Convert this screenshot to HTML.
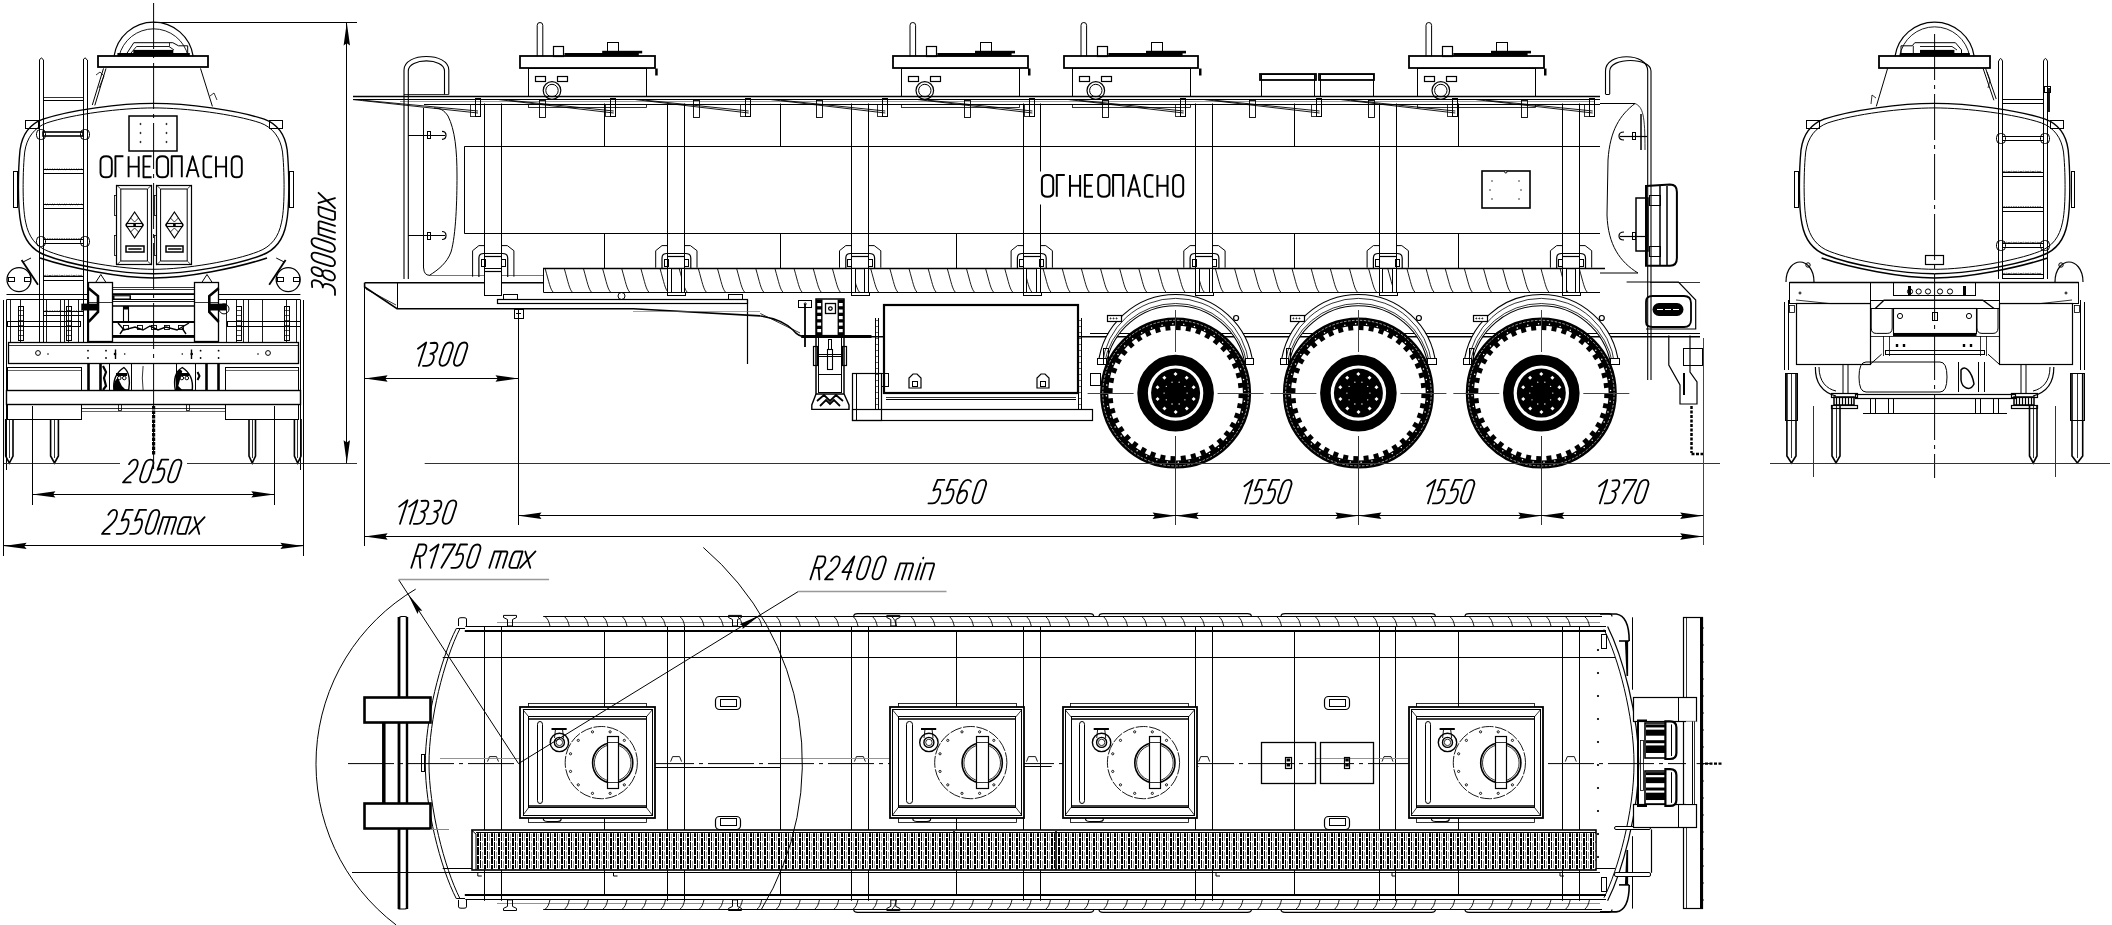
<!DOCTYPE html>
<html><head><meta charset="utf-8"><style>
html,body{margin:0;padding:0;background:#fff;width:2112px;height:925px;overflow:hidden;font-family:"Liberation Sans",sans-serif;}
svg{display:block}
</style></head><body>
<svg width="2112" height="925" viewBox="0 0 2112 925" shape-rendering="auto">
<rect width="2112" height="925" fill="#fff"/>
<line x1="153.6" y1="3" x2="153.6" y2="470" stroke="#000" stroke-width="1" stroke-dasharray="46,5,4,5"/>
<path d="M114,56.4 A40,40 0 0 1 193.2,56.4" fill="none" stroke="#000" stroke-width="1.2" />
<path d="M119,56.4 A35.5,35.5 0 0 1 188.2,56.4" fill="none" stroke="#000" stroke-width="0.9" />
<path d="M127.1,53 L133.8,42.7 L172.8,42.7 L178.5,45.8 L187.7,45.8 L187.7,53" fill="none" stroke="#000" stroke-width="1" />
<path d="M131,53 L136.5,46.5 L169,46.5 L174,50" fill="none" stroke="#000" stroke-width="0.9" />
<line x1="169.5" y1="42.7" x2="169.5" y2="46.5" stroke="#000" stroke-width="0.8"/>
<rect x="117.4" y="53" width="72.4" height="3.3" fill="#000"/>
<rect x="133.3" y="49.9" width="40" height="3.2" fill="#000"/>
<rect x="98" y="56" width="110" height="11" fill="none" stroke="#000" stroke-width="1.8"/>
<line x1="106" y1="68.4" x2="94.8" y2="105.4" stroke="#000" stroke-width="1"/>
<line x1="103.5" y1="68.4" x2="92.3" y2="105" stroke="#000" stroke-width="1"/>
<line x1="200.5" y1="68.4" x2="212.4" y2="106.4" stroke="#000" stroke-width="1"/>
<path d="M96,75 L100,72 L104,76 L99,88" fill="none" stroke="#000" stroke-width="0.8" />
<path d="M210,96 L214,93 L217,100" fill="none" stroke="#000" stroke-width="0.8" />
<path d="M 153.60 103.40 C 120.00 103.40 70.00 110.00 43.00 119.20 C 30.00 124.00 22.00 135.00 20.00 150.00 C 18.50 165.00 18.40 180.00 18.40 187.30 C 18.40 200.00 19.00 215.00 21.00 224.00 C 24.00 240.00 32.00 250.00 45.00 255.00 C 70.00 265.00 120.00 273.80 153.60 273.80" fill="none" stroke="#000" stroke-width="1.4" />
<path d="M 153.60 103.40 C 187.20 103.40 237.20 110.00 264.20 119.20 C 277.20 124.00 285.20 135.00 287.20 150.00 C 288.70 165.00 288.80 180.00 288.80 187.30 C 288.80 200.00 288.20 215.00 286.20 224.00 C 283.20 240.00 275.20 250.00 262.20 255.00 C 237.20 265.00 187.20 273.80 153.60 273.80" fill="none" stroke="#000" stroke-width="1.4" />
<g transform="translate(5.38,10.00) scale(0.965,0.947)"><path d="M 153.60 103.40 C 120.00 103.40 70.00 110.00 43.00 119.20 C 30.00 124.00 22.00 135.00 20.00 150.00 C 18.50 165.00 18.40 180.00 18.40 187.30 C 18.40 200.00 19.00 215.00 21.00 224.00 C 24.00 240.00 32.00 250.00 45.00 255.00 C 70.00 265.00 120.00 273.80 153.60 273.80" fill="none" stroke="#000" stroke-width="1" vector-effect="non-scaling-stroke"/><path d="M 153.60 103.40 C 187.20 103.40 237.20 110.00 264.20 119.20 C 277.20 124.00 285.20 135.00 287.20 150.00 C 288.70 165.00 288.80 180.00 288.80 187.30 C 288.80 200.00 288.20 215.00 286.20 224.00 C 283.20 240.00 275.20 250.00 262.20 255.00 C 237.20 265.00 187.20 273.80 153.60 273.80" fill="none" stroke="#000" stroke-width="1" vector-effect="non-scaling-stroke"/></g>
<path d="M40,258 C70,268 120,278 153.6,278 C187,278 237,268 267,258" fill="none" stroke="#000" stroke-width="1.6" />
<rect x="13.5" y="171.5" width="4" height="36" fill="none" stroke="#000" stroke-width="1"/>
<rect x="289.5" y="171.5" width="4" height="36" fill="none" stroke="#000" stroke-width="1"/>
<rect x="25.5" y="120.5" width="13" height="8" fill="none" stroke="#000" stroke-width="1"/>
<rect x="269.5" y="120.5" width="13" height="8" fill="none" stroke="#000" stroke-width="1"/>
<rect x="129" y="116" width="48" height="35" fill="none" stroke="#000" stroke-width="1.5"/>
<circle cx="140.5" cy="124" r="0.6" fill="none" stroke="#000" stroke-width="1"/>
<circle cx="166.5" cy="124" r="0.6" fill="none" stroke="#000" stroke-width="1"/>
<circle cx="140.5" cy="133" r="0.6" fill="none" stroke="#000" stroke-width="1"/>
<circle cx="166.5" cy="133" r="0.6" fill="none" stroke="#000" stroke-width="1"/>
<circle cx="140.5" cy="142" r="0.6" fill="none" stroke="#000" stroke-width="1"/>
<circle cx="166.5" cy="142" r="0.6" fill="none" stroke="#000" stroke-width="1"/>
<path d="M0,0.22 C0,0.08 0.2,0 0.5,0 C0.8,0 1,0.08 1,0.22 L1,0.78 C1,0.92 0.8,1 0.5,1 C0.2,1 0,0.92 0,0.78 Z" transform="matrix(11.3,0,0,21,100.50,156.3)" fill="none" stroke="#000" stroke-width="1.9" vector-effect="non-scaling-stroke" stroke-linecap="butt" stroke-linejoin="round"/>
<path d="M0,1 L0,0 L1,0" transform="matrix(8,0,0,21,115.40,156.3)" fill="none" stroke="#000" stroke-width="1.9" vector-effect="non-scaling-stroke" stroke-linecap="butt" stroke-linejoin="round"/>
<path d="M0,0 L0,1 M1,0 L1,1 M0,0.49 L1,0.49" transform="matrix(10.1,0,0,21,128.60,156.3)" fill="none" stroke="#000" stroke-width="1.9" vector-effect="non-scaling-stroke" stroke-linecap="butt" stroke-linejoin="round"/>
<path d="M1,0 L0,0 L0,1 L1,1 M0,0.49 L0.85,0.49" transform="matrix(8.1,0,0,21,143.50,156.3)" fill="none" stroke="#000" stroke-width="1.9" vector-effect="non-scaling-stroke" stroke-linecap="butt" stroke-linejoin="round"/>
<path d="M0,0.22 C0,0.08 0.2,0 0.5,0 C0.8,0 1,0.08 1,0.22 L1,0.78 C1,0.92 0.8,1 0.5,1 C0.2,1 0,0.92 0,0.78 Z" transform="matrix(11.3,0,0,21,156.80,156.3)" fill="none" stroke="#000" stroke-width="1.9" vector-effect="non-scaling-stroke" stroke-linecap="butt" stroke-linejoin="round"/>
<path d="M0,1 L0,0 L1,0 L1,1" transform="matrix(10.1,0,0,21,171.70,156.3)" fill="none" stroke="#000" stroke-width="1.9" vector-effect="non-scaling-stroke" stroke-linecap="butt" stroke-linejoin="round"/>
<path d="M0,1 L0.5,0 L1,1 M0.19,0.66 L0.81,0.66" transform="matrix(12.1,0,0,21,186.60,156.3)" fill="none" stroke="#000" stroke-width="1.9" vector-effect="non-scaling-stroke" stroke-linecap="butt" stroke-linejoin="round"/>
<path d="M1,0.02 C0.9,0 0.75,0 0.5,0 C0.2,0 0,0.08 0,0.22 L0,0.78 C0,0.92 0.2,1 0.5,1 C0.75,1 0.9,1 1,0.98" transform="matrix(8.6,0,0,21,203.50,156.3)" fill="none" stroke="#000" stroke-width="1.9" vector-effect="non-scaling-stroke" stroke-linecap="butt" stroke-linejoin="round"/>
<path d="M0,0 L0,1 M1,0 L1,1 M0,0.49 L1,0.49" transform="matrix(10.1,0,0,21,216.00,156.3)" fill="none" stroke="#000" stroke-width="1.9" vector-effect="non-scaling-stroke" stroke-linecap="butt" stroke-linejoin="round"/>
<path d="M0,0.22 C0,0.08 0.2,0 0.5,0 C0.8,0 1,0.08 1,0.22 L1,0.78 C1,0.92 0.8,1 0.5,1 C0.2,1 0,0.92 0,0.78 Z" transform="matrix(10.1,0,0,21,231.70,156.3)" fill="none" stroke="#000" stroke-width="1.9" vector-effect="non-scaling-stroke" stroke-linecap="butt" stroke-linejoin="round"/>
<rect x="116.5" y="185.5" width="35" height="79" fill="none" stroke="#000" stroke-width="1.2"/>
<path d="M120.8,189 L147.4,189 L147.4,261 L120.8,261 Z" fill="none" stroke="#000" stroke-width="1" />
<line x1="116.8" y1="185.3" x2="120.8" y2="189" stroke="#000" stroke-width="0.8"/>
<line x1="151.4" y1="185.3" x2="147.4" y2="189" stroke="#000" stroke-width="0.8"/>
<line x1="116.8" y1="264.8" x2="120.8" y2="261" stroke="#000" stroke-width="0.8"/>
<line x1="151.4" y1="264.8" x2="147.4" y2="261" stroke="#000" stroke-width="0.8"/>
<rect x="114.5" y="195.5" width="2" height="20" fill="none" stroke="#000" stroke-width="0.8"/>
<rect x="114.5" y="235.5" width="2" height="20" fill="none" stroke="#000" stroke-width="0.8"/>
<path d="M134.6,212 L143.3,225 L134.6,238 L125.9,225 Z" fill="none" stroke="#000" stroke-width="1.2" />
<rect x="126.5" y="223.5" width="16" height="3" fill="none" stroke="#000" stroke-width="1.2"/>
<rect x="133.3" y="223.4" width="2.6" height="3.2" fill="#000" stroke="#000" stroke-width="0"/>
<path d="M130.6,218 L134.6,222 L138.6,218 M130.6,232 L134.6,228 L138.6,232" fill="none" stroke="#000" stroke-width="0.8" />
<rect x="126" y="246" width="18" height="6" fill="none" stroke="#000" stroke-width="1.5"/>
<line x1="128.3" y1="249" x2="141.6" y2="249" stroke="#000" stroke-width="1.5"/>
<rect x="156.5" y="185.5" width="35" height="79" fill="none" stroke="#000" stroke-width="1.2"/>
<path d="M160.6,189 L187.2,189 L187.2,261 L160.6,261 Z" fill="none" stroke="#000" stroke-width="1" />
<line x1="156.6" y1="185.3" x2="160.6" y2="189" stroke="#000" stroke-width="0.8"/>
<line x1="191.2" y1="185.3" x2="187.2" y2="189" stroke="#000" stroke-width="0.8"/>
<line x1="156.6" y1="264.8" x2="160.6" y2="261" stroke="#000" stroke-width="0.8"/>
<line x1="191.2" y1="264.8" x2="187.2" y2="261" stroke="#000" stroke-width="0.8"/>
<rect x="154.5" y="195.5" width="2" height="20" fill="none" stroke="#000" stroke-width="0.8"/>
<rect x="154.5" y="235.5" width="2" height="20" fill="none" stroke="#000" stroke-width="0.8"/>
<path d="M174.4,212 L183.1,225 L174.4,238 L165.7,225 Z" fill="none" stroke="#000" stroke-width="1.2" />
<rect x="166.5" y="223.5" width="16" height="3" fill="none" stroke="#000" stroke-width="1.2"/>
<rect x="173.1" y="223.4" width="2.6" height="3.2" fill="#000" stroke="#000" stroke-width="0"/>
<path d="M170.4,218 L174.4,222 L178.4,218 M170.4,232 L174.4,228 L178.4,232" fill="none" stroke="#000" stroke-width="0.8" />
<rect x="166" y="246" width="17" height="6" fill="none" stroke="#000" stroke-width="1.5"/>
<line x1="168.1" y1="249" x2="181.4" y2="249" stroke="#000" stroke-width="1.5"/>
<line x1="39.5" y1="60" x2="39.5" y2="342" stroke="#000" stroke-width="1"/>
<line x1="43.5" y1="60" x2="43.5" y2="342" stroke="#000" stroke-width="1"/>
<line x1="83.5" y1="60" x2="83.5" y2="342" stroke="#000" stroke-width="1"/>
<line x1="87.5" y1="60" x2="87.5" y2="342" stroke="#000" stroke-width="1"/>
<path d="M39.5,60 Q41.4,56 43.3,60" fill="none" stroke="#000" stroke-width="1" />
<path d="M83.2,60 Q85.1,56 87,60" fill="none" stroke="#000" stroke-width="1" />
<rect x="43" y="132" width="40" height="4" fill="none" stroke="#000" stroke-width="1.6"/>
<rect x="43.5" y="169.5" width="40" height="4" fill="none" stroke="#000" stroke-width="1"/>
<path d="M44,169.7 q1.2,-1.5 2.4,0 q1.2,-1.5 2.4,0 q1.2,-1.5 2.4,0 q1.2,-1.5 2.4,0 q1.2,-1.5 2.4,0 q1.2,-1.5 2.4,0 q1.2,-1.5 2.4,0 q1.2,-1.5 2.4,0 q1.2,-1.5 2.4,0 q1.2,-1.5 2.4,0 q1.2,-1.5 2.4,0 q1.2,-1.5 2.4,0 q1.2,-1.5 2.4,0 q1.2,-1.5 2.4,0 q1.2,-1.5 2.4,0 q1.2,-1.5 2.4,0" fill="none" stroke="#000" stroke-width="0.7" />
<rect x="43.5" y="204.5" width="40" height="4" fill="none" stroke="#000" stroke-width="1"/>
<path d="M44,204.8 q1.2,-1.5 2.4,0 q1.2,-1.5 2.4,0 q1.2,-1.5 2.4,0 q1.2,-1.5 2.4,0 q1.2,-1.5 2.4,0 q1.2,-1.5 2.4,0 q1.2,-1.5 2.4,0 q1.2,-1.5 2.4,0 q1.2,-1.5 2.4,0 q1.2,-1.5 2.4,0 q1.2,-1.5 2.4,0 q1.2,-1.5 2.4,0 q1.2,-1.5 2.4,0 q1.2,-1.5 2.4,0 q1.2,-1.5 2.4,0 q1.2,-1.5 2.4,0" fill="none" stroke="#000" stroke-width="0.7" />
<rect x="43.5" y="239.5" width="40" height="4" fill="none" stroke="#000" stroke-width="1"/>
<path d="M44,239.4 q1.2,-1.5 2.4,0 q1.2,-1.5 2.4,0 q1.2,-1.5 2.4,0 q1.2,-1.5 2.4,0 q1.2,-1.5 2.4,0 q1.2,-1.5 2.4,0 q1.2,-1.5 2.4,0 q1.2,-1.5 2.4,0 q1.2,-1.5 2.4,0 q1.2,-1.5 2.4,0 q1.2,-1.5 2.4,0 q1.2,-1.5 2.4,0 q1.2,-1.5 2.4,0 q1.2,-1.5 2.4,0 q1.2,-1.5 2.4,0 q1.2,-1.5 2.4,0" fill="none" stroke="#000" stroke-width="0.7" />
<rect x="43.5" y="276.5" width="40" height="4" fill="none" stroke="#000" stroke-width="1"/>
<path d="M44,276 q1.2,-1.5 2.4,0 q1.2,-1.5 2.4,0 q1.2,-1.5 2.4,0 q1.2,-1.5 2.4,0 q1.2,-1.5 2.4,0 q1.2,-1.5 2.4,0 q1.2,-1.5 2.4,0 q1.2,-1.5 2.4,0 q1.2,-1.5 2.4,0 q1.2,-1.5 2.4,0 q1.2,-1.5 2.4,0 q1.2,-1.5 2.4,0 q1.2,-1.5 2.4,0 q1.2,-1.5 2.4,0 q1.2,-1.5 2.4,0 q1.2,-1.5 2.4,0" fill="none" stroke="#000" stroke-width="0.7" />
<rect x="43.5" y="311.5" width="40" height="4" fill="none" stroke="#000" stroke-width="1"/>
<path d="M44,311.6 q1.2,-1.5 2.4,0 q1.2,-1.5 2.4,0 q1.2,-1.5 2.4,0 q1.2,-1.5 2.4,0 q1.2,-1.5 2.4,0 q1.2,-1.5 2.4,0 q1.2,-1.5 2.4,0 q1.2,-1.5 2.4,0 q1.2,-1.5 2.4,0 q1.2,-1.5 2.4,0 q1.2,-1.5 2.4,0 q1.2,-1.5 2.4,0 q1.2,-1.5 2.4,0 q1.2,-1.5 2.4,0 q1.2,-1.5 2.4,0 q1.2,-1.5 2.4,0" fill="none" stroke="#000" stroke-width="0.7" />
<rect x="36.5" y="129.5" width="9" height="10" fill="none" stroke="#000" stroke-width="1" rx="4"/>
<rect x="80.5" y="129.5" width="9" height="10" fill="none" stroke="#000" stroke-width="1" rx="4"/>
<rect x="36.5" y="236.5" width="9" height="10" fill="none" stroke="#000" stroke-width="1" rx="4"/>
<rect x="80.5" y="236.5" width="9" height="10" fill="none" stroke="#000" stroke-width="1" rx="4"/>
<line x1="43.3" y1="100.5" x2="83.2" y2="100.5" stroke="#000" stroke-width="1"/>
<line x1="43.3" y1="97.5" x2="83.2" y2="97.5" stroke="#000" stroke-width="0.8"/>
<circle cx="19" cy="279.6" r="12" fill="none" stroke="#000" stroke-width="1.3"/>
<rect x="8.5" y="277.5" width="6" height="4" fill="none" stroke="#000" stroke-width="1"/>
<rect x="24.5" y="277.5" width="6" height="4" fill="none" stroke="#000" stroke-width="1"/>
<line x1="21.6" y1="260" x2="38" y2="284.8" stroke="#000" stroke-width="1.8"/>
<line x1="23" y1="262" x2="31" y2="258" stroke="#000" stroke-width="1"/>
<circle cx="288.2" cy="279.6" r="12" fill="none" stroke="#000" stroke-width="1.3"/>
<rect x="277.5" y="277.5" width="6" height="4" fill="none" stroke="#000" stroke-width="1"/>
<rect x="293.5" y="277.5" width="6" height="4" fill="none" stroke="#000" stroke-width="1"/>
<line x1="285.6" y1="260" x2="269.2" y2="284.8" stroke="#000" stroke-width="1.8"/>
<line x1="284.2" y1="262" x2="276.2" y2="258" stroke="#000" stroke-width="1"/>
<line x1="6.5" y1="294.5" x2="300.4" y2="294.5" stroke="#000" stroke-width="1.2"/>
<line x1="6.5" y1="299.5" x2="300.4" y2="299.5" stroke="#000" stroke-width="1"/>
<line x1="6.5" y1="299.7" x2="6.5" y2="470" stroke="#000" stroke-width="1"/>
<line x1="300.5" y1="299.7" x2="300.5" y2="470" stroke="#000" stroke-width="1"/>
<line x1="10.5" y1="300" x2="10.5" y2="342" stroke="#000" stroke-width="0.9"/>
<line x1="20.5" y1="300" x2="20.5" y2="342" stroke="#000" stroke-width="0.9"/>
<line x1="46.5" y1="300" x2="46.5" y2="342" stroke="#000" stroke-width="0.9"/>
<line x1="60.5" y1="300" x2="60.5" y2="342" stroke="#000" stroke-width="0.9"/>
<line x1="64.5" y1="300" x2="64.5" y2="342" stroke="#000" stroke-width="0.9"/>
<line x1="68.5" y1="300" x2="68.5" y2="342" stroke="#000" stroke-width="0.9"/>
<line x1="78.5" y1="300" x2="78.5" y2="342" stroke="#000" stroke-width="0.9"/>
<line x1="226.5" y1="300" x2="226.5" y2="342" stroke="#000" stroke-width="0.9"/>
<line x1="236.5" y1="300" x2="236.5" y2="342" stroke="#000" stroke-width="0.9"/>
<line x1="243.5" y1="300" x2="243.5" y2="342" stroke="#000" stroke-width="0.9"/>
<line x1="248.5" y1="300" x2="248.5" y2="342" stroke="#000" stroke-width="0.9"/>
<line x1="262.5" y1="300" x2="262.5" y2="342" stroke="#000" stroke-width="0.9"/>
<line x1="286.5" y1="300" x2="286.5" y2="342" stroke="#000" stroke-width="0.9"/>
<line x1="296.5" y1="300" x2="296.5" y2="342" stroke="#000" stroke-width="0.9"/>
<rect x="18.5" y="306.5" width="5" height="34" fill="none" stroke="#000" stroke-width="1"/>
<line x1="18" y1="310.5" x2="23" y2="310.5" stroke="#000" stroke-width="0.7"/>
<line x1="18" y1="315.5" x2="23" y2="315.5" stroke="#000" stroke-width="0.7"/>
<line x1="18" y1="320.5" x2="23" y2="320.5" stroke="#000" stroke-width="0.7"/>
<line x1="18" y1="325.5" x2="23" y2="325.5" stroke="#000" stroke-width="0.7"/>
<line x1="18" y1="330.5" x2="23" y2="330.5" stroke="#000" stroke-width="0.7"/>
<line x1="18" y1="335.5" x2="23" y2="335.5" stroke="#000" stroke-width="0.7"/>
<rect x="66.5" y="306.5" width="5" height="34" fill="none" stroke="#000" stroke-width="1"/>
<line x1="66" y1="310.5" x2="71" y2="310.5" stroke="#000" stroke-width="0.7"/>
<line x1="66" y1="315.5" x2="71" y2="315.5" stroke="#000" stroke-width="0.7"/>
<line x1="66" y1="320.5" x2="71" y2="320.5" stroke="#000" stroke-width="0.7"/>
<line x1="66" y1="325.5" x2="71" y2="325.5" stroke="#000" stroke-width="0.7"/>
<line x1="66" y1="330.5" x2="71" y2="330.5" stroke="#000" stroke-width="0.7"/>
<line x1="66" y1="335.5" x2="71" y2="335.5" stroke="#000" stroke-width="0.7"/>
<rect x="236.5" y="306.5" width="5" height="34" fill="none" stroke="#000" stroke-width="1"/>
<line x1="236" y1="310.5" x2="241" y2="310.5" stroke="#000" stroke-width="0.7"/>
<line x1="236" y1="315.5" x2="241" y2="315.5" stroke="#000" stroke-width="0.7"/>
<line x1="236" y1="320.5" x2="241" y2="320.5" stroke="#000" stroke-width="0.7"/>
<line x1="236" y1="325.5" x2="241" y2="325.5" stroke="#000" stroke-width="0.7"/>
<line x1="236" y1="330.5" x2="241" y2="330.5" stroke="#000" stroke-width="0.7"/>
<line x1="236" y1="335.5" x2="241" y2="335.5" stroke="#000" stroke-width="0.7"/>
<rect x="284.5" y="306.5" width="5" height="34" fill="none" stroke="#000" stroke-width="1"/>
<line x1="284" y1="310.5" x2="289" y2="310.5" stroke="#000" stroke-width="0.7"/>
<line x1="284" y1="315.5" x2="289" y2="315.5" stroke="#000" stroke-width="0.7"/>
<line x1="284" y1="320.5" x2="289" y2="320.5" stroke="#000" stroke-width="0.7"/>
<line x1="284" y1="325.5" x2="289" y2="325.5" stroke="#000" stroke-width="0.7"/>
<line x1="284" y1="330.5" x2="289" y2="330.5" stroke="#000" stroke-width="0.7"/>
<line x1="284" y1="335.5" x2="289" y2="335.5" stroke="#000" stroke-width="0.7"/>
<rect x="7.5" y="321.5" width="73" height="5" fill="none" stroke="#000" stroke-width="1"/>
<rect x="227.5" y="321.5" width="73" height="5" fill="none" stroke="#000" stroke-width="1"/>
<rect x="88.5" y="282.5" width="24" height="59" fill="#fff" stroke="#000" stroke-width="1.3"/>
<rect x="194.5" y="282.5" width="24" height="59" fill="#fff" stroke="#000" stroke-width="1.3"/>
<line x1="88.6" y1="302.5" x2="112.1" y2="302.5" stroke="#000" stroke-width="0.8"/>
<line x1="194.4" y1="302.5" x2="218.7" y2="302.5" stroke="#000" stroke-width="0.8"/>
<line x1="112.1" y1="287.5" x2="194.4" y2="287.5" stroke="#000" stroke-width="0.8"/>
<line x1="112.1" y1="289.5" x2="194.4" y2="289.5" stroke="#000" stroke-width="0.8"/>
<line x1="112.1" y1="293.5" x2="194.4" y2="293.5" stroke="#000" stroke-width="0.8"/>
<line x1="112.1" y1="301.5" x2="194.4" y2="301.5" stroke="#000" stroke-width="0.9"/>
<line x1="112.1" y1="306" x2="194.4" y2="306" stroke="#000" stroke-width="1.6"/>
<line x1="112.1" y1="322" x2="194.4" y2="322" stroke="#000" stroke-width="1.8"/>
<line x1="112.1" y1="336" x2="194.4" y2="336" stroke="#000" stroke-width="2.2"/>
<line x1="112.1" y1="337.5" x2="194.4" y2="337.5" stroke="#000" stroke-width="0.9"/>
<rect x="113" y="295.2" width="18" height="4.4" fill="#000"/><rect x="114.5" y="296.3" width="15" height="2.2" fill="#fff"/>
<rect x="123.5" y="306.5" width="5" height="15" fill="none" stroke="#000" stroke-width="1.1"/>
<rect x="123.5" y="306.5" width="4.8" height="3" fill="#000"/>
<path d="M118,323 L124,330 L135,327 L143,330 L150,326 L158,330 L166,327 L177,330 L189,323 M120,334 L124,328 M186,334 L182,328" fill="none" stroke="#000" stroke-width="1.4" />
<rect x="123.5" y="325.5" width="5" height="4" fill="none" stroke="#000" stroke-width="0.9"/>
<rect x="137.5" y="325.5" width="5" height="4" fill="none" stroke="#000" stroke-width="0.9"/>
<rect x="151.5" y="325.5" width="5" height="4" fill="none" stroke="#000" stroke-width="0.9"/>
<rect x="164.5" y="325.5" width="5" height="4" fill="none" stroke="#000" stroke-width="0.9"/>
<rect x="178.5" y="325.5" width="5" height="4" fill="none" stroke="#000" stroke-width="0.9"/>
<path d="M95.8,282.2 L100.8,274.5 L105.8,282.2" fill="none" stroke="#000" stroke-width="1" />
<path d="M202,282.2 L207,274.5 L212,282.2" fill="none" stroke="#000" stroke-width="1" />
<path d="M88.6,288.2 L98,296 L98,312 L88.6,321.9" fill="none" stroke="#000" stroke-width="2.6" />
<rect x="81.3" y="303.6" width="16.7" height="6.9" fill="#000"/>
<path d="M218.7,288.2 L209.3,296 L209.3,312 L218.7,321.9" fill="none" stroke="#000" stroke-width="2.6" />
<rect x="209.3" y="303.6" width="16.7" height="6.9" fill="#000"/>
<circle cx="224" cy="308.9" r="5" fill="none" stroke="#000" stroke-width="1"/>
<rect x="8.5" y="342.5" width="290" height="21" fill="none" stroke="#000" stroke-width="1.3"/>
<line x1="8.6" y1="345.5" x2="298.3" y2="345.5" stroke="#000" stroke-width="0.8"/>
<circle cx="88" cy="350.7" r="0.9" fill="#000" stroke="#000" stroke-width="0"/>
<circle cx="88" cy="358" r="0.9" fill="#000" stroke="#000" stroke-width="0"/>
<circle cx="106" cy="350.7" r="0.9" fill="#000" stroke="#000" stroke-width="0"/>
<circle cx="106" cy="358" r="0.9" fill="#000" stroke="#000" stroke-width="0"/>
<circle cx="200.6" cy="350.7" r="0.9" fill="#000" stroke="#000" stroke-width="0"/>
<circle cx="200.6" cy="358" r="0.9" fill="#000" stroke="#000" stroke-width="0"/>
<circle cx="218.6" cy="350.7" r="0.9" fill="#000" stroke="#000" stroke-width="0"/>
<circle cx="218.6" cy="358" r="0.9" fill="#000" stroke="#000" stroke-width="0"/>
<line x1="115.5" y1="349.5" x2="115.5" y2="359" stroke="#000" stroke-width="1.4"/>
<circle cx="115" cy="354" r="1.3" fill="#000" stroke="#000" stroke-width="0"/>
<line x1="191.5" y1="349.5" x2="191.5" y2="359" stroke="#000" stroke-width="1.4"/>
<circle cx="191.7" cy="354" r="1.3" fill="#000" stroke="#000" stroke-width="0"/>
<circle cx="124.7" cy="354" r="0.8" fill="#000" stroke="#000" stroke-width="0"/>
<circle cx="182.3" cy="354" r="0.8" fill="#000" stroke="#000" stroke-width="0"/>
<circle cx="48" cy="354" r="0.8" fill="#000" stroke="#000" stroke-width="0"/>
<circle cx="258" cy="354" r="0.8" fill="#000" stroke="#000" stroke-width="0"/>
<circle cx="38" cy="353" r="2.4" fill="none" stroke="#000" stroke-width="1"/>
<circle cx="268" cy="353" r="2.4" fill="none" stroke="#000" stroke-width="1"/>
<rect x="7.5" y="367.5" width="74" height="23" fill="none" stroke="#000" stroke-width="1"/>
<rect x="225.5" y="367.5" width="73" height="23" fill="none" stroke="#000" stroke-width="1"/>
<line x1="7.8" y1="370.5" x2="81.7" y2="370.5" stroke="#000" stroke-width="0.6"/>
<line x1="225.7" y1="370.5" x2="298.3" y2="370.5" stroke="#000" stroke-width="0.6"/>
<line x1="88.5" y1="364" x2="88.5" y2="390.5" stroke="#000" stroke-width="2.6"/>
<line x1="100.5" y1="364" x2="100.5" y2="390.5" stroke="#000" stroke-width="2.6"/>
<line x1="109.5" y1="364" x2="109.5" y2="390.5" stroke="#000" stroke-width="1"/>
<line x1="131.5" y1="364" x2="131.5" y2="390.5" stroke="#000" stroke-width="1"/>
<line x1="176.5" y1="364" x2="176.5" y2="390.5" stroke="#000" stroke-width="1"/>
<line x1="195.5" y1="364" x2="195.5" y2="390.5" stroke="#000" stroke-width="1"/>
<line x1="206.5" y1="364" x2="206.5" y2="390.5" stroke="#000" stroke-width="2.6"/>
<line x1="218.5" y1="364" x2="218.5" y2="390.5" stroke="#000" stroke-width="2.6"/>
<path d="M103,366 L106,372 L104,378 L106,386 L103,390" fill="none" stroke="#000" stroke-width="2.2" />
<path d="M197.5,372 L199.5,376 L197.5,380" fill="none" stroke="#000" stroke-width="2" />
<path d="M143.1,366 Q141.5,378 143.1,390" fill="none" stroke="#000" stroke-width="0.8" />
<path d="M113.9,390 C112.9,380 116.9,372 123.9,367.5 C129.7,372 130.2,382 128.7,390 Z" fill="none" stroke="#000" stroke-width="1.4" />
<path d="M113.9,390 C112.9,384 114.9,380 117.9,378 L121.9,386 L125.9,390 Z" fill="#000"/>
<circle cx="119.3" cy="378" r="1.8" fill="none" stroke="#000" stroke-width="1"/>
<circle cx="124.3" cy="378" r="1.8" fill="none" stroke="#000" stroke-width="1"/>
<rect x="116.5" y="373.5" width="10" height="2" fill="#000" stroke="#000" stroke-width="1"/>
<path d="M192.3,390 C193.3,380 189.3,372 182.3,367.5 C174.3,372 173.8,382 175.3,390 Z" fill="none" stroke="#000" stroke-width="1.4" />
<path d="M175.3,376 L179.3,369 L182.3,371 L178.3,386 L182.3,390 L176.3,390 Z" fill="#000"/>
<circle cx="181.8" cy="378" r="1.8" fill="none" stroke="#000" stroke-width="1"/>
<circle cx="186.8" cy="378" r="1.8" fill="none" stroke="#000" stroke-width="1"/>
<rect x="178.5" y="373.5" width="10" height="2" fill="#000" stroke="#000" stroke-width="1"/>
<rect x="6.5" y="390.5" width="294" height="14" fill="none" stroke="#000" stroke-width="1.4"/>
<rect x="7.5" y="404.5" width="74" height="15" fill="none" stroke="#000" stroke-width="1"/>
<rect x="225.5" y="404.5" width="73" height="15" fill="none" stroke="#000" stroke-width="1"/>
<rect x="118.5" y="404.5" width="3" height="6" fill="none" stroke="#000" stroke-width="0.8"/>
<rect x="186.5" y="404.5" width="3" height="6" fill="none" stroke="#000" stroke-width="0.8"/>
<line x1="81.7" y1="408.5" x2="225.7" y2="408.5" stroke="#000" stroke-width="0.8"/>
<line x1="81.7" y1="411.5" x2="225.7" y2="411.5" stroke="#000" stroke-width="0.6"/>
<path d="M5.7,419 L5.7,456 L9.35,463 L13,456 L13,419" fill="none" stroke="#000" stroke-width="1.6" />
<line x1="9.5" y1="419" x2="9.5" y2="458" stroke="#000" stroke-width="0.8"/>
<path d="M50.6,419 L50.6,456 L54.5,463 L58.4,456 L58.4,419" fill="none" stroke="#000" stroke-width="1.6" />
<line x1="54.5" y1="419" x2="54.5" y2="458" stroke="#000" stroke-width="0.8"/>
<path d="M249,419 L249,456 L252.25,463 L255.5,456 L255.5,419" fill="none" stroke="#000" stroke-width="1.6" />
<line x1="252.5" y1="419" x2="252.5" y2="458" stroke="#000" stroke-width="0.8"/>
<path d="M294.4,419 L294.4,456 L297.7,463 L301,456 L301,419" fill="none" stroke="#000" stroke-width="1.6" />
<line x1="297.5" y1="419" x2="297.5" y2="458" stroke="#000" stroke-width="0.8"/>
<line x1="153.6" y1="406" x2="153.6" y2="455" stroke="#000" stroke-width="3.2" stroke-dasharray="3.5,1"/>
<line x1="353" y1="96.5" x2="1600" y2="96.5" stroke="#000" stroke-width="1.3"/>
<line x1="353" y1="99.5" x2="1600" y2="99.5" stroke="#000" stroke-width="1.2"/>
<line x1="400" y1="101.5" x2="1595" y2="101.5" stroke="#888" stroke-width="0.8"/>
<path d="M353,99.6 L478,113 M363,100.2 L478,111" fill="none" stroke="#000" stroke-width="0.9" />
<path d="M498.8,99.6 L613.7,113 M508.8,100.2 L613.7,111" fill="none" stroke="#000" stroke-width="0.9" />
<path d="M635.5,99.6 L748.7,113 M645.5,100.2 L748.7,111" fill="none" stroke="#000" stroke-width="0.9" />
<path d="M771,99.6 L885.3,113 M781,100.2 L885.3,111" fill="none" stroke="#000" stroke-width="0.9" />
<path d="M918,99.6 L1032.4,113 M928,100.2 L1032.4,111" fill="none" stroke="#000" stroke-width="0.9" />
<path d="M1068.7,99.6 L1183.6,113 M1078.7,100.2 L1183.6,111" fill="none" stroke="#000" stroke-width="0.9" />
<path d="M1204.4,99.6 L1319.6,113 M1214.4,100.2 L1319.6,111" fill="none" stroke="#000" stroke-width="0.9" />
<path d="M1341,99.6 L1455.3,113 M1351,100.2 L1455.3,111" fill="none" stroke="#000" stroke-width="0.9" />
<path d="M1476,99.6 L1592.7,113 M1486,100.2 L1592.7,111" fill="none" stroke="#000" stroke-width="0.9" />
<rect x="475.5" y="98.5" width="5" height="18" fill="none" stroke="#000" stroke-width="1"/>
<rect x="470.5" y="104.5" width="5" height="12" fill="none" stroke="#000" stroke-width="0.8"/>
<rect x="610.5" y="98.5" width="5" height="18" fill="none" stroke="#000" stroke-width="1"/>
<rect x="605.5" y="104.5" width="5" height="12" fill="none" stroke="#000" stroke-width="0.8"/>
<rect x="745.5" y="98.5" width="5" height="18" fill="none" stroke="#000" stroke-width="1"/>
<rect x="740.5" y="104.5" width="5" height="12" fill="none" stroke="#000" stroke-width="0.8"/>
<rect x="882.5" y="98.5" width="5" height="18" fill="none" stroke="#000" stroke-width="1"/>
<rect x="877.5" y="104.5" width="5" height="12" fill="none" stroke="#000" stroke-width="0.8"/>
<rect x="1029.5" y="98.5" width="5" height="18" fill="none" stroke="#000" stroke-width="1"/>
<rect x="1024.5" y="104.5" width="5" height="12" fill="none" stroke="#000" stroke-width="0.8"/>
<rect x="1180.5" y="98.5" width="5" height="18" fill="none" stroke="#000" stroke-width="1"/>
<rect x="1175.5" y="104.5" width="5" height="12" fill="none" stroke="#000" stroke-width="0.8"/>
<rect x="1316.5" y="98.5" width="5" height="18" fill="none" stroke="#000" stroke-width="1"/>
<rect x="1311.5" y="104.5" width="5" height="12" fill="none" stroke="#000" stroke-width="0.8"/>
<rect x="1452.5" y="98.5" width="5" height="18" fill="none" stroke="#000" stroke-width="1"/>
<rect x="1447.5" y="104.5" width="5" height="12" fill="none" stroke="#000" stroke-width="0.8"/>
<rect x="1589.5" y="98.5" width="5" height="18" fill="none" stroke="#000" stroke-width="1"/>
<rect x="1584.5" y="104.5" width="5" height="12" fill="none" stroke="#000" stroke-width="0.8"/>
<rect x="539.5" y="100.5" width="6" height="17" fill="none" stroke="#000" stroke-width="0.9"/>
<rect x="693.5" y="100.5" width="6" height="17" fill="none" stroke="#000" stroke-width="0.9"/>
<rect x="816.5" y="100.5" width="6" height="17" fill="none" stroke="#000" stroke-width="0.9"/>
<rect x="964.5" y="100.5" width="6" height="17" fill="none" stroke="#000" stroke-width="0.9"/>
<rect x="1102.5" y="100.5" width="6" height="17" fill="none" stroke="#000" stroke-width="0.9"/>
<rect x="1249.5" y="100.5" width="6" height="17" fill="none" stroke="#000" stroke-width="0.9"/>
<rect x="1368.5" y="100.5" width="6" height="17" fill="none" stroke="#000" stroke-width="0.9"/>
<rect x="1521.5" y="100.5" width="6" height="17" fill="none" stroke="#000" stroke-width="0.9"/>
<rect x="520" y="56" width="135" height="12" fill="none" stroke="#000" stroke-width="1.8"/>
<rect x="528.5" y="68.5" width="118" height="28" fill="none" stroke="#000" stroke-width="1"/>
<path d="M537.2,56.4 L537.2,25.3 A2.8,2.8 0 0 1 542.8000000000001,25.3 L542.8000000000001,56.4" fill="none" stroke="#000" stroke-width="1" />
<rect x="553.5" y="46.5" width="10" height="10" fill="none" stroke="#000" stroke-width="1.2"/>
<rect x="564.5" y="53" width="74.3" height="3.4" fill="#000"/>
<rect x="602.2" y="50.8" width="40" height="2.6" fill="#000"/>
<rect x="607.5" y="42.5" width="11" height="11" fill="none" stroke="#000" stroke-width="1"/>
<rect x="535.5" y="76.5" width="10" height="5" fill="none" stroke="#000" stroke-width="1.2"/>
<rect x="557.5" y="76.5" width="10" height="5" fill="none" stroke="#000" stroke-width="1.2"/>
<circle cx="552" cy="90.5" r="8.8" fill="none" stroke="#000" stroke-width="1.2"/>
<circle cx="552" cy="90.5" r="6.2" fill="none" stroke="#000" stroke-width="1"/>
<rect x="528.5" y="104.5" width="118" height="3" fill="none" stroke="#000" stroke-width="0.8"/>
<rect x="655.2" y="68.5" width="2.5" height="7" fill="#000"/>
<rect x="893" y="56" width="135" height="12" fill="none" stroke="#000" stroke-width="1.8"/>
<rect x="901.5" y="68.5" width="118" height="28" fill="none" stroke="#000" stroke-width="1"/>
<path d="M910.0,56.4 L910.0,25.3 A2.8,2.8 0 0 1 915.6,25.3 L915.6,56.4" fill="none" stroke="#000" stroke-width="1" />
<rect x="926.5" y="46.5" width="10" height="10" fill="none" stroke="#000" stroke-width="1.2"/>
<rect x="937.3" y="53" width="74.3" height="3.4" fill="#000"/>
<rect x="975" y="50.8" width="40" height="2.6" fill="#000"/>
<rect x="980.5" y="42.5" width="11" height="11" fill="none" stroke="#000" stroke-width="1"/>
<rect x="908.5" y="76.5" width="10" height="5" fill="none" stroke="#000" stroke-width="1.2"/>
<rect x="930.5" y="76.5" width="10" height="5" fill="none" stroke="#000" stroke-width="1.2"/>
<circle cx="924.8" cy="90.5" r="8.8" fill="none" stroke="#000" stroke-width="1.2"/>
<circle cx="924.8" cy="90.5" r="6.2" fill="none" stroke="#000" stroke-width="1"/>
<rect x="901.5" y="104.5" width="118" height="3" fill="none" stroke="#000" stroke-width="0.8"/>
<rect x="1028" y="68.5" width="2.5" height="7" fill="#000"/>
<rect x="1064" y="56" width="134" height="12" fill="none" stroke="#000" stroke-width="1.8"/>
<rect x="1072.5" y="68.5" width="118" height="28" fill="none" stroke="#000" stroke-width="1"/>
<path d="M1081.0,56.4 L1081.0,25.3 A2.8,2.8 0 0 1 1086.6,25.3 L1086.6,56.4" fill="none" stroke="#000" stroke-width="1" />
<rect x="1097.5" y="46.5" width="10" height="10" fill="none" stroke="#000" stroke-width="1.2"/>
<rect x="1108.3" y="53" width="74.3" height="3.4" fill="#000"/>
<rect x="1146" y="50.8" width="40" height="2.6" fill="#000"/>
<rect x="1151.5" y="42.5" width="11" height="11" fill="none" stroke="#000" stroke-width="1"/>
<rect x="1079.5" y="76.5" width="10" height="5" fill="none" stroke="#000" stroke-width="1.2"/>
<rect x="1101.5" y="76.5" width="10" height="5" fill="none" stroke="#000" stroke-width="1.2"/>
<circle cx="1095.8" cy="90.5" r="8.8" fill="none" stroke="#000" stroke-width="1.2"/>
<circle cx="1095.8" cy="90.5" r="6.2" fill="none" stroke="#000" stroke-width="1"/>
<rect x="1072.5" y="104.5" width="118" height="3" fill="none" stroke="#000" stroke-width="0.8"/>
<rect x="1199" y="68.5" width="2.5" height="7" fill="#000"/>
<rect x="1409" y="56" width="135" height="12" fill="none" stroke="#000" stroke-width="1.8"/>
<rect x="1417.5" y="68.5" width="118" height="28" fill="none" stroke="#000" stroke-width="1"/>
<path d="M1426.0,56.4 L1426.0,25.3 A2.8,2.8 0 0 1 1431.6,25.3 L1431.6,56.4" fill="none" stroke="#000" stroke-width="1" />
<rect x="1442.5" y="46.5" width="10" height="10" fill="none" stroke="#000" stroke-width="1.2"/>
<rect x="1453.3" y="53" width="74.3" height="3.4" fill="#000"/>
<rect x="1491" y="50.8" width="40" height="2.6" fill="#000"/>
<rect x="1496.5" y="42.5" width="11" height="11" fill="none" stroke="#000" stroke-width="1"/>
<rect x="1424.5" y="76.5" width="10" height="5" fill="none" stroke="#000" stroke-width="1.2"/>
<rect x="1446.5" y="76.5" width="10" height="5" fill="none" stroke="#000" stroke-width="1.2"/>
<circle cx="1440.8" cy="90.5" r="8.8" fill="none" stroke="#000" stroke-width="1.2"/>
<circle cx="1440.8" cy="90.5" r="6.2" fill="none" stroke="#000" stroke-width="1"/>
<rect x="1417.5" y="104.5" width="118" height="3" fill="none" stroke="#000" stroke-width="0.8"/>
<rect x="1544" y="68.5" width="2.5" height="7" fill="#000"/>
<rect x="1261.5" y="74.5" width="53" height="22" fill="none" stroke="#000" stroke-width="1"/>
<rect x="1260" y="74" width="56" height="6" fill="none" stroke="#000" stroke-width="1.8"/>
<rect x="1320.5" y="74.5" width="53" height="22" fill="none" stroke="#000" stroke-width="1"/>
<rect x="1319" y="74" width="55" height="6" fill="none" stroke="#000" stroke-width="1.8"/>
<line x1="424" y1="104.5" x2="1600" y2="104.5" stroke="#000" stroke-width="1.1"/>
<line x1="464.5" y1="146.5" x2="1600" y2="146.5" stroke="#000" stroke-width="1"/>
<line x1="464.5" y1="233.5" x2="1600" y2="233.5" stroke="#000" stroke-width="1"/>
<line x1="464.5" y1="146.4" x2="464.5" y2="233.6" stroke="#000" stroke-width="1"/>
<line x1="543" y1="268.5" x2="1605" y2="268.5" stroke="#000" stroke-width="1.4"/>
<line x1="429" y1="275.5" x2="543" y2="275.5" stroke="#666" stroke-width="0.9"/>
<line x1="604.5" y1="103.5" x2="604.5" y2="146.4" stroke="#000" stroke-width="1"/>
<line x1="780.5" y1="103.5" x2="780.5" y2="146.4" stroke="#000" stroke-width="1"/>
<line x1="1294.5" y1="103.5" x2="1294.5" y2="146.4" stroke="#000" stroke-width="1"/>
<line x1="1458.5" y1="103.5" x2="1458.5" y2="146.4" stroke="#000" stroke-width="1"/>
<line x1="604.5" y1="233.6" x2="604.5" y2="268.3" stroke="#000" stroke-width="1"/>
<line x1="780.5" y1="233.6" x2="780.5" y2="268.3" stroke="#000" stroke-width="1"/>
<line x1="956.5" y1="233.6" x2="956.5" y2="268.3" stroke="#000" stroke-width="1"/>
<line x1="1294.5" y1="233.6" x2="1294.5" y2="268.3" stroke="#000" stroke-width="1"/>
<line x1="1458.5" y1="233.6" x2="1458.5" y2="268.3" stroke="#000" stroke-width="1"/>
<line x1="423.5" y1="108" x2="423.5" y2="268" stroke="#000" stroke-width="1"/>
<path d="M423.6,268 Q424,275.3 429.5,275.3 C438,270 447,263 451,252 C456,235 457,200 457,176 C457,150 455,130 448,116 C444,110 440,108 434,108" fill="none" stroke="#000" stroke-width="1" />
<path d="M404,279 L404,70 C404,52 448.8,52 448.8,70 L448.8,94.5" fill="none" stroke="#000" stroke-width="1.1" />
<path d="M408.3,279 L408.3,71 C408.3,57.5 444.5,57.5 444.5,71 L444.5,94.5" fill="none" stroke="#000" stroke-width="1.1" />
<line x1="404" y1="94.5" x2="448.8" y2="94.5" stroke="#000" stroke-width="0.8"/>
<line x1="408" y1="135.5" x2="445" y2="135.5" stroke="#000" stroke-width="1.2"/>
<rect x="427.5" y="131.5" width="3" height="7" fill="none" stroke="#000" stroke-width="1"/>
<path d="M442,131.3 Q446,131.3 446,135.3 Q446,139.3 442,139.3" fill="none" stroke="#000" stroke-width="1.2" />
<line x1="408" y1="235.5" x2="445" y2="235.5" stroke="#000" stroke-width="1.2"/>
<rect x="427.5" y="232.5" width="3" height="7" fill="none" stroke="#000" stroke-width="1"/>
<path d="M442,231.5 Q446,231.5 446,235.5 Q446,239.5 442,239.5" fill="none" stroke="#000" stroke-width="1.2" />
<line x1="543.4" y1="268.5" x2="1600" y2="268.5" stroke="#000" stroke-width="1"/>
<line x1="543.4" y1="292.5" x2="1600" y2="292.5" stroke="#000" stroke-width="1"/>
<line x1="543.5" y1="268.5" x2="543.5" y2="292.2" stroke="#000" stroke-width="1"/>
<path d="M545.2,268.8 C549.2,283 550.2,289 553.2,292.2" fill="none" stroke="#000" stroke-width="0.9" />
<path d="M564.35,268.8 C568.35,283 569.35,289 572.35,292.2" fill="none" stroke="#000" stroke-width="0.9" />
<path d="M583.5,268.8 C587.5,283 588.5,289 591.5,292.2" fill="none" stroke="#000" stroke-width="0.9" />
<path d="M602.65,268.8 C606.65,283 607.65,289 610.65,292.2" fill="none" stroke="#000" stroke-width="0.9" />
<path d="M621.8,268.8 C625.8,283 626.8,289 629.8,292.2" fill="none" stroke="#000" stroke-width="0.9" />
<path d="M640.95,268.8 C644.95,283 645.95,289 648.95,292.2" fill="none" stroke="#000" stroke-width="0.9" />
<path d="M660.1,268.8 C664.1,283 665.1,289 668.1,292.2" fill="none" stroke="#000" stroke-width="0.9" />
<path d="M679.25,268.8 C683.25,283 684.25,289 687.25,292.2" fill="none" stroke="#000" stroke-width="0.9" />
<path d="M698.4,268.8 C702.4,283 703.4,289 706.4,292.2" fill="none" stroke="#000" stroke-width="0.9" />
<path d="M717.55,268.8 C721.55,283 722.55,289 725.55,292.2" fill="none" stroke="#000" stroke-width="0.9" />
<path d="M736.7,268.8 C740.7,283 741.7,289 744.7,292.2" fill="none" stroke="#000" stroke-width="0.9" />
<path d="M755.85,268.8 C759.85,283 760.85,289 763.85,292.2" fill="none" stroke="#000" stroke-width="0.9" />
<path d="M775,268.8 C779,283 780,289 783,292.2" fill="none" stroke="#000" stroke-width="0.9" />
<path d="M794.15,268.8 C798.15,283 799.15,289 802.15,292.2" fill="none" stroke="#000" stroke-width="0.9" />
<path d="M813.3,268.8 C817.3,283 818.3,289 821.3,292.2" fill="none" stroke="#000" stroke-width="0.9" />
<path d="M832.45,268.8 C836.45,283 837.45,289 840.45,292.2" fill="none" stroke="#000" stroke-width="0.9" />
<path d="M851.6,268.8 C855.6,283 856.6,289 859.6,292.2" fill="none" stroke="#000" stroke-width="0.9" />
<path d="M870.75,268.8 C874.75,283 875.75,289 878.75,292.2" fill="none" stroke="#000" stroke-width="0.9" />
<path d="M889.9,268.8 C893.9,283 894.9,289 897.9,292.2" fill="none" stroke="#000" stroke-width="0.9" />
<path d="M909.05,268.8 C913.05,283 914.05,289 917.05,292.2" fill="none" stroke="#000" stroke-width="0.9" />
<path d="M928.2,268.8 C932.2,283 933.2,289 936.2,292.2" fill="none" stroke="#000" stroke-width="0.9" />
<path d="M947.35,268.8 C951.35,283 952.35,289 955.35,292.2" fill="none" stroke="#000" stroke-width="0.9" />
<path d="M966.5,268.8 C970.5,283 971.5,289 974.5,292.2" fill="none" stroke="#000" stroke-width="0.9" />
<path d="M985.65,268.8 C989.65,283 990.65,289 993.65,292.2" fill="none" stroke="#000" stroke-width="0.9" />
<path d="M1004.8,268.8 C1008.8,283 1009.8,289 1012.8,292.2" fill="none" stroke="#000" stroke-width="0.9" />
<path d="M1023.95,268.8 C1027.95,283 1028.95,289 1031.95,292.2" fill="none" stroke="#000" stroke-width="0.9" />
<path d="M1043.1,268.8 C1047.1,283 1048.1,289 1051.1,292.2" fill="none" stroke="#000" stroke-width="0.9" />
<path d="M1062.25,268.8 C1066.25,283 1067.25,289 1070.25,292.2" fill="none" stroke="#000" stroke-width="0.9" />
<path d="M1081.4,268.8 C1085.4,283 1086.4,289 1089.4,292.2" fill="none" stroke="#000" stroke-width="0.9" />
<path d="M1100.55,268.8 C1104.55,283 1105.55,289 1108.55,292.2" fill="none" stroke="#000" stroke-width="0.9" />
<path d="M1119.7,268.8 C1123.7,283 1124.7,289 1127.7,292.2" fill="none" stroke="#000" stroke-width="0.9" />
<path d="M1138.85,268.8 C1142.85,283 1143.85,289 1146.85,292.2" fill="none" stroke="#000" stroke-width="0.9" />
<path d="M1158,268.8 C1162,283 1163,289 1166,292.2" fill="none" stroke="#000" stroke-width="0.9" />
<path d="M1177.15,268.8 C1181.15,283 1182.15,289 1185.15,292.2" fill="none" stroke="#000" stroke-width="0.9" />
<path d="M1196.3,268.8 C1200.3,283 1201.3,289 1204.3,292.2" fill="none" stroke="#000" stroke-width="0.9" />
<path d="M1215.45,268.8 C1219.45,283 1220.45,289 1223.45,292.2" fill="none" stroke="#000" stroke-width="0.9" />
<path d="M1234.6,268.8 C1238.6,283 1239.6,289 1242.6,292.2" fill="none" stroke="#000" stroke-width="0.9" />
<path d="M1253.75,268.8 C1257.75,283 1258.75,289 1261.75,292.2" fill="none" stroke="#000" stroke-width="0.9" />
<path d="M1272.9,268.8 C1276.9,283 1277.9,289 1280.9,292.2" fill="none" stroke="#000" stroke-width="0.9" />
<path d="M1292.05,268.8 C1296.05,283 1297.05,289 1300.05,292.2" fill="none" stroke="#000" stroke-width="0.9" />
<path d="M1311.2,268.8 C1315.2,283 1316.2,289 1319.2,292.2" fill="none" stroke="#000" stroke-width="0.9" />
<path d="M1330.35,268.8 C1334.35,283 1335.35,289 1338.35,292.2" fill="none" stroke="#000" stroke-width="0.9" />
<path d="M1349.5,268.8 C1353.5,283 1354.5,289 1357.5,292.2" fill="none" stroke="#000" stroke-width="0.9" />
<path d="M1368.65,268.8 C1372.65,283 1373.65,289 1376.65,292.2" fill="none" stroke="#000" stroke-width="0.9" />
<path d="M1387.8,268.8 C1391.8,283 1392.8,289 1395.8,292.2" fill="none" stroke="#000" stroke-width="0.9" />
<path d="M1406.95,268.8 C1410.95,283 1411.95,289 1414.95,292.2" fill="none" stroke="#000" stroke-width="0.9" />
<path d="M1426.1,268.8 C1430.1,283 1431.1,289 1434.1,292.2" fill="none" stroke="#000" stroke-width="0.9" />
<path d="M1445.25,268.8 C1449.25,283 1450.25,289 1453.25,292.2" fill="none" stroke="#000" stroke-width="0.9" />
<path d="M1464.4,268.8 C1468.4,283 1469.4,289 1472.4,292.2" fill="none" stroke="#000" stroke-width="0.9" />
<path d="M1483.55,268.8 C1487.55,283 1488.55,289 1491.55,292.2" fill="none" stroke="#000" stroke-width="0.9" />
<path d="M1502.7,268.8 C1506.7,283 1507.7,289 1510.7,292.2" fill="none" stroke="#000" stroke-width="0.9" />
<path d="M1521.85,268.8 C1525.85,283 1526.85,289 1529.85,292.2" fill="none" stroke="#000" stroke-width="0.9" />
<path d="M1541,268.8 C1545,283 1546,289 1549,292.2" fill="none" stroke="#000" stroke-width="0.9" />
<path d="M1560.15,268.8 C1564.15,283 1565.15,289 1568.15,292.2" fill="none" stroke="#000" stroke-width="0.9" />
<path d="M1579.3,268.8 C1583.3,283 1584.3,289 1587.3,292.2" fill="none" stroke="#000" stroke-width="0.9" />
<line x1="484.5" y1="103.5" x2="484.5" y2="268.3" stroke="#000" stroke-width="1"/>
<line x1="501.5" y1="103.5" x2="501.5" y2="268.3" stroke="#000" stroke-width="1"/>
<path d="M472.6,276.7 L472.6,250.7 L478.9,245.6 L484.5,245.6" fill="none" stroke="#000" stroke-width="1" />
<path d="M501.7,245.6 L507.3,245.6 L513.9,250.7 L513.9,276.7" fill="none" stroke="#000" stroke-width="1" />
<path d="M478.9,277.0 L478.9,258 Q478.9,253.5 483.5,253.5 L502.7,253.5 Q507.7,253.5 507.7,258 L507.7,277.0" fill="none" stroke="#000" stroke-width="1.2" />
<line x1="484.5" y1="256.5" x2="501.7" y2="256.5" stroke="#000" stroke-width="1.2"/>
<rect x="481.5" y="259.5" width="4" height="7" fill="none" stroke="#000" stroke-width="1"/>
<rect x="501.5" y="259.5" width="4" height="7" fill="none" stroke="#000" stroke-width="1"/>
<rect x="484.5" y="268.5" width="17" height="27" fill="#fff" stroke="#000" stroke-width="1"/>
<line x1="484.5" y1="271.5" x2="501.7" y2="271.5" stroke="#000" stroke-width="1.2"/>
<line x1="667.5" y1="103.5" x2="667.5" y2="268.3" stroke="#000" stroke-width="1"/>
<line x1="684.5" y1="103.5" x2="684.5" y2="268.3" stroke="#000" stroke-width="1"/>
<path d="M655.7,267.7 L655.7,250.7 L662,245.6 L667.6,245.6" fill="none" stroke="#000" stroke-width="1" />
<path d="M684.8,245.6 L690.4,245.6 L697,250.7 L697,267.7" fill="none" stroke="#000" stroke-width="1" />
<path d="M662,268.0 L662,258 Q662,253.5 666.6,253.5 L685.8,253.5 Q690.8,253.5 690.8,258 L690.8,268.0" fill="none" stroke="#000" stroke-width="1.2" />
<line x1="667.6" y1="256.5" x2="684.8" y2="256.5" stroke="#000" stroke-width="1.2"/>
<rect x="664.5" y="259.5" width="4" height="7" fill="none" stroke="#000" stroke-width="1"/>
<rect x="684.5" y="259.5" width="4" height="7" fill="none" stroke="#000" stroke-width="1"/>
<rect x="667.5" y="268.5" width="4" height="24" fill="#fff" stroke="#000" stroke-width="1"/>
<rect x="681.5" y="268.5" width="3" height="24" fill="#fff" stroke="#000" stroke-width="1"/>
<rect x="667.5" y="292.5" width="18" height="3" fill="none" stroke="#000" stroke-width="1"/>
<line x1="851.5" y1="103.5" x2="851.5" y2="268.3" stroke="#000" stroke-width="1"/>
<line x1="868.5" y1="103.5" x2="868.5" y2="268.3" stroke="#000" stroke-width="1"/>
<path d="M839.5,267.7 L839.5,250.7 L845.8,245.6 L851.4,245.6" fill="none" stroke="#000" stroke-width="1" />
<path d="M868.6,245.6 L874.2,245.6 L880.8,250.7 L880.8,267.7" fill="none" stroke="#000" stroke-width="1" />
<path d="M845.8,268.0 L845.8,258 Q845.8,253.5 850.4,253.5 L869.6,253.5 Q874.6,253.5 874.6,258 L874.6,268.0" fill="none" stroke="#000" stroke-width="1.2" />
<line x1="851.4" y1="256.5" x2="868.6" y2="256.5" stroke="#000" stroke-width="1.2"/>
<rect x="847.5" y="259.5" width="4" height="7" fill="none" stroke="#000" stroke-width="1"/>
<rect x="868.5" y="259.5" width="4" height="7" fill="none" stroke="#000" stroke-width="1"/>
<rect x="851.5" y="268.5" width="4" height="24" fill="#fff" stroke="#000" stroke-width="1"/>
<rect x="864.5" y="268.5" width="4" height="24" fill="#fff" stroke="#000" stroke-width="1"/>
<rect x="851.5" y="292.5" width="18" height="3" fill="none" stroke="#000" stroke-width="1"/>
<line x1="1023.5" y1="103.5" x2="1023.5" y2="268.3" stroke="#000" stroke-width="1"/>
<line x1="1040.5" y1="103.5" x2="1040.5" y2="268.3" stroke="#000" stroke-width="1"/>
<path d="M1011.1,267.7 L1011.1,250.7 L1017.4,245.6 L1023,245.6" fill="none" stroke="#000" stroke-width="1" />
<path d="M1040.2,245.6 L1045.8,245.6 L1052.4,250.7 L1052.4,267.7" fill="none" stroke="#000" stroke-width="1" />
<path d="M1017.4,268.0 L1017.4,258 Q1017.4,253.5 1022,253.5 L1041.2,253.5 Q1046.2,253.5 1046.2,258 L1046.2,268.0" fill="none" stroke="#000" stroke-width="1.2" />
<line x1="1023" y1="256.5" x2="1040.2" y2="256.5" stroke="#000" stroke-width="1.2"/>
<rect x="1019.5" y="259.5" width="4" height="7" fill="none" stroke="#000" stroke-width="1"/>
<rect x="1039.5" y="259.5" width="4" height="7" fill="none" stroke="#000" stroke-width="1"/>
<rect x="1023.5" y="268.5" width="3" height="24" fill="#fff" stroke="#000" stroke-width="1"/>
<rect x="1036.5" y="268.5" width="4" height="24" fill="#fff" stroke="#000" stroke-width="1"/>
<rect x="1023.5" y="292.5" width="18" height="3" fill="none" stroke="#000" stroke-width="1"/>
<line x1="1195.5" y1="103.5" x2="1195.5" y2="268.3" stroke="#000" stroke-width="1"/>
<line x1="1212.5" y1="103.5" x2="1212.5" y2="268.3" stroke="#000" stroke-width="1"/>
<path d="M1183.8,267.7 L1183.8,250.7 L1190.1,245.6 L1195.7,245.6" fill="none" stroke="#000" stroke-width="1" />
<path d="M1212.9,245.6 L1218.5,245.6 L1225.1,250.7 L1225.1,267.7" fill="none" stroke="#000" stroke-width="1" />
<path d="M1190.1,268.0 L1190.1,258 Q1190.1,253.5 1194.7,253.5 L1213.9,253.5 Q1218.9,253.5 1218.9,258 L1218.9,268.0" fill="none" stroke="#000" stroke-width="1.2" />
<line x1="1195.7" y1="256.5" x2="1212.9" y2="256.5" stroke="#000" stroke-width="1.2"/>
<rect x="1192.5" y="259.5" width="4" height="7" fill="none" stroke="#000" stroke-width="1"/>
<rect x="1212.5" y="259.5" width="4" height="7" fill="none" stroke="#000" stroke-width="1"/>
<rect x="1195.5" y="268.5" width="4" height="24" fill="#fff" stroke="#000" stroke-width="1"/>
<rect x="1209.5" y="268.5" width="3" height="24" fill="#fff" stroke="#000" stroke-width="1"/>
<rect x="1195.5" y="292.5" width="18" height="3" fill="none" stroke="#000" stroke-width="1"/>
<line x1="1379.5" y1="103.5" x2="1379.5" y2="268.3" stroke="#000" stroke-width="1"/>
<line x1="1396.5" y1="103.5" x2="1396.5" y2="268.3" stroke="#000" stroke-width="1"/>
<path d="M1367.1,267.7 L1367.1,250.7 L1373.4,245.6 L1379,245.6" fill="none" stroke="#000" stroke-width="1" />
<path d="M1396.2,245.6 L1401.8,245.6 L1408.4,250.7 L1408.4,267.7" fill="none" stroke="#000" stroke-width="1" />
<path d="M1373.4,268.0 L1373.4,258 Q1373.4,253.5 1378,253.5 L1397.2,253.5 Q1402.2,253.5 1402.2,258 L1402.2,268.0" fill="none" stroke="#000" stroke-width="1.2" />
<line x1="1379" y1="256.5" x2="1396.2" y2="256.5" stroke="#000" stroke-width="1.2"/>
<rect x="1375.5" y="259.5" width="4" height="7" fill="none" stroke="#000" stroke-width="1"/>
<rect x="1395.5" y="259.5" width="4" height="7" fill="none" stroke="#000" stroke-width="1"/>
<rect x="1379.5" y="268.5" width="3" height="24" fill="#fff" stroke="#000" stroke-width="1"/>
<rect x="1392.5" y="268.5" width="4" height="24" fill="#fff" stroke="#000" stroke-width="1"/>
<rect x="1379.5" y="292.5" width="18" height="3" fill="none" stroke="#000" stroke-width="1"/>
<line x1="1562.5" y1="103.5" x2="1562.5" y2="268.3" stroke="#000" stroke-width="1"/>
<line x1="1579.5" y1="103.5" x2="1579.5" y2="268.3" stroke="#000" stroke-width="1"/>
<path d="M1550.4,267.7 L1550.4,250.7 L1556.7,245.6 L1562.3,245.6" fill="none" stroke="#000" stroke-width="1" />
<path d="M1579.5,245.6 L1585.1,245.6 L1591.7,250.7 L1591.7,267.7" fill="none" stroke="#000" stroke-width="1" />
<path d="M1556.7,268.0 L1556.7,258 Q1556.7,253.5 1561.3,253.5 L1580.5,253.5 Q1585.5,253.5 1585.5,258 L1585.5,268.0" fill="none" stroke="#000" stroke-width="1.2" />
<line x1="1562.3" y1="256.5" x2="1579.5" y2="256.5" stroke="#000" stroke-width="1.2"/>
<rect x="1558.5" y="259.5" width="4" height="7" fill="none" stroke="#000" stroke-width="1"/>
<rect x="1579.5" y="259.5" width="4" height="7" fill="none" stroke="#000" stroke-width="1"/>
<rect x="1562.5" y="268.5" width="4" height="24" fill="#fff" stroke="#000" stroke-width="1"/>
<rect x="1575.5" y="268.5" width="4" height="24" fill="#fff" stroke="#000" stroke-width="1"/>
<rect x="1562.5" y="292.5" width="18" height="3" fill="none" stroke="#000" stroke-width="1"/>
<rect x="1039" y="171.5" width="148" height="33" fill="#fff"/>
<path d="M0,0.22 C0,0.08 0.2,0 0.5,0 C0.8,0 1,0.08 1,0.22 L1,0.78 C1,0.92 0.8,1 0.5,1 C0.2,1 0,0.92 0,0.78 Z" transform="matrix(11.3,0,0,21.7,1041.90,175.1)" fill="none" stroke="#000" stroke-width="2" vector-effect="non-scaling-stroke" stroke-linecap="butt" stroke-linejoin="round"/>
<path d="M0,1 L0,0 L1,0" transform="matrix(8,0,0,21.7,1056.80,175.1)" fill="none" stroke="#000" stroke-width="2" vector-effect="non-scaling-stroke" stroke-linecap="butt" stroke-linejoin="round"/>
<path d="M0,0 L0,1 M1,0 L1,1 M0,0.49 L1,0.49" transform="matrix(10.1,0,0,21.7,1070.00,175.1)" fill="none" stroke="#000" stroke-width="2" vector-effect="non-scaling-stroke" stroke-linecap="butt" stroke-linejoin="round"/>
<path d="M1,0 L0,0 L0,1 L1,1 M0,0.49 L0.85,0.49" transform="matrix(8.1,0,0,21.7,1084.90,175.1)" fill="none" stroke="#000" stroke-width="2" vector-effect="non-scaling-stroke" stroke-linecap="butt" stroke-linejoin="round"/>
<path d="M0,0.22 C0,0.08 0.2,0 0.5,0 C0.8,0 1,0.08 1,0.22 L1,0.78 C1,0.92 0.8,1 0.5,1 C0.2,1 0,0.92 0,0.78 Z" transform="matrix(11.3,0,0,21.7,1098.20,175.1)" fill="none" stroke="#000" stroke-width="2" vector-effect="non-scaling-stroke" stroke-linecap="butt" stroke-linejoin="round"/>
<path d="M0,1 L0,0 L1,0 L1,1" transform="matrix(10.1,0,0,21.7,1113.10,175.1)" fill="none" stroke="#000" stroke-width="2" vector-effect="non-scaling-stroke" stroke-linecap="butt" stroke-linejoin="round"/>
<path d="M0,1 L0.5,0 L1,1 M0.19,0.66 L0.81,0.66" transform="matrix(12.1,0,0,21.7,1128.00,175.1)" fill="none" stroke="#000" stroke-width="2" vector-effect="non-scaling-stroke" stroke-linecap="butt" stroke-linejoin="round"/>
<path d="M1,0.02 C0.9,0 0.75,0 0.5,0 C0.2,0 0,0.08 0,0.22 L0,0.78 C0,0.92 0.2,1 0.5,1 C0.75,1 0.9,1 1,0.98" transform="matrix(8.6,0,0,21.7,1144.90,175.1)" fill="none" stroke="#000" stroke-width="2" vector-effect="non-scaling-stroke" stroke-linecap="butt" stroke-linejoin="round"/>
<path d="M0,0 L0,1 M1,0 L1,1 M0,0.49 L1,0.49" transform="matrix(10.1,0,0,21.7,1157.40,175.1)" fill="none" stroke="#000" stroke-width="2" vector-effect="non-scaling-stroke" stroke-linecap="butt" stroke-linejoin="round"/>
<path d="M0,0.22 C0,0.08 0.2,0 0.5,0 C0.8,0 1,0.08 1,0.22 L1,0.78 C1,0.92 0.8,1 0.5,1 C0.2,1 0,0.92 0,0.78 Z" transform="matrix(10.1,0,0,21.7,1173.10,175.1)" fill="none" stroke="#000" stroke-width="2" vector-effect="non-scaling-stroke" stroke-linecap="butt" stroke-linejoin="round"/>
<rect x="1482" y="171" width="48" height="37" fill="none" stroke="#000" stroke-width="1.6"/>
<circle cx="1492" cy="181" r="0.7" fill="#000" stroke="#000" stroke-width="0"/>
<circle cx="1519" cy="181" r="0.7" fill="#000" stroke="#000" stroke-width="0"/>
<circle cx="1490" cy="190" r="0.7" fill="#000" stroke="#000" stroke-width="0"/>
<circle cx="1521" cy="190" r="0.7" fill="#000" stroke="#000" stroke-width="0"/>
<circle cx="1492" cy="199" r="0.7" fill="#000" stroke="#000" stroke-width="0"/>
<circle cx="1519" cy="199" r="0.7" fill="#000" stroke="#000" stroke-width="0"/>
<circle cx="1505.8" cy="171.8" r="1.2" fill="#fff" stroke="#000" stroke-width="1"/>
<path d="M364.6,282.7 L484.5,282.7" fill="none" stroke="#000" stroke-width="1.6" />
<path d="M501.7,282.7 L543.4,282.7" fill="none" stroke="#000" stroke-width="1.6" />
<path d="M364.6,282.7 L364.6,287 L397,308.7 L633.4,308.7 L760.3,315.9" fill="none" stroke="#000" stroke-width="1.6" />
<path d="M760.3,315.9 C775,318 785,322 793,330 C797,335 800,336.7 805,336.7 L1700,336.7" fill="none" stroke="#000" stroke-width="1.5" />
<line x1="760.3" y1="313.5" x2="800" y2="333" stroke="#000" stroke-width="0.8"/>
<line x1="397.5" y1="282.7" x2="397.5" y2="308.7" stroke="#000" stroke-width="1"/>
<line x1="366" y1="289" x2="396" y2="305" stroke="#000" stroke-width="0.8"/>
<rect x="497.5" y="299.5" width="250" height="4" fill="none" stroke="#000" stroke-width="1.2"/>
<line x1="747.5" y1="299.8" x2="747.5" y2="364" stroke="#000" stroke-width="1.2"/>
<line x1="633" y1="311.5" x2="760" y2="311.5" stroke="#666" stroke-width="0.6"/>
<rect x="514.5" y="309.5" width="9" height="9" fill="none" stroke="#000" stroke-width="1"/>
<line x1="516" y1="313.5" x2="521" y2="313.5" stroke="#000" stroke-width="1"/>
<rect x="503.5" y="294.5" width="14" height="5" fill="none" stroke="#000" stroke-width="1"/>
<rect x="728.5" y="294.5" width="14" height="5" fill="none" stroke="#000" stroke-width="1"/>
<circle cx="621.5" cy="296" r="3.5" fill="none" stroke="#000" stroke-width="1"/>
<line x1="805" y1="304" x2="805" y2="347" stroke="#000" stroke-width="1.8"/>
<rect x="798.5" y="300.5" width="13" height="7" fill="none" stroke="#000" stroke-width="1"/>
<circle cx="805.2" cy="303.9" r="1" fill="none" stroke="#000" stroke-width="1"/>
<rect x="816" y="299" width="28" height="95" fill="none" stroke="#000" stroke-width="1.5"/>
<rect x="816" y="299.5" width="6.5" height="35.5" fill="#000"/>
<rect x="837.6" y="299.5" width="6.5" height="35.5" fill="#000"/>
<rect x="817.3" y="303" width="3.8" height="3.2" fill="#fff"/>
<rect x="838.9" y="303" width="3.8" height="3.2" fill="#fff"/>
<rect x="817.3" y="309.5" width="3.8" height="3.2" fill="#fff"/>
<rect x="838.9" y="309.5" width="3.8" height="3.2" fill="#fff"/>
<rect x="817.3" y="316" width="3.8" height="3.2" fill="#fff"/>
<rect x="838.9" y="316" width="3.8" height="3.2" fill="#fff"/>
<rect x="817.3" y="322.5" width="3.8" height="3.2" fill="#fff"/>
<rect x="838.9" y="322.5" width="3.8" height="3.2" fill="#fff"/>
<rect x="817.3" y="329" width="3.8" height="3.2" fill="#fff"/>
<rect x="838.9" y="329" width="3.8" height="3.2" fill="#fff"/>
<rect x="825.5" y="303.5" width="10" height="10" fill="none" stroke="#000" stroke-width="1.3"/>
<circle cx="830.4" cy="308.6" r="1.8" fill="none" stroke="#000" stroke-width="1.3"/>
<line x1="816" y1="335.5" x2="844.1" y2="335.5" stroke="#000" stroke-width="1.2"/>
<rect x="818.5" y="335.5" width="23" height="57" fill="none" stroke="#000" stroke-width="1"/>
<rect x="813.5" y="346.5" width="4" height="19" fill="none" stroke="#000" stroke-width="1.2"/>
<rect x="842.5" y="346.5" width="4" height="19" fill="none" stroke="#000" stroke-width="1.2"/>
<line x1="818.8" y1="354.5" x2="841.3" y2="354.5" stroke="#000" stroke-width="1"/>
<line x1="818.8" y1="356.5" x2="841.3" y2="356.5" stroke="#000" stroke-width="1"/>
<line x1="818.8" y1="374.5" x2="841.3" y2="374.5" stroke="#000" stroke-width="1"/>
<rect x="827.5" y="349.5" width="5" height="20" fill="none" stroke="#000" stroke-width="1.1"/>
<rect x="828.5" y="339.5" width="3" height="10" fill="none" stroke="#000" stroke-width="1"/>
<path d="M816,394 L811.8,405 L811.8,409.4 L849,409.4 L849,405 L844.1,394" fill="none" stroke="#000" stroke-width="1.4" />
<path d="M817,401 L824,395 L830,401 L836,395 L843,401 M820,406 L826,400 L830,404 L834,400 L840,406" fill="none" stroke="#000" stroke-width="1.8" />
<line x1="801.2" y1="335.5" x2="871.5" y2="335.5" stroke="#000" stroke-width="1"/>
<line x1="801.2" y1="337.5" x2="871.5" y2="337.5" stroke="#000" stroke-width="1"/>
<rect x="884" y="305" width="194" height="88" fill="#fff" stroke="#000" stroke-width="2.2"/>
<line x1="886" y1="399.5" x2="1076" y2="399.5" stroke="#000" stroke-width="1"/>
<line x1="886" y1="397.5" x2="1076" y2="397.5" stroke="#000" stroke-width="0.8"/>
<rect x="852.5" y="409.5" width="240" height="11" fill="none" stroke="#000" stroke-width="1.2"/>
<rect x="852.5" y="373.5" width="29" height="47" fill="none" stroke="#000" stroke-width="1.2"/>
<line x1="856.5" y1="373.6" x2="856.5" y2="420.6" stroke="#000" stroke-width="1"/>
<rect x="881.5" y="373.5" width="7" height="13" fill="none" stroke="#000" stroke-width="1"/>
<line x1="875.5" y1="318" x2="875.5" y2="409" stroke="#000" stroke-width="1"/>
<line x1="878.5" y1="318" x2="878.5" y2="409" stroke="#000" stroke-width="1"/>
<line x1="875" y1="320.5" x2="878" y2="320.5" stroke="#000" stroke-width="0.6"/>
<line x1="875" y1="326.5" x2="878" y2="326.5" stroke="#000" stroke-width="0.6"/>
<line x1="875" y1="332.5" x2="878" y2="332.5" stroke="#000" stroke-width="0.6"/>
<line x1="875" y1="338.5" x2="878" y2="338.5" stroke="#000" stroke-width="0.6"/>
<line x1="875" y1="344.5" x2="878" y2="344.5" stroke="#000" stroke-width="0.6"/>
<line x1="875" y1="350.5" x2="878" y2="350.5" stroke="#000" stroke-width="0.6"/>
<line x1="875" y1="356.5" x2="878" y2="356.5" stroke="#000" stroke-width="0.6"/>
<line x1="875" y1="362.5" x2="878" y2="362.5" stroke="#000" stroke-width="0.6"/>
<line x1="875" y1="368.5" x2="878" y2="368.5" stroke="#000" stroke-width="0.6"/>
<line x1="875" y1="374.5" x2="878" y2="374.5" stroke="#000" stroke-width="0.6"/>
<line x1="875" y1="380.5" x2="878" y2="380.5" stroke="#000" stroke-width="0.6"/>
<line x1="875" y1="386.5" x2="878" y2="386.5" stroke="#000" stroke-width="0.6"/>
<line x1="875" y1="392.5" x2="878" y2="392.5" stroke="#000" stroke-width="0.6"/>
<line x1="875" y1="398.5" x2="878" y2="398.5" stroke="#000" stroke-width="0.6"/>
<line x1="875" y1="404.5" x2="878" y2="404.5" stroke="#000" stroke-width="0.6"/>
<line x1="1078.5" y1="318" x2="1078.5" y2="409" stroke="#000" stroke-width="1"/>
<line x1="1081.5" y1="318" x2="1081.5" y2="409" stroke="#000" stroke-width="1"/>
<line x1="1078" y1="320.5" x2="1081" y2="320.5" stroke="#000" stroke-width="0.6"/>
<line x1="1078" y1="326.5" x2="1081" y2="326.5" stroke="#000" stroke-width="0.6"/>
<line x1="1078" y1="332.5" x2="1081" y2="332.5" stroke="#000" stroke-width="0.6"/>
<line x1="1078" y1="338.5" x2="1081" y2="338.5" stroke="#000" stroke-width="0.6"/>
<line x1="1078" y1="344.5" x2="1081" y2="344.5" stroke="#000" stroke-width="0.6"/>
<line x1="1078" y1="350.5" x2="1081" y2="350.5" stroke="#000" stroke-width="0.6"/>
<line x1="1078" y1="356.5" x2="1081" y2="356.5" stroke="#000" stroke-width="0.6"/>
<line x1="1078" y1="362.5" x2="1081" y2="362.5" stroke="#000" stroke-width="0.6"/>
<line x1="1078" y1="368.5" x2="1081" y2="368.5" stroke="#000" stroke-width="0.6"/>
<line x1="1078" y1="374.5" x2="1081" y2="374.5" stroke="#000" stroke-width="0.6"/>
<line x1="1078" y1="380.5" x2="1081" y2="380.5" stroke="#000" stroke-width="0.6"/>
<line x1="1078" y1="386.5" x2="1081" y2="386.5" stroke="#000" stroke-width="0.6"/>
<line x1="1078" y1="392.5" x2="1081" y2="392.5" stroke="#000" stroke-width="0.6"/>
<line x1="1078" y1="398.5" x2="1081" y2="398.5" stroke="#000" stroke-width="0.6"/>
<line x1="1078" y1="404.5" x2="1081" y2="404.5" stroke="#000" stroke-width="0.6"/>
<path d="M909,388 L909,378 L913,374 L917,374 L921,378 L921,388 Z" fill="none" stroke="#000" stroke-width="1.2" />
<rect x="912.5" y="381.5" width="5" height="5" fill="none" stroke="#000" stroke-width="1"/>
<path d="M1037,388 L1037,378 L1041,374 L1045,374 L1049,378 L1049,388 Z" fill="none" stroke="#000" stroke-width="1.2" />
<rect x="1040.5" y="381.5" width="5" height="5" fill="none" stroke="#000" stroke-width="1"/>
<rect x="1090.5" y="373.5" width="10" height="12" fill="none" stroke="#000" stroke-width="1"/>
<line x1="1090" y1="333.5" x2="1700" y2="333.5" stroke="#000" stroke-width="1"/>
<circle cx="1175.6" cy="393.1" r="75" fill="#fff" stroke="#000" stroke-width="0"/>
<circle cx="1175.6" cy="393.1" r="71.4" fill="none" stroke="#000" stroke-width="8.2"/>
<line x1="1238.55" y1="395.57" x2="1243.55" y2="395.77" stroke="#000" stroke-width="5"/>
<circle cx="1244.42" cy="401.25" r="0.75" fill="#fff" stroke="#000" stroke-width="0"/>
<line x1="1237.39" y1="405.39" x2="1242.29" y2="406.37" stroke="#000" stroke-width="5"/>
<circle cx="1242.3" cy="411.91" r="0.75" fill="#fff" stroke="#000" stroke-width="0"/>
<line x1="1234.71" y1="414.91" x2="1239.4" y2="416.64" stroke="#000" stroke-width="5"/>
<circle cx="1238.53" cy="422.11" r="0.75" fill="#fff" stroke="#000" stroke-width="0"/>
<line x1="1230.57" y1="423.88" x2="1234.93" y2="426.33" stroke="#000" stroke-width="5"/>
<circle cx="1233.22" cy="431.6" r="0.75" fill="#fff" stroke="#000" stroke-width="0"/>
<line x1="1225.07" y1="432.1" x2="1229" y2="435.2" stroke="#000" stroke-width="5"/>
<circle cx="1226.49" cy="440.14" r="0.75" fill="#fff" stroke="#000" stroke-width="0"/>
<line x1="1218.36" y1="439.36" x2="1221.76" y2="443.03" stroke="#000" stroke-width="5"/>
<circle cx="1218.5" cy="447.52" r="0.75" fill="#fff" stroke="#000" stroke-width="0"/>
<line x1="1210.6" y1="445.48" x2="1213.38" y2="449.64" stroke="#000" stroke-width="5"/>
<circle cx="1209.46" cy="453.56" r="0.75" fill="#fff" stroke="#000" stroke-width="0"/>
<line x1="1201.98" y1="450.31" x2="1204.07" y2="454.85" stroke="#000" stroke-width="5"/>
<circle cx="1199.59" cy="458.12" r="0.75" fill="#fff" stroke="#000" stroke-width="0"/>
<line x1="1192.7" y1="453.73" x2="1194.06" y2="458.55" stroke="#000" stroke-width="5"/>
<circle cx="1189.12" cy="461.07" r="0.75" fill="#fff" stroke="#000" stroke-width="0"/>
<line x1="1183" y1="455.66" x2="1183.59" y2="460.63" stroke="#000" stroke-width="5"/>
<circle cx="1178.32" cy="462.35" r="0.75" fill="#fff" stroke="#000" stroke-width="0"/>
<line x1="1173.13" y1="456.05" x2="1172.93" y2="461.05" stroke="#000" stroke-width="5"/>
<circle cx="1167.45" cy="461.92" r="0.75" fill="#fff" stroke="#000" stroke-width="0"/>
<line x1="1163.31" y1="454.89" x2="1162.33" y2="459.79" stroke="#000" stroke-width="5"/>
<circle cx="1156.79" cy="459.8" r="0.75" fill="#fff" stroke="#000" stroke-width="0"/>
<line x1="1153.79" y1="452.21" x2="1152.06" y2="456.9" stroke="#000" stroke-width="5"/>
<circle cx="1146.59" cy="456.03" r="0.75" fill="#fff" stroke="#000" stroke-width="0"/>
<line x1="1144.82" y1="448.07" x2="1142.37" y2="452.43" stroke="#000" stroke-width="5"/>
<circle cx="1137.1" cy="450.72" r="0.75" fill="#fff" stroke="#000" stroke-width="0"/>
<line x1="1136.6" y1="442.57" x2="1133.5" y2="446.5" stroke="#000" stroke-width="5"/>
<circle cx="1128.56" cy="443.99" r="0.75" fill="#fff" stroke="#000" stroke-width="0"/>
<line x1="1129.34" y1="435.86" x2="1125.67" y2="439.26" stroke="#000" stroke-width="5"/>
<circle cx="1121.18" cy="436" r="0.75" fill="#fff" stroke="#000" stroke-width="0"/>
<line x1="1123.22" y1="428.1" x2="1119.06" y2="430.88" stroke="#000" stroke-width="5"/>
<circle cx="1115.14" cy="426.96" r="0.75" fill="#fff" stroke="#000" stroke-width="0"/>
<line x1="1118.39" y1="419.48" x2="1113.85" y2="421.57" stroke="#000" stroke-width="5"/>
<circle cx="1110.58" cy="417.09" r="0.75" fill="#fff" stroke="#000" stroke-width="0"/>
<line x1="1114.97" y1="410.2" x2="1110.15" y2="411.56" stroke="#000" stroke-width="5"/>
<circle cx="1107.63" cy="406.62" r="0.75" fill="#fff" stroke="#000" stroke-width="0"/>
<line x1="1113.04" y1="400.5" x2="1108.07" y2="401.09" stroke="#000" stroke-width="5"/>
<circle cx="1106.35" cy="395.82" r="0.75" fill="#fff" stroke="#000" stroke-width="0"/>
<line x1="1112.65" y1="390.63" x2="1107.65" y2="390.43" stroke="#000" stroke-width="5"/>
<circle cx="1106.78" cy="384.95" r="0.75" fill="#fff" stroke="#000" stroke-width="0"/>
<line x1="1113.81" y1="380.81" x2="1108.91" y2="379.83" stroke="#000" stroke-width="5"/>
<circle cx="1108.9" cy="374.29" r="0.75" fill="#fff" stroke="#000" stroke-width="0"/>
<line x1="1116.49" y1="371.29" x2="1111.8" y2="369.56" stroke="#000" stroke-width="5"/>
<circle cx="1112.67" cy="364.09" r="0.75" fill="#fff" stroke="#000" stroke-width="0"/>
<line x1="1120.63" y1="362.32" x2="1116.27" y2="359.87" stroke="#000" stroke-width="5"/>
<circle cx="1117.98" cy="354.6" r="0.75" fill="#fff" stroke="#000" stroke-width="0"/>
<line x1="1126.13" y1="354.1" x2="1122.2" y2="351" stroke="#000" stroke-width="5"/>
<circle cx="1124.71" cy="346.06" r="0.75" fill="#fff" stroke="#000" stroke-width="0"/>
<line x1="1132.84" y1="346.84" x2="1129.44" y2="343.17" stroke="#000" stroke-width="5"/>
<circle cx="1132.7" cy="338.68" r="0.75" fill="#fff" stroke="#000" stroke-width="0"/>
<line x1="1140.6" y1="340.72" x2="1137.82" y2="336.56" stroke="#000" stroke-width="5"/>
<circle cx="1141.74" cy="332.64" r="0.75" fill="#fff" stroke="#000" stroke-width="0"/>
<line x1="1149.22" y1="335.89" x2="1147.13" y2="331.35" stroke="#000" stroke-width="5"/>
<circle cx="1151.61" cy="328.08" r="0.75" fill="#fff" stroke="#000" stroke-width="0"/>
<line x1="1158.5" y1="332.47" x2="1157.14" y2="327.65" stroke="#000" stroke-width="5"/>
<circle cx="1162.08" cy="325.13" r="0.75" fill="#fff" stroke="#000" stroke-width="0"/>
<line x1="1168.2" y1="330.54" x2="1167.61" y2="325.57" stroke="#000" stroke-width="5"/>
<circle cx="1172.88" cy="323.85" r="0.75" fill="#fff" stroke="#000" stroke-width="0"/>
<line x1="1178.07" y1="330.15" x2="1178.27" y2="325.15" stroke="#000" stroke-width="5"/>
<circle cx="1183.75" cy="324.28" r="0.75" fill="#fff" stroke="#000" stroke-width="0"/>
<line x1="1187.89" y1="331.31" x2="1188.87" y2="326.41" stroke="#000" stroke-width="5"/>
<circle cx="1194.41" cy="326.4" r="0.75" fill="#fff" stroke="#000" stroke-width="0"/>
<line x1="1197.41" y1="333.99" x2="1199.14" y2="329.3" stroke="#000" stroke-width="5"/>
<circle cx="1204.61" cy="330.17" r="0.75" fill="#fff" stroke="#000" stroke-width="0"/>
<line x1="1206.38" y1="338.13" x2="1208.83" y2="333.77" stroke="#000" stroke-width="5"/>
<circle cx="1214.1" cy="335.48" r="0.75" fill="#fff" stroke="#000" stroke-width="0"/>
<line x1="1214.6" y1="343.63" x2="1217.7" y2="339.7" stroke="#000" stroke-width="5"/>
<circle cx="1222.64" cy="342.21" r="0.75" fill="#fff" stroke="#000" stroke-width="0"/>
<line x1="1221.86" y1="350.34" x2="1225.53" y2="346.94" stroke="#000" stroke-width="5"/>
<circle cx="1230.02" cy="350.2" r="0.75" fill="#fff" stroke="#000" stroke-width="0"/>
<line x1="1227.98" y1="358.1" x2="1232.14" y2="355.32" stroke="#000" stroke-width="5"/>
<circle cx="1236.06" cy="359.24" r="0.75" fill="#fff" stroke="#000" stroke-width="0"/>
<line x1="1232.81" y1="366.72" x2="1237.35" y2="364.63" stroke="#000" stroke-width="5"/>
<circle cx="1240.62" cy="369.11" r="0.75" fill="#fff" stroke="#000" stroke-width="0"/>
<line x1="1236.23" y1="376" x2="1241.05" y2="374.64" stroke="#000" stroke-width="5"/>
<circle cx="1243.57" cy="379.58" r="0.75" fill="#fff" stroke="#000" stroke-width="0"/>
<line x1="1238.16" y1="385.7" x2="1243.13" y2="385.11" stroke="#000" stroke-width="5"/>
<circle cx="1244.85" cy="390.38" r="0.75" fill="#fff" stroke="#000" stroke-width="0"/>
<circle cx="1175.6" cy="393.1" r="72.8" fill="none" stroke="#fff" stroke-width="0.6" stroke-dasharray="2.5,1.5"/>
<circle cx="1175.6" cy="393.1" r="33" fill="none" stroke="#000" stroke-width="10.6"/>
<circle cx="1175.6" cy="393.1" r="24.5" fill="#000" stroke="#000" stroke-width="0"/>
<path d="M1191.69,398.9 L1193.69,396.9 L1195.69,398.9 L1193.69,400.9 Z" fill="#fff"/>
<path d="M1184.83,408.42 L1186.83,406.42 L1188.83,408.42 L1186.83,410.42 Z" fill="#fff"/>
<path d="M1173.68,412.1 L1175.68,410.1 L1177.68,412.1 L1175.68,414.1 Z" fill="#fff"/>
<path d="M1162.5,408.52 L1164.5,406.52 L1166.5,408.52 L1164.5,410.52 Z" fill="#fff"/>
<path d="M1155.55,399.05 L1157.55,397.05 L1159.55,399.05 L1157.55,401.05 Z" fill="#fff"/>
<path d="M1155.51,387.3 L1157.51,385.3 L1159.51,387.3 L1157.51,389.3 Z" fill="#fff"/>
<path d="M1162.37,377.78 L1164.37,375.78 L1166.37,377.78 L1164.37,379.78 Z" fill="#fff"/>
<path d="M1173.52,374.1 L1175.52,372.1 L1177.52,374.1 L1175.52,376.1 Z" fill="#fff"/>
<path d="M1184.7,377.68 L1186.7,375.68 L1188.7,377.68 L1186.7,379.68 Z" fill="#fff"/>
<path d="M1191.65,387.15 L1193.65,385.15 L1195.65,387.15 L1193.65,389.15 Z" fill="#fff"/>
<circle cx="1187.1" cy="393.1" r="0.7" fill="#fff" stroke="#000" stroke-width="0"/>
<circle cx="1184.9" cy="399.86" r="0.7" fill="#fff" stroke="#000" stroke-width="0"/>
<circle cx="1179.15" cy="404.04" r="0.7" fill="#fff" stroke="#000" stroke-width="0"/>
<circle cx="1172.05" cy="404.04" r="0.7" fill="#fff" stroke="#000" stroke-width="0"/>
<circle cx="1166.3" cy="399.86" r="0.7" fill="#fff" stroke="#000" stroke-width="0"/>
<circle cx="1164.1" cy="393.1" r="0.7" fill="#fff" stroke="#000" stroke-width="0"/>
<circle cx="1166.3" cy="386.34" r="0.7" fill="#fff" stroke="#000" stroke-width="0"/>
<circle cx="1172.05" cy="382.16" r="0.7" fill="#fff" stroke="#000" stroke-width="0"/>
<circle cx="1179.15" cy="382.16" r="0.7" fill="#fff" stroke="#000" stroke-width="0"/>
<circle cx="1184.9" cy="386.34" r="0.7" fill="#fff" stroke="#000" stroke-width="0"/>
<line x1="1175.5" y1="310" x2="1175.5" y2="352" stroke="#444" stroke-width="1"/>
<line x1="1087.6" y1="393.5" x2="1133.6" y2="393.5" stroke="#444" stroke-width="1"/>
<line x1="1217.6" y1="393.5" x2="1263.6" y2="393.5" stroke="#444" stroke-width="1"/>
<path d="M1098.2,364.4 A77.8,77.8 0 0 1 1253,364.4 L1245.1,364.4 A70.5,70.5 0 0 0 1106.1,364.4 Z" fill="#fff" stroke="#000" stroke-width="1.1" />
<path d="M1102.3,364.4 A73.7,73.7 0 0 1 1248.9,364.4" fill="none" stroke="#000" stroke-width="0.8" />
<path d="M1104.2,364.4 A72.3,72.3 0 0 1 1247,364.4" fill="none" stroke="#000" stroke-width="0.8" />
<rect x="1097.5" y="358.5" width="9" height="6" fill="#fff" stroke="#000" stroke-width="1"/>
<rect x="1245.5" y="358.5" width="8" height="6" fill="#fff" stroke="#000" stroke-width="1"/>
<rect x="1107.5" y="315.5" width="14" height="6" fill="#fff" stroke="#000" stroke-width="1.2"/>
<circle cx="1110.6" cy="318.4" r="0.5" fill="none" stroke="#000" stroke-width="1"/>
<circle cx="1113.6" cy="318.4" r="0.5" fill="none" stroke="#000" stroke-width="1"/>
<circle cx="1116.6" cy="318.4" r="0.5" fill="none" stroke="#000" stroke-width="1"/>
<circle cx="1236.1" cy="318" r="2.5" fill="#fff" stroke="#000" stroke-width="1.2"/>
<rect x="1103.5" y="348.5" width="5" height="16" fill="none" stroke="#000" stroke-width="1"/>
<circle cx="1358.4" cy="393.1" r="75" fill="#fff" stroke="#000" stroke-width="0"/>
<circle cx="1358.4" cy="393.1" r="71.4" fill="none" stroke="#000" stroke-width="8.2"/>
<line x1="1421.35" y1="395.57" x2="1426.35" y2="395.77" stroke="#000" stroke-width="5"/>
<circle cx="1427.22" cy="401.25" r="0.75" fill="#fff" stroke="#000" stroke-width="0"/>
<line x1="1420.19" y1="405.39" x2="1425.09" y2="406.37" stroke="#000" stroke-width="5"/>
<circle cx="1425.1" cy="411.91" r="0.75" fill="#fff" stroke="#000" stroke-width="0"/>
<line x1="1417.51" y1="414.91" x2="1422.2" y2="416.64" stroke="#000" stroke-width="5"/>
<circle cx="1421.33" cy="422.11" r="0.75" fill="#fff" stroke="#000" stroke-width="0"/>
<line x1="1413.37" y1="423.88" x2="1417.73" y2="426.33" stroke="#000" stroke-width="5"/>
<circle cx="1416.02" cy="431.6" r="0.75" fill="#fff" stroke="#000" stroke-width="0"/>
<line x1="1407.87" y1="432.1" x2="1411.8" y2="435.2" stroke="#000" stroke-width="5"/>
<circle cx="1409.29" cy="440.14" r="0.75" fill="#fff" stroke="#000" stroke-width="0"/>
<line x1="1401.16" y1="439.36" x2="1404.56" y2="443.03" stroke="#000" stroke-width="5"/>
<circle cx="1401.3" cy="447.52" r="0.75" fill="#fff" stroke="#000" stroke-width="0"/>
<line x1="1393.4" y1="445.48" x2="1396.18" y2="449.64" stroke="#000" stroke-width="5"/>
<circle cx="1392.26" cy="453.56" r="0.75" fill="#fff" stroke="#000" stroke-width="0"/>
<line x1="1384.78" y1="450.31" x2="1386.87" y2="454.85" stroke="#000" stroke-width="5"/>
<circle cx="1382.39" cy="458.12" r="0.75" fill="#fff" stroke="#000" stroke-width="0"/>
<line x1="1375.5" y1="453.73" x2="1376.86" y2="458.55" stroke="#000" stroke-width="5"/>
<circle cx="1371.92" cy="461.07" r="0.75" fill="#fff" stroke="#000" stroke-width="0"/>
<line x1="1365.8" y1="455.66" x2="1366.39" y2="460.63" stroke="#000" stroke-width="5"/>
<circle cx="1361.12" cy="462.35" r="0.75" fill="#fff" stroke="#000" stroke-width="0"/>
<line x1="1355.93" y1="456.05" x2="1355.73" y2="461.05" stroke="#000" stroke-width="5"/>
<circle cx="1350.25" cy="461.92" r="0.75" fill="#fff" stroke="#000" stroke-width="0"/>
<line x1="1346.11" y1="454.89" x2="1345.13" y2="459.79" stroke="#000" stroke-width="5"/>
<circle cx="1339.59" cy="459.8" r="0.75" fill="#fff" stroke="#000" stroke-width="0"/>
<line x1="1336.59" y1="452.21" x2="1334.86" y2="456.9" stroke="#000" stroke-width="5"/>
<circle cx="1329.39" cy="456.03" r="0.75" fill="#fff" stroke="#000" stroke-width="0"/>
<line x1="1327.62" y1="448.07" x2="1325.17" y2="452.43" stroke="#000" stroke-width="5"/>
<circle cx="1319.9" cy="450.72" r="0.75" fill="#fff" stroke="#000" stroke-width="0"/>
<line x1="1319.4" y1="442.57" x2="1316.3" y2="446.5" stroke="#000" stroke-width="5"/>
<circle cx="1311.36" cy="443.99" r="0.75" fill="#fff" stroke="#000" stroke-width="0"/>
<line x1="1312.14" y1="435.86" x2="1308.47" y2="439.26" stroke="#000" stroke-width="5"/>
<circle cx="1303.98" cy="436" r="0.75" fill="#fff" stroke="#000" stroke-width="0"/>
<line x1="1306.02" y1="428.1" x2="1301.86" y2="430.88" stroke="#000" stroke-width="5"/>
<circle cx="1297.94" cy="426.96" r="0.75" fill="#fff" stroke="#000" stroke-width="0"/>
<line x1="1301.19" y1="419.48" x2="1296.65" y2="421.57" stroke="#000" stroke-width="5"/>
<circle cx="1293.38" cy="417.09" r="0.75" fill="#fff" stroke="#000" stroke-width="0"/>
<line x1="1297.77" y1="410.2" x2="1292.95" y2="411.56" stroke="#000" stroke-width="5"/>
<circle cx="1290.43" cy="406.62" r="0.75" fill="#fff" stroke="#000" stroke-width="0"/>
<line x1="1295.84" y1="400.5" x2="1290.87" y2="401.09" stroke="#000" stroke-width="5"/>
<circle cx="1289.15" cy="395.82" r="0.75" fill="#fff" stroke="#000" stroke-width="0"/>
<line x1="1295.45" y1="390.63" x2="1290.45" y2="390.43" stroke="#000" stroke-width="5"/>
<circle cx="1289.58" cy="384.95" r="0.75" fill="#fff" stroke="#000" stroke-width="0"/>
<line x1="1296.61" y1="380.81" x2="1291.71" y2="379.83" stroke="#000" stroke-width="5"/>
<circle cx="1291.7" cy="374.29" r="0.75" fill="#fff" stroke="#000" stroke-width="0"/>
<line x1="1299.29" y1="371.29" x2="1294.6" y2="369.56" stroke="#000" stroke-width="5"/>
<circle cx="1295.47" cy="364.09" r="0.75" fill="#fff" stroke="#000" stroke-width="0"/>
<line x1="1303.43" y1="362.32" x2="1299.07" y2="359.87" stroke="#000" stroke-width="5"/>
<circle cx="1300.78" cy="354.6" r="0.75" fill="#fff" stroke="#000" stroke-width="0"/>
<line x1="1308.93" y1="354.1" x2="1305" y2="351" stroke="#000" stroke-width="5"/>
<circle cx="1307.51" cy="346.06" r="0.75" fill="#fff" stroke="#000" stroke-width="0"/>
<line x1="1315.64" y1="346.84" x2="1312.24" y2="343.17" stroke="#000" stroke-width="5"/>
<circle cx="1315.5" cy="338.68" r="0.75" fill="#fff" stroke="#000" stroke-width="0"/>
<line x1="1323.4" y1="340.72" x2="1320.62" y2="336.56" stroke="#000" stroke-width="5"/>
<circle cx="1324.54" cy="332.64" r="0.75" fill="#fff" stroke="#000" stroke-width="0"/>
<line x1="1332.02" y1="335.89" x2="1329.93" y2="331.35" stroke="#000" stroke-width="5"/>
<circle cx="1334.41" cy="328.08" r="0.75" fill="#fff" stroke="#000" stroke-width="0"/>
<line x1="1341.3" y1="332.47" x2="1339.94" y2="327.65" stroke="#000" stroke-width="5"/>
<circle cx="1344.88" cy="325.13" r="0.75" fill="#fff" stroke="#000" stroke-width="0"/>
<line x1="1351" y1="330.54" x2="1350.41" y2="325.57" stroke="#000" stroke-width="5"/>
<circle cx="1355.68" cy="323.85" r="0.75" fill="#fff" stroke="#000" stroke-width="0"/>
<line x1="1360.87" y1="330.15" x2="1361.07" y2="325.15" stroke="#000" stroke-width="5"/>
<circle cx="1366.55" cy="324.28" r="0.75" fill="#fff" stroke="#000" stroke-width="0"/>
<line x1="1370.69" y1="331.31" x2="1371.67" y2="326.41" stroke="#000" stroke-width="5"/>
<circle cx="1377.21" cy="326.4" r="0.75" fill="#fff" stroke="#000" stroke-width="0"/>
<line x1="1380.21" y1="333.99" x2="1381.94" y2="329.3" stroke="#000" stroke-width="5"/>
<circle cx="1387.41" cy="330.17" r="0.75" fill="#fff" stroke="#000" stroke-width="0"/>
<line x1="1389.18" y1="338.13" x2="1391.63" y2="333.77" stroke="#000" stroke-width="5"/>
<circle cx="1396.9" cy="335.48" r="0.75" fill="#fff" stroke="#000" stroke-width="0"/>
<line x1="1397.4" y1="343.63" x2="1400.5" y2="339.7" stroke="#000" stroke-width="5"/>
<circle cx="1405.44" cy="342.21" r="0.75" fill="#fff" stroke="#000" stroke-width="0"/>
<line x1="1404.66" y1="350.34" x2="1408.33" y2="346.94" stroke="#000" stroke-width="5"/>
<circle cx="1412.82" cy="350.2" r="0.75" fill="#fff" stroke="#000" stroke-width="0"/>
<line x1="1410.78" y1="358.1" x2="1414.94" y2="355.32" stroke="#000" stroke-width="5"/>
<circle cx="1418.86" cy="359.24" r="0.75" fill="#fff" stroke="#000" stroke-width="0"/>
<line x1="1415.61" y1="366.72" x2="1420.15" y2="364.63" stroke="#000" stroke-width="5"/>
<circle cx="1423.42" cy="369.11" r="0.75" fill="#fff" stroke="#000" stroke-width="0"/>
<line x1="1419.03" y1="376" x2="1423.85" y2="374.64" stroke="#000" stroke-width="5"/>
<circle cx="1426.37" cy="379.58" r="0.75" fill="#fff" stroke="#000" stroke-width="0"/>
<line x1="1420.96" y1="385.7" x2="1425.93" y2="385.11" stroke="#000" stroke-width="5"/>
<circle cx="1427.65" cy="390.38" r="0.75" fill="#fff" stroke="#000" stroke-width="0"/>
<circle cx="1358.4" cy="393.1" r="72.8" fill="none" stroke="#fff" stroke-width="0.6" stroke-dasharray="2.5,1.5"/>
<circle cx="1358.4" cy="393.1" r="33" fill="none" stroke="#000" stroke-width="10.6"/>
<circle cx="1358.4" cy="393.1" r="24.5" fill="#000" stroke="#000" stroke-width="0"/>
<path d="M1374.49,398.9 L1376.49,396.9 L1378.49,398.9 L1376.49,400.9 Z" fill="#fff"/>
<path d="M1367.63,408.42 L1369.63,406.42 L1371.63,408.42 L1369.63,410.42 Z" fill="#fff"/>
<path d="M1356.48,412.1 L1358.48,410.1 L1360.48,412.1 L1358.48,414.1 Z" fill="#fff"/>
<path d="M1345.3,408.52 L1347.3,406.52 L1349.3,408.52 L1347.3,410.52 Z" fill="#fff"/>
<path d="M1338.35,399.05 L1340.35,397.05 L1342.35,399.05 L1340.35,401.05 Z" fill="#fff"/>
<path d="M1338.31,387.3 L1340.31,385.3 L1342.31,387.3 L1340.31,389.3 Z" fill="#fff"/>
<path d="M1345.17,377.78 L1347.17,375.78 L1349.17,377.78 L1347.17,379.78 Z" fill="#fff"/>
<path d="M1356.32,374.1 L1358.32,372.1 L1360.32,374.1 L1358.32,376.1 Z" fill="#fff"/>
<path d="M1367.5,377.68 L1369.5,375.68 L1371.5,377.68 L1369.5,379.68 Z" fill="#fff"/>
<path d="M1374.45,387.15 L1376.45,385.15 L1378.45,387.15 L1376.45,389.15 Z" fill="#fff"/>
<circle cx="1369.9" cy="393.1" r="0.7" fill="#fff" stroke="#000" stroke-width="0"/>
<circle cx="1367.7" cy="399.86" r="0.7" fill="#fff" stroke="#000" stroke-width="0"/>
<circle cx="1361.95" cy="404.04" r="0.7" fill="#fff" stroke="#000" stroke-width="0"/>
<circle cx="1354.85" cy="404.04" r="0.7" fill="#fff" stroke="#000" stroke-width="0"/>
<circle cx="1349.1" cy="399.86" r="0.7" fill="#fff" stroke="#000" stroke-width="0"/>
<circle cx="1346.9" cy="393.1" r="0.7" fill="#fff" stroke="#000" stroke-width="0"/>
<circle cx="1349.1" cy="386.34" r="0.7" fill="#fff" stroke="#000" stroke-width="0"/>
<circle cx="1354.85" cy="382.16" r="0.7" fill="#fff" stroke="#000" stroke-width="0"/>
<circle cx="1361.95" cy="382.16" r="0.7" fill="#fff" stroke="#000" stroke-width="0"/>
<circle cx="1367.7" cy="386.34" r="0.7" fill="#fff" stroke="#000" stroke-width="0"/>
<line x1="1358.5" y1="310" x2="1358.5" y2="352" stroke="#444" stroke-width="1"/>
<line x1="1270.4" y1="393.5" x2="1316.4" y2="393.5" stroke="#444" stroke-width="1"/>
<line x1="1400.4" y1="393.5" x2="1446.4" y2="393.5" stroke="#444" stroke-width="1"/>
<path d="M1281,364.4 A77.8,77.8 0 0 1 1435.8,364.4 L1427.9,364.4 A70.5,70.5 0 0 0 1288.9,364.4 Z" fill="#fff" stroke="#000" stroke-width="1.1" />
<path d="M1285.1,364.4 A73.7,73.7 0 0 1 1431.7,364.4" fill="none" stroke="#000" stroke-width="0.8" />
<path d="M1287,364.4 A72.3,72.3 0 0 1 1429.8,364.4" fill="none" stroke="#000" stroke-width="0.8" />
<rect x="1280.5" y="358.5" width="8" height="6" fill="#fff" stroke="#000" stroke-width="1"/>
<rect x="1427.5" y="358.5" width="9" height="6" fill="#fff" stroke="#000" stroke-width="1"/>
<rect x="1290.5" y="315.5" width="14" height="6" fill="#fff" stroke="#000" stroke-width="1.2"/>
<circle cx="1293.4" cy="318.4" r="0.5" fill="none" stroke="#000" stroke-width="1"/>
<circle cx="1296.4" cy="318.4" r="0.5" fill="none" stroke="#000" stroke-width="1"/>
<circle cx="1299.4" cy="318.4" r="0.5" fill="none" stroke="#000" stroke-width="1"/>
<circle cx="1418.9" cy="318" r="2.5" fill="#fff" stroke="#000" stroke-width="1.2"/>
<rect x="1286.5" y="348.5" width="4" height="16" fill="none" stroke="#000" stroke-width="1"/>
<circle cx="1541.3" cy="393.1" r="75" fill="#fff" stroke="#000" stroke-width="0"/>
<circle cx="1541.3" cy="393.1" r="71.4" fill="none" stroke="#000" stroke-width="8.2"/>
<line x1="1604.25" y1="395.57" x2="1609.25" y2="395.77" stroke="#000" stroke-width="5"/>
<circle cx="1610.12" cy="401.25" r="0.75" fill="#fff" stroke="#000" stroke-width="0"/>
<line x1="1603.09" y1="405.39" x2="1607.99" y2="406.37" stroke="#000" stroke-width="5"/>
<circle cx="1608" cy="411.91" r="0.75" fill="#fff" stroke="#000" stroke-width="0"/>
<line x1="1600.41" y1="414.91" x2="1605.1" y2="416.64" stroke="#000" stroke-width="5"/>
<circle cx="1604.23" cy="422.11" r="0.75" fill="#fff" stroke="#000" stroke-width="0"/>
<line x1="1596.27" y1="423.88" x2="1600.63" y2="426.33" stroke="#000" stroke-width="5"/>
<circle cx="1598.92" cy="431.6" r="0.75" fill="#fff" stroke="#000" stroke-width="0"/>
<line x1="1590.77" y1="432.1" x2="1594.7" y2="435.2" stroke="#000" stroke-width="5"/>
<circle cx="1592.19" cy="440.14" r="0.75" fill="#fff" stroke="#000" stroke-width="0"/>
<line x1="1584.06" y1="439.36" x2="1587.46" y2="443.03" stroke="#000" stroke-width="5"/>
<circle cx="1584.2" cy="447.52" r="0.75" fill="#fff" stroke="#000" stroke-width="0"/>
<line x1="1576.3" y1="445.48" x2="1579.08" y2="449.64" stroke="#000" stroke-width="5"/>
<circle cx="1575.16" cy="453.56" r="0.75" fill="#fff" stroke="#000" stroke-width="0"/>
<line x1="1567.68" y1="450.31" x2="1569.77" y2="454.85" stroke="#000" stroke-width="5"/>
<circle cx="1565.29" cy="458.12" r="0.75" fill="#fff" stroke="#000" stroke-width="0"/>
<line x1="1558.4" y1="453.73" x2="1559.76" y2="458.55" stroke="#000" stroke-width="5"/>
<circle cx="1554.82" cy="461.07" r="0.75" fill="#fff" stroke="#000" stroke-width="0"/>
<line x1="1548.7" y1="455.66" x2="1549.29" y2="460.63" stroke="#000" stroke-width="5"/>
<circle cx="1544.02" cy="462.35" r="0.75" fill="#fff" stroke="#000" stroke-width="0"/>
<line x1="1538.83" y1="456.05" x2="1538.63" y2="461.05" stroke="#000" stroke-width="5"/>
<circle cx="1533.15" cy="461.92" r="0.75" fill="#fff" stroke="#000" stroke-width="0"/>
<line x1="1529.01" y1="454.89" x2="1528.03" y2="459.79" stroke="#000" stroke-width="5"/>
<circle cx="1522.49" cy="459.8" r="0.75" fill="#fff" stroke="#000" stroke-width="0"/>
<line x1="1519.49" y1="452.21" x2="1517.76" y2="456.9" stroke="#000" stroke-width="5"/>
<circle cx="1512.29" cy="456.03" r="0.75" fill="#fff" stroke="#000" stroke-width="0"/>
<line x1="1510.52" y1="448.07" x2="1508.07" y2="452.43" stroke="#000" stroke-width="5"/>
<circle cx="1502.8" cy="450.72" r="0.75" fill="#fff" stroke="#000" stroke-width="0"/>
<line x1="1502.3" y1="442.57" x2="1499.2" y2="446.5" stroke="#000" stroke-width="5"/>
<circle cx="1494.26" cy="443.99" r="0.75" fill="#fff" stroke="#000" stroke-width="0"/>
<line x1="1495.04" y1="435.86" x2="1491.37" y2="439.26" stroke="#000" stroke-width="5"/>
<circle cx="1486.88" cy="436" r="0.75" fill="#fff" stroke="#000" stroke-width="0"/>
<line x1="1488.92" y1="428.1" x2="1484.76" y2="430.88" stroke="#000" stroke-width="5"/>
<circle cx="1480.84" cy="426.96" r="0.75" fill="#fff" stroke="#000" stroke-width="0"/>
<line x1="1484.09" y1="419.48" x2="1479.55" y2="421.57" stroke="#000" stroke-width="5"/>
<circle cx="1476.28" cy="417.09" r="0.75" fill="#fff" stroke="#000" stroke-width="0"/>
<line x1="1480.67" y1="410.2" x2="1475.85" y2="411.56" stroke="#000" stroke-width="5"/>
<circle cx="1473.33" cy="406.62" r="0.75" fill="#fff" stroke="#000" stroke-width="0"/>
<line x1="1478.74" y1="400.5" x2="1473.77" y2="401.09" stroke="#000" stroke-width="5"/>
<circle cx="1472.05" cy="395.82" r="0.75" fill="#fff" stroke="#000" stroke-width="0"/>
<line x1="1478.35" y1="390.63" x2="1473.35" y2="390.43" stroke="#000" stroke-width="5"/>
<circle cx="1472.48" cy="384.95" r="0.75" fill="#fff" stroke="#000" stroke-width="0"/>
<line x1="1479.51" y1="380.81" x2="1474.61" y2="379.83" stroke="#000" stroke-width="5"/>
<circle cx="1474.6" cy="374.29" r="0.75" fill="#fff" stroke="#000" stroke-width="0"/>
<line x1="1482.19" y1="371.29" x2="1477.5" y2="369.56" stroke="#000" stroke-width="5"/>
<circle cx="1478.37" cy="364.09" r="0.75" fill="#fff" stroke="#000" stroke-width="0"/>
<line x1="1486.33" y1="362.32" x2="1481.97" y2="359.87" stroke="#000" stroke-width="5"/>
<circle cx="1483.68" cy="354.6" r="0.75" fill="#fff" stroke="#000" stroke-width="0"/>
<line x1="1491.83" y1="354.1" x2="1487.9" y2="351" stroke="#000" stroke-width="5"/>
<circle cx="1490.41" cy="346.06" r="0.75" fill="#fff" stroke="#000" stroke-width="0"/>
<line x1="1498.54" y1="346.84" x2="1495.14" y2="343.17" stroke="#000" stroke-width="5"/>
<circle cx="1498.4" cy="338.68" r="0.75" fill="#fff" stroke="#000" stroke-width="0"/>
<line x1="1506.3" y1="340.72" x2="1503.52" y2="336.56" stroke="#000" stroke-width="5"/>
<circle cx="1507.44" cy="332.64" r="0.75" fill="#fff" stroke="#000" stroke-width="0"/>
<line x1="1514.92" y1="335.89" x2="1512.83" y2="331.35" stroke="#000" stroke-width="5"/>
<circle cx="1517.31" cy="328.08" r="0.75" fill="#fff" stroke="#000" stroke-width="0"/>
<line x1="1524.2" y1="332.47" x2="1522.84" y2="327.65" stroke="#000" stroke-width="5"/>
<circle cx="1527.78" cy="325.13" r="0.75" fill="#fff" stroke="#000" stroke-width="0"/>
<line x1="1533.9" y1="330.54" x2="1533.31" y2="325.57" stroke="#000" stroke-width="5"/>
<circle cx="1538.58" cy="323.85" r="0.75" fill="#fff" stroke="#000" stroke-width="0"/>
<line x1="1543.77" y1="330.15" x2="1543.97" y2="325.15" stroke="#000" stroke-width="5"/>
<circle cx="1549.45" cy="324.28" r="0.75" fill="#fff" stroke="#000" stroke-width="0"/>
<line x1="1553.59" y1="331.31" x2="1554.57" y2="326.41" stroke="#000" stroke-width="5"/>
<circle cx="1560.11" cy="326.4" r="0.75" fill="#fff" stroke="#000" stroke-width="0"/>
<line x1="1563.11" y1="333.99" x2="1564.84" y2="329.3" stroke="#000" stroke-width="5"/>
<circle cx="1570.31" cy="330.17" r="0.75" fill="#fff" stroke="#000" stroke-width="0"/>
<line x1="1572.08" y1="338.13" x2="1574.53" y2="333.77" stroke="#000" stroke-width="5"/>
<circle cx="1579.8" cy="335.48" r="0.75" fill="#fff" stroke="#000" stroke-width="0"/>
<line x1="1580.3" y1="343.63" x2="1583.4" y2="339.7" stroke="#000" stroke-width="5"/>
<circle cx="1588.34" cy="342.21" r="0.75" fill="#fff" stroke="#000" stroke-width="0"/>
<line x1="1587.56" y1="350.34" x2="1591.23" y2="346.94" stroke="#000" stroke-width="5"/>
<circle cx="1595.72" cy="350.2" r="0.75" fill="#fff" stroke="#000" stroke-width="0"/>
<line x1="1593.68" y1="358.1" x2="1597.84" y2="355.32" stroke="#000" stroke-width="5"/>
<circle cx="1601.76" cy="359.24" r="0.75" fill="#fff" stroke="#000" stroke-width="0"/>
<line x1="1598.51" y1="366.72" x2="1603.05" y2="364.63" stroke="#000" stroke-width="5"/>
<circle cx="1606.32" cy="369.11" r="0.75" fill="#fff" stroke="#000" stroke-width="0"/>
<line x1="1601.93" y1="376" x2="1606.75" y2="374.64" stroke="#000" stroke-width="5"/>
<circle cx="1609.27" cy="379.58" r="0.75" fill="#fff" stroke="#000" stroke-width="0"/>
<line x1="1603.86" y1="385.7" x2="1608.83" y2="385.11" stroke="#000" stroke-width="5"/>
<circle cx="1610.55" cy="390.38" r="0.75" fill="#fff" stroke="#000" stroke-width="0"/>
<circle cx="1541.3" cy="393.1" r="72.8" fill="none" stroke="#fff" stroke-width="0.6" stroke-dasharray="2.5,1.5"/>
<circle cx="1541.3" cy="393.1" r="33" fill="none" stroke="#000" stroke-width="10.6"/>
<circle cx="1541.3" cy="393.1" r="24.5" fill="#000" stroke="#000" stroke-width="0"/>
<path d="M1557.39,398.9 L1559.39,396.9 L1561.39,398.9 L1559.39,400.9 Z" fill="#fff"/>
<path d="M1550.53,408.42 L1552.53,406.42 L1554.53,408.42 L1552.53,410.42 Z" fill="#fff"/>
<path d="M1539.38,412.1 L1541.38,410.1 L1543.38,412.1 L1541.38,414.1 Z" fill="#fff"/>
<path d="M1528.2,408.52 L1530.2,406.52 L1532.2,408.52 L1530.2,410.52 Z" fill="#fff"/>
<path d="M1521.25,399.05 L1523.25,397.05 L1525.25,399.05 L1523.25,401.05 Z" fill="#fff"/>
<path d="M1521.21,387.3 L1523.21,385.3 L1525.21,387.3 L1523.21,389.3 Z" fill="#fff"/>
<path d="M1528.07,377.78 L1530.07,375.78 L1532.07,377.78 L1530.07,379.78 Z" fill="#fff"/>
<path d="M1539.22,374.1 L1541.22,372.1 L1543.22,374.1 L1541.22,376.1 Z" fill="#fff"/>
<path d="M1550.4,377.68 L1552.4,375.68 L1554.4,377.68 L1552.4,379.68 Z" fill="#fff"/>
<path d="M1557.35,387.15 L1559.35,385.15 L1561.35,387.15 L1559.35,389.15 Z" fill="#fff"/>
<circle cx="1552.8" cy="393.1" r="0.7" fill="#fff" stroke="#000" stroke-width="0"/>
<circle cx="1550.6" cy="399.86" r="0.7" fill="#fff" stroke="#000" stroke-width="0"/>
<circle cx="1544.85" cy="404.04" r="0.7" fill="#fff" stroke="#000" stroke-width="0"/>
<circle cx="1537.75" cy="404.04" r="0.7" fill="#fff" stroke="#000" stroke-width="0"/>
<circle cx="1532" cy="399.86" r="0.7" fill="#fff" stroke="#000" stroke-width="0"/>
<circle cx="1529.8" cy="393.1" r="0.7" fill="#fff" stroke="#000" stroke-width="0"/>
<circle cx="1532" cy="386.34" r="0.7" fill="#fff" stroke="#000" stroke-width="0"/>
<circle cx="1537.75" cy="382.16" r="0.7" fill="#fff" stroke="#000" stroke-width="0"/>
<circle cx="1544.85" cy="382.16" r="0.7" fill="#fff" stroke="#000" stroke-width="0"/>
<circle cx="1550.6" cy="386.34" r="0.7" fill="#fff" stroke="#000" stroke-width="0"/>
<line x1="1541.5" y1="310" x2="1541.5" y2="352" stroke="#444" stroke-width="1"/>
<line x1="1453.3" y1="393.5" x2="1499.3" y2="393.5" stroke="#444" stroke-width="1"/>
<line x1="1583.3" y1="393.5" x2="1629.3" y2="393.5" stroke="#444" stroke-width="1"/>
<path d="M1463.9,364.4 A77.8,77.8 0 0 1 1618.7,364.4 L1610.8,364.4 A70.5,70.5 0 0 0 1471.8,364.4 Z" fill="#fff" stroke="#000" stroke-width="1.1" />
<path d="M1468,364.4 A73.7,73.7 0 0 1 1614.6,364.4" fill="none" stroke="#000" stroke-width="0.8" />
<path d="M1469.9,364.4 A72.3,72.3 0 0 1 1612.7,364.4" fill="none" stroke="#000" stroke-width="0.8" />
<rect x="1463.5" y="358.5" width="8" height="6" fill="#fff" stroke="#000" stroke-width="1"/>
<rect x="1610.5" y="358.5" width="9" height="6" fill="#fff" stroke="#000" stroke-width="1"/>
<rect x="1473.5" y="315.5" width="14" height="6" fill="#fff" stroke="#000" stroke-width="1.2"/>
<circle cx="1476.3" cy="318.4" r="0.5" fill="none" stroke="#000" stroke-width="1"/>
<circle cx="1479.3" cy="318.4" r="0.5" fill="none" stroke="#000" stroke-width="1"/>
<circle cx="1482.3" cy="318.4" r="0.5" fill="none" stroke="#000" stroke-width="1"/>
<circle cx="1601.8" cy="318" r="2.5" fill="#fff" stroke="#000" stroke-width="1.2"/>
<rect x="1469.5" y="348.5" width="4" height="16" fill="none" stroke="#000" stroke-width="1"/>
<path d="M1600,103.5 L1635,103.5 C1620,115 1610,130 1608,160 L1607,215 C1608,245 1620,262 1638,273 L1600,273" fill="none" stroke="#000" stroke-width="1" />
<path d="M1635,103.5 C1643,107 1645,115 1645,150" fill="none" stroke="#000" stroke-width="0.8" />
<path d="M1647.7,380 L1647.7,71 C1647.7,52 1605.5,52 1605.5,71 L1605.5,94" fill="none" stroke="#000" stroke-width="1.1" />
<path d="M1651,380 L1651,71 C1651,57 1609.7,57 1609.7,71 L1609.7,94" fill="none" stroke="#000" stroke-width="1.1" />
<line x1="1605.5" y1="94.5" x2="1609.7" y2="94.5" stroke="#000" stroke-width="1"/>
<line x1="1620" y1="136.5" x2="1647" y2="136.5" stroke="#000" stroke-width="1.2"/>
<path d="M1624,132 Q1619,132 1619,136 Q1619,140 1624,140" fill="none" stroke="#000" stroke-width="1.2" />
<rect x="1632.5" y="132.5" width="3" height="7" fill="none" stroke="#000" stroke-width="1"/>
<line x1="1620" y1="236.5" x2="1647" y2="236.5" stroke="#000" stroke-width="1.2"/>
<path d="M1624,232 Q1619,232 1619,236 Q1619,240 1624,240" fill="none" stroke="#000" stroke-width="1.2" />
<rect x="1632.5" y="232.5" width="3" height="7" fill="none" stroke="#000" stroke-width="1"/>
<line x1="1641" y1="114" x2="1641" y2="150" stroke="#000" stroke-width="1.5"/>
<path d="M1646,186 L1670,184.6 Q1676.9,184.6 1676.9,192 L1676.9,258 Q1676.9,265.8 1670,265.8 L1646,265.8 Z" fill="none" stroke="#000" stroke-width="2" />
<line x1="1660" y1="186" x2="1660" y2="265" stroke="#000" stroke-width="1.5"/>
<line x1="1667" y1="186" x2="1667" y2="265" stroke="#000" stroke-width="1.5"/>
<rect x="1636" y="198" width="12" height="53" fill="none" stroke="#000" stroke-width="1.5"/>
<rect x="1649.5" y="195.5" width="11" height="10" fill="none" stroke="#000" stroke-width="1"/>
<rect x="1649.5" y="246.5" width="11" height="10" fill="none" stroke="#000" stroke-width="1"/>
<path d="M1626.6,282 L1678.5,282 L1695.7,300 L1695.7,329 L1646,329" fill="none" stroke="#000" stroke-width="1.2" />
<path d="M1652.5,296 Q1646,296 1646,302 L1646,322 Q1646,327 1652.5,327 L1684,327 Q1691,327 1691,320 L1691,303 Q1691,296 1684,296 Z" fill="none" stroke="#000" stroke-width="1.8" />
<rect x="1652.5" y="303" width="31" height="13" rx="6.5" fill="#000"/>
<line x1="1657" y1="309.5" x2="1680" y2="309.5" stroke="#fff" stroke-width="1.2" stroke-dasharray="6,2"/>
<path d="M1668.8,335.6 L1668.8,365 L1680,385 L1680,404 L1697,404 L1697,382 L1690,372 L1690,335.6" fill="none" stroke="#000" stroke-width="1.2" />
<rect x="1683.5" y="348.5" width="19" height="17" fill="none" stroke="#000" stroke-width="1"/>
<line x1="1684" y1="373" x2="1684" y2="395" stroke="#000" stroke-width="2"/>
<line x1="1691.5" y1="406" x2="1691.5" y2="453" stroke="#000" stroke-width="2.5" stroke-dasharray="3,1.5"/>
<line x1="1691.5" y1="454" x2="1705" y2="454" stroke="#000" stroke-width="2.5" stroke-dasharray="3,1.5"/>
<line x1="1650" y1="282.5" x2="1700" y2="282.5" stroke="#000" stroke-width="0.8"/>
<line x1="1934.6" y1="34" x2="1934.6" y2="478" stroke="#000" stroke-width="1" stroke-dasharray="46,5,4,5"/>
<path d="M1895.0,56.4 A40,40 0 0 1 1974.1999999999998,56.4" fill="none" stroke="#000" stroke-width="1.2" />
<path d="M1899.6,56.4 A35.5,35.5 0 0 1 1969.6,56.4" fill="none" stroke="#000" stroke-width="0.9" />
<path d="M1901,53 L1901,45.8 L1912.2,45.8 L1914.8,42.7 L1955.4,42.7 L1961.5,49.9 L1961.5,53" fill="none" stroke="#000" stroke-width="1" />
<path d="M1913.3,53 L1913.3,45.8" fill="none" stroke="#000" stroke-width="0.9" />
<path d="M1920,46.5 L1952,46.5 L1957,50" fill="none" stroke="#000" stroke-width="0.9" />
<rect x="1899.9" y="53" width="69.9" height="3.3" fill="#000"/>
<rect x="1920" y="49.9" width="34.4" height="3.2" fill="#000"/>
<rect x="1879" y="56" width="111" height="12" fill="none" stroke="#000" stroke-width="1.8"/>
<line x1="1887.6" y1="68.4" x2="1876.3" y2="106.4" stroke="#000" stroke-width="1"/>
<line x1="1983.1" y1="68.4" x2="1993.9" y2="100.3" stroke="#000" stroke-width="1"/>
<line x1="1985.6" y1="68.4" x2="1996.2" y2="99" stroke="#000" stroke-width="1"/>
<path d="M1871,104 L1872,95 L1876,98" fill="none" stroke="#000" stroke-width="0.8" />
<path d="M1987,72 L1990,80 L1988,88" fill="none" stroke="#000" stroke-width="0.8" />
<path d="M 1934.60 103.40 C 1901.00 103.40 1851.00 110.00 1824.00 119.20 C 1811.00 124.00 1803.00 135.00 1801.00 150.00 C 1799.50 165.00 1799.40 180.00 1799.40 187.30 C 1799.40 200.00 1800.00 215.00 1802.00 224.00 C 1805.00 240.00 1813.00 250.00 1826.00 255.00 C 1851.00 265.00 1901.00 273.80 1934.60 273.80" fill="none" stroke="#000" stroke-width="1.4" />
<path d="M 1934.60 103.40 C 1968.20 103.40 2018.20 110.00 2045.20 119.20 C 2058.20 124.00 2066.20 135.00 2068.20 150.00 C 2069.70 165.00 2069.80 180.00 2069.80 187.30 C 2069.80 200.00 2069.20 215.00 2067.20 224.00 C 2064.20 240.00 2056.20 250.00 2043.20 255.00 C 2018.20 265.00 1968.20 273.80 1934.60 273.80" fill="none" stroke="#000" stroke-width="1.4" />
<g transform="translate(67.71,10.00) scale(0.965,0.947)"><path d="M 1934.60 103.40 C 1901.00 103.40 1851.00 110.00 1824.00 119.20 C 1811.00 124.00 1803.00 135.00 1801.00 150.00 C 1799.50 165.00 1799.40 180.00 1799.40 187.30 C 1799.40 200.00 1800.00 215.00 1802.00 224.00 C 1805.00 240.00 1813.00 250.00 1826.00 255.00 C 1851.00 265.00 1901.00 273.80 1934.60 273.80" fill="none" stroke="#000" stroke-width="1" vector-effect="non-scaling-stroke"/><path d="M 1934.60 103.40 C 1968.20 103.40 2018.20 110.00 2045.20 119.20 C 2058.20 124.00 2066.20 135.00 2068.20 150.00 C 2069.70 165.00 2069.80 180.00 2069.80 187.30 C 2069.80 200.00 2069.20 215.00 2067.20 224.00 C 2064.20 240.00 2056.20 250.00 2043.20 255.00 C 2018.20 265.00 1968.20 273.80 1934.60 273.80" fill="none" stroke="#000" stroke-width="1" vector-effect="non-scaling-stroke"/></g>
<path d="M1821.6,258 C1851.6,268 1901.6,278 1934.6,278 C1967.6,278 2017.6,268 2047.6,258" fill="none" stroke="#000" stroke-width="1.6" />
<rect x="1794.5" y="171.5" width="4" height="36" fill="none" stroke="#000" stroke-width="1"/>
<rect x="2071.5" y="171.5" width="3" height="36" fill="none" stroke="#000" stroke-width="1"/>
<rect x="1806.5" y="120.5" width="13" height="8" fill="none" stroke="#000" stroke-width="1"/>
<rect x="2050.5" y="120.5" width="13" height="8" fill="none" stroke="#000" stroke-width="1"/>
<rect x="1925.5" y="255.5" width="18" height="9" fill="none" stroke="#000" stroke-width="1.2"/>
<line x1="1998.5" y1="61" x2="1998.5" y2="279" stroke="#000" stroke-width="1"/>
<line x1="2002.5" y1="61" x2="2002.5" y2="279" stroke="#000" stroke-width="1"/>
<line x1="2043.5" y1="61" x2="2043.5" y2="279" stroke="#000" stroke-width="1"/>
<line x1="2047.5" y1="61" x2="2047.5" y2="279" stroke="#000" stroke-width="1"/>
<path d="M1998.8,61 Q2000.6,56 2002.5,61" fill="none" stroke="#000" stroke-width="1" />
<path d="M2043.5,61 Q2045.4,56 2047.4,61" fill="none" stroke="#000" stroke-width="1" />
<rect x="2002.5" y="99.5" width="41" height="4" fill="none" stroke="#000" stroke-width="1"/>
<rect x="2002.5" y="136.5" width="41" height="4" fill="none" stroke="#000" stroke-width="1"/>
<rect x="2002.5" y="172.5" width="41" height="4" fill="none" stroke="#000" stroke-width="1"/>
<path d="M2003,172 q1.2,-1.5 2.4,0 q1.2,-1.5 2.4,0 q1.2,-1.5 2.4,0 q1.2,-1.5 2.4,0 q1.2,-1.5 2.4,0 q1.2,-1.5 2.4,0 q1.2,-1.5 2.4,0 q1.2,-1.5 2.4,0 q1.2,-1.5 2.4,0 q1.2,-1.5 2.4,0 q1.2,-1.5 2.4,0 q1.2,-1.5 2.4,0 q1.2,-1.5 2.4,0 q1.2,-1.5 2.4,0 q1.2,-1.5 2.4,0 q1.2,-1.5 2.4,0" fill="none" stroke="#000" stroke-width="0.7" />
<rect x="2002.5" y="207.5" width="41" height="4" fill="none" stroke="#000" stroke-width="1"/>
<path d="M2003,207.4 q1.2,-1.5 2.4,0 q1.2,-1.5 2.4,0 q1.2,-1.5 2.4,0 q1.2,-1.5 2.4,0 q1.2,-1.5 2.4,0 q1.2,-1.5 2.4,0 q1.2,-1.5 2.4,0 q1.2,-1.5 2.4,0 q1.2,-1.5 2.4,0 q1.2,-1.5 2.4,0 q1.2,-1.5 2.4,0 q1.2,-1.5 2.4,0 q1.2,-1.5 2.4,0 q1.2,-1.5 2.4,0 q1.2,-1.5 2.4,0 q1.2,-1.5 2.4,0" fill="none" stroke="#000" stroke-width="0.7" />
<rect x="2002.5" y="243.5" width="41" height="4" fill="none" stroke="#000" stroke-width="1"/>
<path d="M2003,243 q1.2,-1.5 2.4,0 q1.2,-1.5 2.4,0 q1.2,-1.5 2.4,0 q1.2,-1.5 2.4,0 q1.2,-1.5 2.4,0 q1.2,-1.5 2.4,0 q1.2,-1.5 2.4,0 q1.2,-1.5 2.4,0 q1.2,-1.5 2.4,0 q1.2,-1.5 2.4,0 q1.2,-1.5 2.4,0 q1.2,-1.5 2.4,0 q1.2,-1.5 2.4,0 q1.2,-1.5 2.4,0 q1.2,-1.5 2.4,0 q1.2,-1.5 2.4,0" fill="none" stroke="#000" stroke-width="0.7" />
<rect x="2002.5" y="274.5" width="41" height="4" fill="none" stroke="#000" stroke-width="1"/>
<path d="M2003,274 q1.2,-1.5 2.4,0 q1.2,-1.5 2.4,0 q1.2,-1.5 2.4,0 q1.2,-1.5 2.4,0 q1.2,-1.5 2.4,0 q1.2,-1.5 2.4,0 q1.2,-1.5 2.4,0 q1.2,-1.5 2.4,0 q1.2,-1.5 2.4,0 q1.2,-1.5 2.4,0 q1.2,-1.5 2.4,0 q1.2,-1.5 2.4,0 q1.2,-1.5 2.4,0 q1.2,-1.5 2.4,0 q1.2,-1.5 2.4,0 q1.2,-1.5 2.4,0" fill="none" stroke="#000" stroke-width="0.7" />
<rect x="1996.5" y="133.5" width="9" height="10" fill="none" stroke="#000" stroke-width="1" rx="4"/>
<rect x="2040.5" y="133.5" width="9" height="10" fill="none" stroke="#000" stroke-width="1" rx="4"/>
<rect x="1996.5" y="240.5" width="9" height="10" fill="none" stroke="#000" stroke-width="1" rx="4"/>
<rect x="2040.5" y="240.5" width="9" height="10" fill="none" stroke="#000" stroke-width="1" rx="4"/>
<line x1="2049" y1="88" x2="2049" y2="112" stroke="#000" stroke-width="1.8"/>
<rect x="2044.5" y="86.5" width="6" height="6" fill="none" stroke="#000" stroke-width="1"/>
<path d="M1786,282 C1786,268 1794,262 1800,262 C1806,262 1814,268 1814,282" fill="none" stroke="#000" stroke-width="1.2" />
<circle cx="1808" cy="265" r="2.2" fill="none" stroke="#000" stroke-width="1"/>
<path d="M2055,282 C2055,268 2063,262 2069,262 C2075,262 2083,268 2083,282" fill="none" stroke="#000" stroke-width="1.2" />
<circle cx="2061" cy="265" r="2.2" fill="none" stroke="#000" stroke-width="1"/>
<line x1="1789.5" y1="282.5" x2="2078.8" y2="282.5" stroke="#000" stroke-width="1.4"/>
<rect x="1789.5" y="282.5" width="81" height="21" fill="none" stroke="#000" stroke-width="1"/>
<rect x="1999.5" y="282.5" width="79" height="21" fill="none" stroke="#000" stroke-width="1"/>
<path d="M1796,300 L1830,303.6 L1870,303.6" fill="none" stroke="#000" stroke-width="0.8" />
<path d="M2072,300 L2040,303.6 L1999.6,303.6" fill="none" stroke="#000" stroke-width="0.8" />
<rect x="1796.5" y="303.5" width="74" height="61" fill="none" stroke="#000" stroke-width="1.2"/>
<rect x="1999.5" y="303.5" width="73" height="61" fill="none" stroke="#000" stroke-width="1.2"/>
<circle cx="1800" cy="293" r="1" fill="none" stroke="#000" stroke-width="1"/>
<circle cx="2066" cy="293" r="1" fill="none" stroke="#000" stroke-width="1"/>
<line x1="1784.5" y1="302" x2="1784.5" y2="370" stroke="#000" stroke-width="1"/>
<line x1="1788.5" y1="300" x2="1788.5" y2="370" stroke="#000" stroke-width="1"/>
<line x1="2084.5" y1="302" x2="2084.5" y2="370" stroke="#000" stroke-width="1"/>
<line x1="2080.5" y1="300" x2="2080.5" y2="370" stroke="#000" stroke-width="1"/>
<rect x="1789.5" y="305.5" width="5" height="7" fill="none" stroke="#000" stroke-width="0.8"/>
<rect x="2074.5" y="305.5" width="5" height="7" fill="none" stroke="#000" stroke-width="0.8"/>
<rect x="1870.5" y="282.5" width="129" height="18" fill="none" stroke="#000" stroke-width="1"/>
<rect x="1893.5" y="282.5" width="82" height="13" fill="none" stroke="#000" stroke-width="1"/>
<circle cx="1910" cy="291.5" r="2.6" fill="none" stroke="#000" stroke-width="1"/>
<circle cx="1918.7" cy="291.5" r="2.6" fill="none" stroke="#000" stroke-width="1"/>
<circle cx="1928" cy="291.5" r="2.6" fill="none" stroke="#000" stroke-width="1"/>
<circle cx="1940" cy="291.5" r="2.6" fill="none" stroke="#000" stroke-width="1"/>
<circle cx="1950" cy="291.5" r="2.6" fill="none" stroke="#000" stroke-width="1"/>
<rect x="1908" y="286" width="3" height="10" fill="#000" stroke="#000" stroke-width="0"/>
<rect x="1963" y="286" width="3" height="10" fill="#000" stroke="#000" stroke-width="0"/>
<line x1="1884" y1="300.5" x2="1982.8" y2="300.5" stroke="#000" stroke-width="1"/>
<path d="M1875,308.8 L1884,300.2 L1982.8,300.2 L1994.4,308.8" fill="none" stroke="#000" stroke-width="1.2" />
<line x1="1870" y1="308.5" x2="1999.6" y2="308.5" stroke="#000" stroke-width="1"/>
<rect x="1893.5" y="308.5" width="83" height="25" fill="none" stroke="#000" stroke-width="1.1"/>
<rect x="1893" y="333" width="83.5" height="3" fill="#000"/>
<circle cx="1900" cy="316" r="2.6" fill="none" stroke="#000" stroke-width="1"/>
<circle cx="1969" cy="316" r="2.6" fill="none" stroke="#000" stroke-width="1"/>
<rect x="1932.5" y="312.5" width="5" height="8" fill="none" stroke="#000" stroke-width="1"/>
<path d="M1871.2,308.8 L1871.2,328 Q1871.2,333.4 1876.2,333.4 L1887.2,333.4 Q1892.2,333.4 1892.2,328 L1892.2,308.8" fill="none" stroke="#000" stroke-width="1" />
<path d="M1977,308.8 L1977,328 Q1977,333.4 1982,333.4 L1993,333.4 Q1998,333.4 1998,328 L1998,308.8" fill="none" stroke="#000" stroke-width="1" />
<line x1="1870" y1="336.5" x2="1999.6" y2="336.5" stroke="#000" stroke-width="0.8"/>
<line x1="1883.5" y1="336" x2="1883.5" y2="356" stroke="#000" stroke-width="0.8"/>
<line x1="1889.5" y1="336" x2="1889.5" y2="356" stroke="#000" stroke-width="0.8"/>
<line x1="1980.5" y1="336" x2="1980.5" y2="356" stroke="#000" stroke-width="0.8"/>
<line x1="1986.5" y1="336" x2="1986.5" y2="356" stroke="#000" stroke-width="0.8"/>
<rect x="1885.5" y="350.5" width="99" height="4" fill="none" stroke="#000" stroke-width="1"/>
<rect x="1895.8" y="344" width="2.4" height="3" fill="#000" stroke="#000" stroke-width="0"/>
<rect x="1902.8" y="344" width="2.4" height="3" fill="#000" stroke="#000" stroke-width="0"/>
<rect x="1962.8" y="344" width="2.4" height="3" fill="#000" stroke="#000" stroke-width="0"/>
<rect x="1969.8" y="344" width="2.4" height="3" fill="#000" stroke="#000" stroke-width="0"/>
<path d="M1870,364.5 L1881.6,354.2" fill="none" stroke="#000" stroke-width="1" />
<path d="M1999.6,364.5 L1988,354.2" fill="none" stroke="#000" stroke-width="1" />
<path d="M1866,362 L1940,362 Q1947,362 1947,377 Q1947,392 1940,392 L1866,392 Q1859,392 1859,377 Q1859,362 1866,362 Z" fill="none" stroke="#000" stroke-width="1" />
<line x1="1958.5" y1="362" x2="1958.5" y2="392" stroke="#000" stroke-width="1"/>
<line x1="1978.5" y1="362" x2="1978.5" y2="392" stroke="#000" stroke-width="1"/>
<line x1="1984.5" y1="362" x2="1984.5" y2="392" stroke="#000" stroke-width="1"/>
<path d="M1961,370 C1965,364 1972,372 1974,384 C1970,392 1962,388 1961,380 Z" fill="none" stroke="#000" stroke-width="1.5" />
<rect x="1855.5" y="394.5" width="160" height="4" fill="none" stroke="#000" stroke-width="1.2"/>
<rect x="1870.5" y="398.5" width="5" height="15" fill="none" stroke="#000" stroke-width="1"/>
<rect x="1888.5" y="398.5" width="5" height="15" fill="none" stroke="#000" stroke-width="1"/>
<rect x="1975.5" y="398.5" width="5" height="15" fill="none" stroke="#000" stroke-width="1"/>
<rect x="1993.5" y="398.5" width="5" height="15" fill="none" stroke="#000" stroke-width="1"/>
<line x1="1863" y1="413.5" x2="2007" y2="413.5" stroke="#000" stroke-width="1"/>
<rect x="1831.5" y="393.5" width="26" height="4" fill="none" stroke="#000" stroke-width="1.2"/>
<rect x="1834" y="397" width="20" height="8" fill="none" stroke="#000" stroke-width="1.5"/>
<line x1="1836.5" y1="397" x2="1836.5" y2="405" stroke="#000" stroke-width="1.2"/>
<line x1="1839.5" y1="397" x2="1839.5" y2="405" stroke="#000" stroke-width="1.2"/>
<line x1="1842.5" y1="397" x2="1842.5" y2="405" stroke="#000" stroke-width="1.2"/>
<line x1="1845.5" y1="397" x2="1845.5" y2="405" stroke="#000" stroke-width="1.2"/>
<line x1="1848.5" y1="397" x2="1848.5" y2="405" stroke="#000" stroke-width="1.2"/>
<line x1="1851.5" y1="397" x2="1851.5" y2="405" stroke="#000" stroke-width="1.2"/>
<rect x="1831.5" y="405.5" width="26" height="3" fill="none" stroke="#000" stroke-width="1.2"/>
<rect x="2011.5" y="393.5" width="26" height="4" fill="none" stroke="#000" stroke-width="1.2"/>
<rect x="2014" y="397" width="20" height="8" fill="none" stroke="#000" stroke-width="1.5"/>
<line x1="2016.5" y1="397" x2="2016.5" y2="405" stroke="#000" stroke-width="1.2"/>
<line x1="2019.5" y1="397" x2="2019.5" y2="405" stroke="#000" stroke-width="1.2"/>
<line x1="2022.5" y1="397" x2="2022.5" y2="405" stroke="#000" stroke-width="1.2"/>
<line x1="2025.5" y1="397" x2="2025.5" y2="405" stroke="#000" stroke-width="1.2"/>
<line x1="2028.5" y1="397" x2="2028.5" y2="405" stroke="#000" stroke-width="1.2"/>
<line x1="2031.5" y1="397" x2="2031.5" y2="405" stroke="#000" stroke-width="1.2"/>
<rect x="2011.5" y="405.5" width="26" height="3" fill="none" stroke="#000" stroke-width="1.2"/>
<path d="M1815.4,367 C1815,385 1825,393 1836,396" fill="none" stroke="#000" stroke-width="1.2" />
<path d="M1819,367 C1819,382 1827,389 1836,391" fill="none" stroke="#000" stroke-width="1" />
<path d="M2053.8,367 C2054,385 2044,393 2033,396" fill="none" stroke="#000" stroke-width="1.2" />
<path d="M2050,367 C2050,382 2042,389 2033,391" fill="none" stroke="#000" stroke-width="1" />
<path d="M1843,364.5 L1843,393 M1848,364.5 L1848,393" fill="none" stroke="#000" stroke-width="1" />
<path d="M2021,364.5 L2021,393 M2026,364.5 L2026,393" fill="none" stroke="#000" stroke-width="1" />
<path d="M1786.9,373.6 L1786.9,456 L1791.45,463 L1796,456 L1796,373.6" fill="none" stroke="#000" stroke-width="1.6" />
<line x1="1791.5" y1="373.6" x2="1791.5" y2="458" stroke="#000" stroke-width="0.8"/>
<path d="M1832,406 L1832,456 L1836,463 L1840,456 L1840,406" fill="none" stroke="#000" stroke-width="1.6" />
<line x1="1836.5" y1="406" x2="1836.5" y2="458" stroke="#000" stroke-width="0.8"/>
<path d="M2029.5,406 L2029.5,456 L2033.25,463 L2037,456 L2037,406" fill="none" stroke="#000" stroke-width="1.6" />
<line x1="2033.5" y1="406" x2="2033.5" y2="458" stroke="#000" stroke-width="0.8"/>
<path d="M2072,373.6 L2072,456 L2077.35,463 L2082.7,456 L2082.7,373.6" fill="none" stroke="#000" stroke-width="1.6" />
<line x1="2077.5" y1="373.6" x2="2077.5" y2="458" stroke="#000" stroke-width="0.8"/>
<rect x="1785.5" y="373.5" width="12" height="47" fill="none" stroke="#000" stroke-width="1"/>
<rect x="2070.5" y="373.5" width="14" height="47" fill="none" stroke="#000" stroke-width="1"/>
<line x1="1770" y1="463.5" x2="2110" y2="463.5" stroke="#333" stroke-width="1"/>
<line x1="1813.5" y1="406" x2="1813.5" y2="477" stroke="#333" stroke-width="1"/>
<line x1="2055.5" y1="406" x2="2055.5" y2="477" stroke="#333" stroke-width="1"/>
<line x1="348" y1="763.6" x2="1712" y2="763.6" stroke="#000" stroke-width="1" stroke-dasharray="46,5,4,5"/>
<line x1="464.8" y1="631" x2="1606" y2="631" stroke="#000" stroke-width="1.8"/>
<line x1="465.4" y1="626.5" x2="1606" y2="626.5" stroke="#000" stroke-width="1"/>
<line x1="497" y1="622.5" x2="1600" y2="622.5" stroke="#777" stroke-width="0.8"/>
<line x1="543.2" y1="616.5" x2="1602" y2="616.5" stroke="#000" stroke-width="1"/>
<line x1="442.7" y1="657.5" x2="1615" y2="657.5" stroke="#000" stroke-width="1"/>
<path d="M545,616.6 C548,618.5 549,622 550,626.2" fill="none" stroke="#000" stroke-width="0.9" />
<path d="M564.25,616.6 C567.25,618.5 568.25,622 569.25,626.2" fill="none" stroke="#000" stroke-width="0.9" />
<path d="M583.5,616.6 C586.5,618.5 587.5,622 588.5,626.2" fill="none" stroke="#000" stroke-width="0.9" />
<path d="M602.75,616.6 C605.75,618.5 606.75,622 607.75,626.2" fill="none" stroke="#000" stroke-width="0.9" />
<path d="M622,616.6 C625,618.5 626,622 627,626.2" fill="none" stroke="#000" stroke-width="0.9" />
<path d="M641.25,616.6 C644.25,618.5 645.25,622 646.25,626.2" fill="none" stroke="#000" stroke-width="0.9" />
<path d="M660.5,616.6 C663.5,618.5 664.5,622 665.5,626.2" fill="none" stroke="#000" stroke-width="0.9" />
<path d="M679.75,616.6 C682.75,618.5 683.75,622 684.75,626.2" fill="none" stroke="#000" stroke-width="0.9" />
<path d="M699,616.6 C702,618.5 703,622 704,626.2" fill="none" stroke="#000" stroke-width="0.9" />
<path d="M718.25,616.6 C721.25,618.5 722.25,622 723.25,626.2" fill="none" stroke="#000" stroke-width="0.9" />
<path d="M737.5,616.6 C740.5,618.5 741.5,622 742.5,626.2" fill="none" stroke="#000" stroke-width="0.9" />
<path d="M756.75,616.6 C759.75,618.5 760.75,622 761.75,626.2" fill="none" stroke="#000" stroke-width="0.9" />
<path d="M776,616.6 C779,618.5 780,622 781,626.2" fill="none" stroke="#000" stroke-width="0.9" />
<path d="M795.25,616.6 C798.25,618.5 799.25,622 800.25,626.2" fill="none" stroke="#000" stroke-width="0.9" />
<path d="M814.5,616.6 C817.5,618.5 818.5,622 819.5,626.2" fill="none" stroke="#000" stroke-width="0.9" />
<path d="M833.75,616.6 C836.75,618.5 837.75,622 838.75,626.2" fill="none" stroke="#000" stroke-width="0.9" />
<path d="M853,616.6 C856,618.5 857,622 858,626.2" fill="none" stroke="#000" stroke-width="0.9" />
<path d="M872.25,616.6 C875.25,618.5 876.25,622 877.25,626.2" fill="none" stroke="#000" stroke-width="0.9" />
<path d="M891.5,616.6 C894.5,618.5 895.5,622 896.5,626.2" fill="none" stroke="#000" stroke-width="0.9" />
<path d="M910.75,616.6 C913.75,618.5 914.75,622 915.75,626.2" fill="none" stroke="#000" stroke-width="0.9" />
<path d="M930,616.6 C933,618.5 934,622 935,626.2" fill="none" stroke="#000" stroke-width="0.9" />
<path d="M949.25,616.6 C952.25,618.5 953.25,622 954.25,626.2" fill="none" stroke="#000" stroke-width="0.9" />
<path d="M968.5,616.6 C971.5,618.5 972.5,622 973.5,626.2" fill="none" stroke="#000" stroke-width="0.9" />
<path d="M987.75,616.6 C990.75,618.5 991.75,622 992.75,626.2" fill="none" stroke="#000" stroke-width="0.9" />
<path d="M1007,616.6 C1010,618.5 1011,622 1012,626.2" fill="none" stroke="#000" stroke-width="0.9" />
<path d="M1026.25,616.6 C1029.25,618.5 1030.25,622 1031.25,626.2" fill="none" stroke="#000" stroke-width="0.9" />
<path d="M1045.5,616.6 C1048.5,618.5 1049.5,622 1050.5,626.2" fill="none" stroke="#000" stroke-width="0.9" />
<path d="M1064.75,616.6 C1067.75,618.5 1068.75,622 1069.75,626.2" fill="none" stroke="#000" stroke-width="0.9" />
<path d="M1084,616.6 C1087,618.5 1088,622 1089,626.2" fill="none" stroke="#000" stroke-width="0.9" />
<path d="M1103.25,616.6 C1106.25,618.5 1107.25,622 1108.25,626.2" fill="none" stroke="#000" stroke-width="0.9" />
<path d="M1122.5,616.6 C1125.5,618.5 1126.5,622 1127.5,626.2" fill="none" stroke="#000" stroke-width="0.9" />
<path d="M1141.75,616.6 C1144.75,618.5 1145.75,622 1146.75,626.2" fill="none" stroke="#000" stroke-width="0.9" />
<path d="M1161,616.6 C1164,618.5 1165,622 1166,626.2" fill="none" stroke="#000" stroke-width="0.9" />
<path d="M1180.25,616.6 C1183.25,618.5 1184.25,622 1185.25,626.2" fill="none" stroke="#000" stroke-width="0.9" />
<path d="M1199.5,616.6 C1202.5,618.5 1203.5,622 1204.5,626.2" fill="none" stroke="#000" stroke-width="0.9" />
<path d="M1218.75,616.6 C1221.75,618.5 1222.75,622 1223.75,626.2" fill="none" stroke="#000" stroke-width="0.9" />
<path d="M1238,616.6 C1241,618.5 1242,622 1243,626.2" fill="none" stroke="#000" stroke-width="0.9" />
<path d="M1257.25,616.6 C1260.25,618.5 1261.25,622 1262.25,626.2" fill="none" stroke="#000" stroke-width="0.9" />
<path d="M1276.5,616.6 C1279.5,618.5 1280.5,622 1281.5,626.2" fill="none" stroke="#000" stroke-width="0.9" />
<path d="M1295.75,616.6 C1298.75,618.5 1299.75,622 1300.75,626.2" fill="none" stroke="#000" stroke-width="0.9" />
<path d="M1315,616.6 C1318,618.5 1319,622 1320,626.2" fill="none" stroke="#000" stroke-width="0.9" />
<path d="M1334.25,616.6 C1337.25,618.5 1338.25,622 1339.25,626.2" fill="none" stroke="#000" stroke-width="0.9" />
<path d="M1353.5,616.6 C1356.5,618.5 1357.5,622 1358.5,626.2" fill="none" stroke="#000" stroke-width="0.9" />
<path d="M1372.75,616.6 C1375.75,618.5 1376.75,622 1377.75,626.2" fill="none" stroke="#000" stroke-width="0.9" />
<path d="M1392,616.6 C1395,618.5 1396,622 1397,626.2" fill="none" stroke="#000" stroke-width="0.9" />
<path d="M1411.25,616.6 C1414.25,618.5 1415.25,622 1416.25,626.2" fill="none" stroke="#000" stroke-width="0.9" />
<path d="M1430.5,616.6 C1433.5,618.5 1434.5,622 1435.5,626.2" fill="none" stroke="#000" stroke-width="0.9" />
<path d="M1449.75,616.6 C1452.75,618.5 1453.75,622 1454.75,626.2" fill="none" stroke="#000" stroke-width="0.9" />
<path d="M1469,616.6 C1472,618.5 1473,622 1474,626.2" fill="none" stroke="#000" stroke-width="0.9" />
<path d="M1488.25,616.6 C1491.25,618.5 1492.25,622 1493.25,626.2" fill="none" stroke="#000" stroke-width="0.9" />
<path d="M1507.5,616.6 C1510.5,618.5 1511.5,622 1512.5,626.2" fill="none" stroke="#000" stroke-width="0.9" />
<path d="M1526.75,616.6 C1529.75,618.5 1530.75,622 1531.75,626.2" fill="none" stroke="#000" stroke-width="0.9" />
<path d="M1546,616.6 C1549,618.5 1550,622 1551,626.2" fill="none" stroke="#000" stroke-width="0.9" />
<path d="M1565.25,616.6 C1568.25,618.5 1569.25,622 1570.25,626.2" fill="none" stroke="#000" stroke-width="0.9" />
<path d="M1584.5,616.6 C1587.5,618.5 1588.5,622 1589.5,626.2" fill="none" stroke="#000" stroke-width="0.9" />
<path d="M853.7,616.4 Q853.7,613.6 857.7,613.6 L1089.7,613.6 Q1093.7,613.6 1093.7,616.4" fill="none" stroke="#000" stroke-width="1.2" />
<path d="M1099,616.4 Q1099,613.6 1103,613.6 L1247.4,613.6 Q1251.4,613.6 1251.4,616.4" fill="none" stroke="#000" stroke-width="1.2" />
<path d="M1281,616.4 Q1281,613.6 1285,613.6 L1431.4,613.6 Q1435.4,613.6 1435.4,616.4" fill="none" stroke="#000" stroke-width="1.2" />
<path d="M1465,616.4 Q1465,613.6 1469,613.6 L1608,613.6 Q1612,613.6 1612,616.4" fill="none" stroke="#000" stroke-width="1.2" />
<path d="M503.5,615.4 L516.5,615.4 L516.5,617.5 L512.5,619.5 L512.5,626 L507.5,626 L507.5,619.5 L503.5,617.5 Z" fill="none" stroke="#000" stroke-width="1" />
<path d="M728.5,615.4 L741.5,615.4 L741.5,617.5 L737.5,619.5 L737.5,626 L732.5,626 L732.5,619.5 L728.5,617.5 Z" fill="none" stroke="#000" stroke-width="1" />
<path d="M886.8,615.4 L899.8,615.4 L899.8,617.5 L895.8,619.5 L895.8,626 L890.8,626 L890.8,619.5 L886.8,617.5 Z" fill="none" stroke="#000" stroke-width="1" />
<path d="M458.5,626 L458.5,619 Q458.5,617.7 461,617.7 L464,617.7 Q466.5,617.7 466.5,619 L466.5,626" fill="none" stroke="#000" stroke-width="1" />
<line x1="464.8" y1="895" x2="1606" y2="895" stroke="#000" stroke-width="1.8"/>
<line x1="465.4" y1="899.5" x2="1606" y2="899.5" stroke="#000" stroke-width="1"/>
<line x1="497" y1="903.5" x2="1600" y2="903.5" stroke="#777" stroke-width="0.8"/>
<line x1="543.2" y1="909.5" x2="1602" y2="909.5" stroke="#000" stroke-width="1"/>
<line x1="442.7" y1="868.5" x2="1615" y2="868.5" stroke="#000" stroke-width="1"/>
<path d="M545,909.3 C548,907.4 549,903.9 550,899.7" fill="none" stroke="#000" stroke-width="0.9" />
<path d="M564.25,909.3 C567.25,907.4 568.25,903.9 569.25,899.7" fill="none" stroke="#000" stroke-width="0.9" />
<path d="M583.5,909.3 C586.5,907.4 587.5,903.9 588.5,899.7" fill="none" stroke="#000" stroke-width="0.9" />
<path d="M602.75,909.3 C605.75,907.4 606.75,903.9 607.75,899.7" fill="none" stroke="#000" stroke-width="0.9" />
<path d="M622,909.3 C625,907.4 626,903.9 627,899.7" fill="none" stroke="#000" stroke-width="0.9" />
<path d="M641.25,909.3 C644.25,907.4 645.25,903.9 646.25,899.7" fill="none" stroke="#000" stroke-width="0.9" />
<path d="M660.5,909.3 C663.5,907.4 664.5,903.9 665.5,899.7" fill="none" stroke="#000" stroke-width="0.9" />
<path d="M679.75,909.3 C682.75,907.4 683.75,903.9 684.75,899.7" fill="none" stroke="#000" stroke-width="0.9" />
<path d="M699,909.3 C702,907.4 703,903.9 704,899.7" fill="none" stroke="#000" stroke-width="0.9" />
<path d="M718.25,909.3 C721.25,907.4 722.25,903.9 723.25,899.7" fill="none" stroke="#000" stroke-width="0.9" />
<path d="M737.5,909.3 C740.5,907.4 741.5,903.9 742.5,899.7" fill="none" stroke="#000" stroke-width="0.9" />
<path d="M756.75,909.3 C759.75,907.4 760.75,903.9 761.75,899.7" fill="none" stroke="#000" stroke-width="0.9" />
<path d="M776,909.3 C779,907.4 780,903.9 781,899.7" fill="none" stroke="#000" stroke-width="0.9" />
<path d="M795.25,909.3 C798.25,907.4 799.25,903.9 800.25,899.7" fill="none" stroke="#000" stroke-width="0.9" />
<path d="M814.5,909.3 C817.5,907.4 818.5,903.9 819.5,899.7" fill="none" stroke="#000" stroke-width="0.9" />
<path d="M833.75,909.3 C836.75,907.4 837.75,903.9 838.75,899.7" fill="none" stroke="#000" stroke-width="0.9" />
<path d="M853,909.3 C856,907.4 857,903.9 858,899.7" fill="none" stroke="#000" stroke-width="0.9" />
<path d="M872.25,909.3 C875.25,907.4 876.25,903.9 877.25,899.7" fill="none" stroke="#000" stroke-width="0.9" />
<path d="M891.5,909.3 C894.5,907.4 895.5,903.9 896.5,899.7" fill="none" stroke="#000" stroke-width="0.9" />
<path d="M910.75,909.3 C913.75,907.4 914.75,903.9 915.75,899.7" fill="none" stroke="#000" stroke-width="0.9" />
<path d="M930,909.3 C933,907.4 934,903.9 935,899.7" fill="none" stroke="#000" stroke-width="0.9" />
<path d="M949.25,909.3 C952.25,907.4 953.25,903.9 954.25,899.7" fill="none" stroke="#000" stroke-width="0.9" />
<path d="M968.5,909.3 C971.5,907.4 972.5,903.9 973.5,899.7" fill="none" stroke="#000" stroke-width="0.9" />
<path d="M987.75,909.3 C990.75,907.4 991.75,903.9 992.75,899.7" fill="none" stroke="#000" stroke-width="0.9" />
<path d="M1007,909.3 C1010,907.4 1011,903.9 1012,899.7" fill="none" stroke="#000" stroke-width="0.9" />
<path d="M1026.25,909.3 C1029.25,907.4 1030.25,903.9 1031.25,899.7" fill="none" stroke="#000" stroke-width="0.9" />
<path d="M1045.5,909.3 C1048.5,907.4 1049.5,903.9 1050.5,899.7" fill="none" stroke="#000" stroke-width="0.9" />
<path d="M1064.75,909.3 C1067.75,907.4 1068.75,903.9 1069.75,899.7" fill="none" stroke="#000" stroke-width="0.9" />
<path d="M1084,909.3 C1087,907.4 1088,903.9 1089,899.7" fill="none" stroke="#000" stroke-width="0.9" />
<path d="M1103.25,909.3 C1106.25,907.4 1107.25,903.9 1108.25,899.7" fill="none" stroke="#000" stroke-width="0.9" />
<path d="M1122.5,909.3 C1125.5,907.4 1126.5,903.9 1127.5,899.7" fill="none" stroke="#000" stroke-width="0.9" />
<path d="M1141.75,909.3 C1144.75,907.4 1145.75,903.9 1146.75,899.7" fill="none" stroke="#000" stroke-width="0.9" />
<path d="M1161,909.3 C1164,907.4 1165,903.9 1166,899.7" fill="none" stroke="#000" stroke-width="0.9" />
<path d="M1180.25,909.3 C1183.25,907.4 1184.25,903.9 1185.25,899.7" fill="none" stroke="#000" stroke-width="0.9" />
<path d="M1199.5,909.3 C1202.5,907.4 1203.5,903.9 1204.5,899.7" fill="none" stroke="#000" stroke-width="0.9" />
<path d="M1218.75,909.3 C1221.75,907.4 1222.75,903.9 1223.75,899.7" fill="none" stroke="#000" stroke-width="0.9" />
<path d="M1238,909.3 C1241,907.4 1242,903.9 1243,899.7" fill="none" stroke="#000" stroke-width="0.9" />
<path d="M1257.25,909.3 C1260.25,907.4 1261.25,903.9 1262.25,899.7" fill="none" stroke="#000" stroke-width="0.9" />
<path d="M1276.5,909.3 C1279.5,907.4 1280.5,903.9 1281.5,899.7" fill="none" stroke="#000" stroke-width="0.9" />
<path d="M1295.75,909.3 C1298.75,907.4 1299.75,903.9 1300.75,899.7" fill="none" stroke="#000" stroke-width="0.9" />
<path d="M1315,909.3 C1318,907.4 1319,903.9 1320,899.7" fill="none" stroke="#000" stroke-width="0.9" />
<path d="M1334.25,909.3 C1337.25,907.4 1338.25,903.9 1339.25,899.7" fill="none" stroke="#000" stroke-width="0.9" />
<path d="M1353.5,909.3 C1356.5,907.4 1357.5,903.9 1358.5,899.7" fill="none" stroke="#000" stroke-width="0.9" />
<path d="M1372.75,909.3 C1375.75,907.4 1376.75,903.9 1377.75,899.7" fill="none" stroke="#000" stroke-width="0.9" />
<path d="M1392,909.3 C1395,907.4 1396,903.9 1397,899.7" fill="none" stroke="#000" stroke-width="0.9" />
<path d="M1411.25,909.3 C1414.25,907.4 1415.25,903.9 1416.25,899.7" fill="none" stroke="#000" stroke-width="0.9" />
<path d="M1430.5,909.3 C1433.5,907.4 1434.5,903.9 1435.5,899.7" fill="none" stroke="#000" stroke-width="0.9" />
<path d="M1449.75,909.3 C1452.75,907.4 1453.75,903.9 1454.75,899.7" fill="none" stroke="#000" stroke-width="0.9" />
<path d="M1469,909.3 C1472,907.4 1473,903.9 1474,899.7" fill="none" stroke="#000" stroke-width="0.9" />
<path d="M1488.25,909.3 C1491.25,907.4 1492.25,903.9 1493.25,899.7" fill="none" stroke="#000" stroke-width="0.9" />
<path d="M1507.5,909.3 C1510.5,907.4 1511.5,903.9 1512.5,899.7" fill="none" stroke="#000" stroke-width="0.9" />
<path d="M1526.75,909.3 C1529.75,907.4 1530.75,903.9 1531.75,899.7" fill="none" stroke="#000" stroke-width="0.9" />
<path d="M1546,909.3 C1549,907.4 1550,903.9 1551,899.7" fill="none" stroke="#000" stroke-width="0.9" />
<path d="M1565.25,909.3 C1568.25,907.4 1569.25,903.9 1570.25,899.7" fill="none" stroke="#000" stroke-width="0.9" />
<path d="M1584.5,909.3 C1587.5,907.4 1588.5,903.9 1589.5,899.7" fill="none" stroke="#000" stroke-width="0.9" />
<path d="M853.7,909.5 Q853.7,912.3 857.7,912.3 L1089.7,912.3 Q1093.7,912.3 1093.7,909.5" fill="none" stroke="#000" stroke-width="1.2" />
<path d="M1099,909.5 Q1099,912.3 1103,912.3 L1247.4,912.3 Q1251.4,912.3 1251.4,909.5" fill="none" stroke="#000" stroke-width="1.2" />
<path d="M1281,909.5 Q1281,912.3 1285,912.3 L1431.4,912.3 Q1435.4,912.3 1435.4,909.5" fill="none" stroke="#000" stroke-width="1.2" />
<path d="M1465,909.5 Q1465,912.3 1469,912.3 L1608,912.3 Q1612,912.3 1612,909.5" fill="none" stroke="#000" stroke-width="1.2" />
<path d="M503.5,910.5 L516.5,910.5 L516.5,908.4 L512.5,906.4 L512.5,899.9 L507.5,899.9 L507.5,906.4 L503.5,908.4 Z" fill="none" stroke="#000" stroke-width="1" />
<path d="M728.5,910.5 L741.5,910.5 L741.5,908.4 L737.5,906.4 L737.5,899.9 L732.5,899.9 L732.5,906.4 L728.5,908.4 Z" fill="none" stroke="#000" stroke-width="1" />
<path d="M886.8,910.5 L899.8,910.5 L899.8,908.4 L895.8,906.4 L895.8,899.9 L890.8,899.9 L890.8,906.4 L886.8,908.4 Z" fill="none" stroke="#000" stroke-width="1" />
<path d="M458.5,899.9 L458.5,906.9 Q458.5,908.2 461,908.2 L464,908.2 Q466.5,908.2 466.5,906.9 L466.5,899.9" fill="none" stroke="#000" stroke-width="1" />
<path d="M456.3,628.5 C440,660 425.3,720 425.3,763.6 C425.3,807 440,867 456.3,898.7" fill="none" stroke="#000" stroke-width="1" />
<path d="M460,628.5 C444,660 429,720 429,763.6 C429,807 444,867 460,898.7" fill="none" stroke="#000" stroke-width="1" />
<line x1="456.3" y1="628.5" x2="465" y2="628.5" stroke="#000" stroke-width="1"/>
<line x1="456.3" y1="898.5" x2="465" y2="898.5" stroke="#000" stroke-width="1"/>
<path d="M1607.6,626.5 C1622,655 1638.7,715 1638.7,763.6 C1638.7,812 1622,872 1607.6,900.7" fill="none" stroke="#000" stroke-width="1.2" />
<path d="M1604,629.5 C1618,657 1634,715 1634,763.6 C1634,812 1618,870 1604,897.7" fill="none" stroke="#000" stroke-width="1" />
<path d="M1600,614 L1616.2,614 Q1629.2,616 1629.2,641" fill="none" stroke="#000" stroke-width="1.6" />
<path d="M1619,641 L1629.2,641" fill="none" stroke="#000" stroke-width="1.6" />
<line x1="1632.5" y1="617.3" x2="1632.5" y2="689.7" stroke="#000" stroke-width="1"/>
<path d="M1624.9,641 L1628.1,641 L1628.1,676 L1626.5,676 Z" fill="#000"/>
<rect x="1601.5" y="634.5" width="5" height="14" fill="none" stroke="#000" stroke-width="1"/>
<path d="M1600,911.9 L1616.2,911.9 Q1629.2,909.9 1629.2,884.9" fill="none" stroke="#000" stroke-width="1.6" />
<path d="M1619,884.9 L1629.2,884.9" fill="none" stroke="#000" stroke-width="1.6" />
<line x1="1632.5" y1="908.6" x2="1632.5" y2="836.2" stroke="#000" stroke-width="1"/>
<path d="M1624.9,884.9 L1628.1,884.9 L1628.1,849.9 L1626.5,849.9 Z" fill="#000"/>
<rect x="1601.5" y="877.5" width="5" height="14" fill="none" stroke="#000" stroke-width="1"/>
<circle cx="1598" cy="650" r="0.7" fill="#000" stroke="#000" stroke-width="1"/>
<circle cx="1598" cy="673" r="0.7" fill="#000" stroke="#000" stroke-width="1"/>
<circle cx="1598" cy="696" r="0.7" fill="#000" stroke="#000" stroke-width="1"/>
<circle cx="1598" cy="719" r="0.7" fill="#000" stroke="#000" stroke-width="1"/>
<circle cx="1598" cy="742" r="0.7" fill="#000" stroke="#000" stroke-width="1"/>
<circle cx="1598" cy="765" r="0.7" fill="#000" stroke="#000" stroke-width="1"/>
<circle cx="1598" cy="788" r="0.7" fill="#000" stroke="#000" stroke-width="1"/>
<circle cx="1598" cy="811" r="0.7" fill="#000" stroke="#000" stroke-width="1"/>
<circle cx="1598" cy="834" r="0.7" fill="#000" stroke="#000" stroke-width="1"/>
<circle cx="1598" cy="857" r="0.7" fill="#000" stroke="#000" stroke-width="1"/>
<line x1="484.5" y1="626.4" x2="484.5" y2="900.8" stroke="#000" stroke-width="1"/>
<line x1="501.5" y1="626.4" x2="501.5" y2="900.8" stroke="#000" stroke-width="1"/>
<path d="M487.5,761.6 L489.5,756.6 L496.5,756.6 L498.5,761.6" fill="none" stroke="#000" stroke-width="0.9" />
<line x1="667.5" y1="626.4" x2="667.5" y2="900.8" stroke="#000" stroke-width="1"/>
<line x1="684.5" y1="626.4" x2="684.5" y2="900.8" stroke="#000" stroke-width="1"/>
<path d="M670.6,761.6 L672.6,756.6 L679.6,756.6 L681.6,761.6" fill="none" stroke="#000" stroke-width="0.9" />
<line x1="851.5" y1="626.4" x2="851.5" y2="900.8" stroke="#000" stroke-width="1"/>
<line x1="868.5" y1="626.4" x2="868.5" y2="900.8" stroke="#000" stroke-width="1"/>
<path d="M854.4,761.6 L856.4,756.6 L863.4,756.6 L865.4,761.6" fill="none" stroke="#000" stroke-width="0.9" />
<line x1="1023.5" y1="626.4" x2="1023.5" y2="900.8" stroke="#000" stroke-width="1"/>
<line x1="1040.5" y1="626.4" x2="1040.5" y2="900.8" stroke="#000" stroke-width="1"/>
<path d="M1026.5,761.6 L1028.5,756.6 L1035.5,756.6 L1037.5,761.6" fill="none" stroke="#000" stroke-width="0.9" />
<line x1="1195.5" y1="626.4" x2="1195.5" y2="900.8" stroke="#000" stroke-width="1"/>
<line x1="1212.5" y1="626.4" x2="1212.5" y2="900.8" stroke="#000" stroke-width="1"/>
<path d="M1198.7,761.6 L1200.7,756.6 L1207.7,756.6 L1209.7,761.6" fill="none" stroke="#000" stroke-width="0.9" />
<line x1="1379.5" y1="626.4" x2="1379.5" y2="900.8" stroke="#000" stroke-width="1"/>
<line x1="1395.5" y1="626.4" x2="1395.5" y2="900.8" stroke="#000" stroke-width="1"/>
<path d="M1382,761.6 L1384,756.6 L1391,756.6 L1393,761.6" fill="none" stroke="#000" stroke-width="0.9" />
<line x1="1562.5" y1="626.4" x2="1562.5" y2="900.8" stroke="#000" stroke-width="1"/>
<line x1="1579.5" y1="626.4" x2="1579.5" y2="900.8" stroke="#000" stroke-width="1"/>
<path d="M1565.3,761.6 L1567.3,756.6 L1574.3,756.6 L1576.3,761.6" fill="none" stroke="#000" stroke-width="0.9" />
<line x1="604.5" y1="631.2" x2="604.5" y2="896" stroke="#000" stroke-width="1"/>
<line x1="780.5" y1="631.2" x2="780.5" y2="896" stroke="#000" stroke-width="1"/>
<line x1="956.5" y1="631.2" x2="956.5" y2="896" stroke="#000" stroke-width="1"/>
<line x1="1294.5" y1="631.2" x2="1294.5" y2="896" stroke="#000" stroke-width="1"/>
<line x1="1458.5" y1="631.2" x2="1458.5" y2="896" stroke="#000" stroke-width="1"/>
<line x1="440" y1="758.5" x2="519.6" y2="758.5" stroke="#888" stroke-width="0.9"/>
<line x1="780.8" y1="758.5" x2="890.8" y2="758.5" stroke="#888" stroke-width="0.9"/>
<line x1="654.8" y1="767.5" x2="780.8" y2="767.5" stroke="#000" stroke-width="1"/>
<line x1="1000" y1="766.5" x2="1051.7" y2="766.5" stroke="#000" stroke-width="1"/>
<line x1="1127" y1="766.5" x2="1199" y2="766.5" stroke="#888" stroke-width="0.9"/>
<line x1="1315.6" y1="758.5" x2="1408.4" y2="758.5" stroke="#888" stroke-width="0.9"/>
<path d="M399,909 L399,619 Q399,616.5 401.5,616.5 L405,616.5 Q407.4,616.5 407.4,619 L407.4,906 Q407.4,909 405,909 Z" fill="none" stroke="#000" stroke-width="1.2" />
<line x1="399" y1="617" x2="399" y2="909" stroke="#000" stroke-width="2.8"/>
<line x1="407" y1="617" x2="407" y2="909" stroke="#000" stroke-width="2.4"/>
<line x1="383.8" y1="722" x2="383.8" y2="804.5" stroke="#000" stroke-width="3.5"/>
<rect x="364.5" y="697.5" width="66" height="25" fill="#fff" stroke="#000" stroke-width="2.6"/>
<rect x="364.5" y="803.5" width="66" height="25" fill="#fff" stroke="#000" stroke-width="2.6"/>
<line x1="430" y1="829.5" x2="449" y2="829.5" stroke="#888" stroke-width="1"/>
<rect x="421.5" y="754.5" width="3" height="17" fill="none" stroke="#000" stroke-width="1"/>
<rect x="528.5" y="703.5" width="118" height="119" fill="none" stroke="#000" stroke-width="0.8"/>
<rect x="520" y="707" width="135" height="111" fill="#fff" stroke="#000" stroke-width="1.8"/>
<rect x="523.5" y="709.5" width="129" height="106" fill="none" stroke="#000" stroke-width="1"/>
<rect x="528.5" y="716.5" width="118" height="91" fill="none" stroke="#000" stroke-width="1"/>
<line x1="528.8" y1="719" x2="646.3" y2="719" stroke="#000" stroke-width="1.5"/>
<line x1="528.8" y1="806" x2="646.3" y2="806" stroke="#000" stroke-width="1.5"/>
<line x1="523" y1="709.8" x2="528.8" y2="716.9" stroke="#000" stroke-width="0.8"/>
<line x1="652.3" y1="709.8" x2="646.3" y2="716.9" stroke="#000" stroke-width="0.8"/>
<line x1="523" y1="815.2" x2="528.8" y2="807.4" stroke="#000" stroke-width="0.8"/>
<line x1="652.3" y1="815.2" x2="646.3" y2="807.4" stroke="#000" stroke-width="0.8"/>
<rect x="537.5" y="721.5" width="5" height="82" fill="none" stroke="#000" stroke-width="1" rx="2.8"/>
<circle cx="601.3" cy="762.6" r="36.1" fill="none" stroke="#000" stroke-width="0.9" stroke-dasharray="12,1.5"/>
<circle cx="592.48" cy="731.84" r="1.1" fill="none" stroke="#000" stroke-width="0.9"/>
<circle cx="610.12" cy="731.84" r="1.1" fill="none" stroke="#000" stroke-width="0.9"/>
<circle cx="578.28" cy="740.37" r="1.1" fill="none" stroke="#000" stroke-width="0.9"/>
<circle cx="624.32" cy="740.37" r="1.1" fill="none" stroke="#000" stroke-width="0.9"/>
<circle cx="570.54" cy="753.78" r="1.1" fill="none" stroke="#000" stroke-width="0.9"/>
<circle cx="570.54" cy="771.42" r="1.1" fill="none" stroke="#000" stroke-width="0.9"/>
<circle cx="578.28" cy="784.83" r="1.1" fill="none" stroke="#000" stroke-width="0.9"/>
<circle cx="624.32" cy="784.83" r="1.1" fill="none" stroke="#000" stroke-width="0.9"/>
<circle cx="592.48" cy="793.36" r="1.1" fill="none" stroke="#000" stroke-width="0.9"/>
<circle cx="610.12" cy="793.36" r="1.1" fill="none" stroke="#000" stroke-width="0.9"/>
<circle cx="612.7" cy="762.9" r="20.1" fill="none" stroke="#000" stroke-width="1.6"/>
<circle cx="612.7" cy="762.9" r="18.3" fill="none" stroke="#000" stroke-width="0.8"/>
<rect x="607.5" y="736.5" width="11" height="52" fill="#fff" stroke="#000" stroke-width="1.2"/>
<line x1="607.2" y1="742.5" x2="618.6" y2="742.5" stroke="#000" stroke-width="0.8"/>
<line x1="607.2" y1="782.5" x2="618.6" y2="782.5" stroke="#000" stroke-width="0.8"/>
<circle cx="559.4" cy="742.4" r="9.2" fill="none" stroke="#000" stroke-width="1.4"/>
<circle cx="559.4" cy="742.4" r="5" fill="none" stroke="#000" stroke-width="1.4"/>
<circle cx="559.4" cy="742.4" r="3.2" fill="none" stroke="#000" stroke-width="0.8"/>
<line x1="551.5" y1="729" x2="566.7" y2="729" stroke="#000" stroke-width="2"/>
<path d="M555.5,729 L554.5,738 M562.5,729 L563.5,738" fill="none" stroke="#000" stroke-width="0.9" />
<path d="M543.5,818 L543.5,820 Q544.5,821.5 547.5,821.5 L557.5,821.5 Q560.5,821.5 561,820 L561,818" fill="none" stroke="#000" stroke-width="1.2" />
<rect x="898.5" y="703.5" width="118" height="119" fill="none" stroke="#000" stroke-width="0.8"/>
<rect x="890" y="707" width="134" height="111" fill="#fff" stroke="#000" stroke-width="1.8"/>
<rect x="892.5" y="709.5" width="129" height="106" fill="none" stroke="#000" stroke-width="1"/>
<rect x="898.5" y="716.5" width="117" height="91" fill="none" stroke="#000" stroke-width="1"/>
<line x1="898.3" y1="719" x2="1015.8" y2="719" stroke="#000" stroke-width="1.5"/>
<line x1="898.3" y1="806" x2="1015.8" y2="806" stroke="#000" stroke-width="1.5"/>
<line x1="892.5" y1="709.8" x2="898.3" y2="716.9" stroke="#000" stroke-width="0.8"/>
<line x1="1021.8" y1="709.8" x2="1015.8" y2="716.9" stroke="#000" stroke-width="0.8"/>
<line x1="892.5" y1="815.2" x2="898.3" y2="807.4" stroke="#000" stroke-width="0.8"/>
<line x1="1021.8" y1="815.2" x2="1015.8" y2="807.4" stroke="#000" stroke-width="0.8"/>
<rect x="906.5" y="721.5" width="6" height="82" fill="none" stroke="#000" stroke-width="1" rx="2.8"/>
<circle cx="970.8" cy="762.6" r="36.1" fill="none" stroke="#000" stroke-width="0.9" stroke-dasharray="12,1.5"/>
<circle cx="961.98" cy="731.84" r="1.1" fill="none" stroke="#000" stroke-width="0.9"/>
<circle cx="979.62" cy="731.84" r="1.1" fill="none" stroke="#000" stroke-width="0.9"/>
<circle cx="947.78" cy="740.37" r="1.1" fill="none" stroke="#000" stroke-width="0.9"/>
<circle cx="993.82" cy="740.37" r="1.1" fill="none" stroke="#000" stroke-width="0.9"/>
<circle cx="940.04" cy="753.78" r="1.1" fill="none" stroke="#000" stroke-width="0.9"/>
<circle cx="940.04" cy="771.42" r="1.1" fill="none" stroke="#000" stroke-width="0.9"/>
<circle cx="947.78" cy="784.83" r="1.1" fill="none" stroke="#000" stroke-width="0.9"/>
<circle cx="993.82" cy="784.83" r="1.1" fill="none" stroke="#000" stroke-width="0.9"/>
<circle cx="961.98" cy="793.36" r="1.1" fill="none" stroke="#000" stroke-width="0.9"/>
<circle cx="979.62" cy="793.36" r="1.1" fill="none" stroke="#000" stroke-width="0.9"/>
<circle cx="982.2" cy="762.9" r="20.1" fill="none" stroke="#000" stroke-width="1.6"/>
<circle cx="982.2" cy="762.9" r="18.3" fill="none" stroke="#000" stroke-width="0.8"/>
<rect x="976.5" y="736.5" width="12" height="52" fill="#fff" stroke="#000" stroke-width="1.2"/>
<line x1="976.7" y1="742.5" x2="988.1" y2="742.5" stroke="#000" stroke-width="0.8"/>
<line x1="976.7" y1="782.5" x2="988.1" y2="782.5" stroke="#000" stroke-width="0.8"/>
<circle cx="928.9" cy="742.4" r="9.2" fill="none" stroke="#000" stroke-width="1.4"/>
<circle cx="928.9" cy="742.4" r="5" fill="none" stroke="#000" stroke-width="1.4"/>
<circle cx="928.9" cy="742.4" r="3.2" fill="none" stroke="#000" stroke-width="0.8"/>
<line x1="921" y1="729" x2="936.2" y2="729" stroke="#000" stroke-width="2"/>
<path d="M925,729 L924,738 M932,729 L933,738" fill="none" stroke="#000" stroke-width="0.9" />
<path d="M913,818 L913,820 Q914,821.5 917,821.5 L927,821.5 Q930,821.5 930.5,820 L930.5,818" fill="none" stroke="#000" stroke-width="1.2" />
<rect x="1070.5" y="703.5" width="118" height="119" fill="none" stroke="#000" stroke-width="0.8"/>
<rect x="1063" y="707" width="134" height="111" fill="#fff" stroke="#000" stroke-width="1.8"/>
<rect x="1065.5" y="709.5" width="129" height="106" fill="none" stroke="#000" stroke-width="1"/>
<rect x="1071.5" y="716.5" width="117" height="91" fill="none" stroke="#000" stroke-width="1"/>
<line x1="1071" y1="719" x2="1188.5" y2="719" stroke="#000" stroke-width="1.5"/>
<line x1="1071" y1="806" x2="1188.5" y2="806" stroke="#000" stroke-width="1.5"/>
<line x1="1065.2" y1="709.8" x2="1071" y2="716.9" stroke="#000" stroke-width="0.8"/>
<line x1="1194.5" y1="709.8" x2="1188.5" y2="716.9" stroke="#000" stroke-width="0.8"/>
<line x1="1065.2" y1="815.2" x2="1071" y2="807.4" stroke="#000" stroke-width="0.8"/>
<line x1="1194.5" y1="815.2" x2="1188.5" y2="807.4" stroke="#000" stroke-width="0.8"/>
<rect x="1079.5" y="721.5" width="5" height="82" fill="none" stroke="#000" stroke-width="1" rx="2.8"/>
<circle cx="1143.5" cy="762.6" r="36.1" fill="none" stroke="#000" stroke-width="0.9" stroke-dasharray="12,1.5"/>
<circle cx="1134.68" cy="731.84" r="1.1" fill="none" stroke="#000" stroke-width="0.9"/>
<circle cx="1152.32" cy="731.84" r="1.1" fill="none" stroke="#000" stroke-width="0.9"/>
<circle cx="1120.48" cy="740.37" r="1.1" fill="none" stroke="#000" stroke-width="0.9"/>
<circle cx="1166.52" cy="740.37" r="1.1" fill="none" stroke="#000" stroke-width="0.9"/>
<circle cx="1112.74" cy="753.78" r="1.1" fill="none" stroke="#000" stroke-width="0.9"/>
<circle cx="1112.74" cy="771.42" r="1.1" fill="none" stroke="#000" stroke-width="0.9"/>
<circle cx="1120.48" cy="784.83" r="1.1" fill="none" stroke="#000" stroke-width="0.9"/>
<circle cx="1166.52" cy="784.83" r="1.1" fill="none" stroke="#000" stroke-width="0.9"/>
<circle cx="1134.68" cy="793.36" r="1.1" fill="none" stroke="#000" stroke-width="0.9"/>
<circle cx="1152.32" cy="793.36" r="1.1" fill="none" stroke="#000" stroke-width="0.9"/>
<circle cx="1154.9" cy="762.9" r="20.1" fill="none" stroke="#000" stroke-width="1.6"/>
<circle cx="1154.9" cy="762.9" r="18.3" fill="none" stroke="#000" stroke-width="0.8"/>
<rect x="1149.5" y="736.5" width="11" height="52" fill="#fff" stroke="#000" stroke-width="1.2"/>
<line x1="1149.4" y1="742.5" x2="1160.8" y2="742.5" stroke="#000" stroke-width="0.8"/>
<line x1="1149.4" y1="782.5" x2="1160.8" y2="782.5" stroke="#000" stroke-width="0.8"/>
<circle cx="1101.6" cy="742.4" r="9.2" fill="none" stroke="#000" stroke-width="1.4"/>
<circle cx="1101.6" cy="742.4" r="5" fill="none" stroke="#000" stroke-width="1.4"/>
<circle cx="1101.6" cy="742.4" r="3.2" fill="none" stroke="#000" stroke-width="0.8"/>
<line x1="1093.7" y1="729" x2="1108.9" y2="729" stroke="#000" stroke-width="2"/>
<path d="M1097.7,729 L1096.7,738 M1104.7,729 L1105.7,738" fill="none" stroke="#000" stroke-width="0.9" />
<path d="M1085.7,818 L1085.7,820 Q1086.7,821.5 1089.7,821.5 L1099.7,821.5 Q1102.7,821.5 1103.2,820 L1103.2,818" fill="none" stroke="#000" stroke-width="1.2" />
<rect x="1416.5" y="703.5" width="118" height="119" fill="none" stroke="#000" stroke-width="0.8"/>
<rect x="1409" y="707" width="134" height="111" fill="#fff" stroke="#000" stroke-width="1.8"/>
<rect x="1411.5" y="709.5" width="129" height="106" fill="none" stroke="#000" stroke-width="1"/>
<rect x="1416.5" y="716.5" width="118" height="91" fill="none" stroke="#000" stroke-width="1"/>
<line x1="1416.9" y1="719" x2="1534.4" y2="719" stroke="#000" stroke-width="1.5"/>
<line x1="1416.9" y1="806" x2="1534.4" y2="806" stroke="#000" stroke-width="1.5"/>
<line x1="1411.1" y1="709.8" x2="1416.9" y2="716.9" stroke="#000" stroke-width="0.8"/>
<line x1="1540.4" y1="709.8" x2="1534.4" y2="716.9" stroke="#000" stroke-width="0.8"/>
<line x1="1411.1" y1="815.2" x2="1416.9" y2="807.4" stroke="#000" stroke-width="0.8"/>
<line x1="1540.4" y1="815.2" x2="1534.4" y2="807.4" stroke="#000" stroke-width="0.8"/>
<rect x="1425.5" y="721.5" width="5" height="82" fill="none" stroke="#000" stroke-width="1" rx="2.8"/>
<circle cx="1489.4" cy="762.6" r="36.1" fill="none" stroke="#000" stroke-width="0.9" stroke-dasharray="12,1.5"/>
<circle cx="1480.58" cy="731.84" r="1.1" fill="none" stroke="#000" stroke-width="0.9"/>
<circle cx="1498.22" cy="731.84" r="1.1" fill="none" stroke="#000" stroke-width="0.9"/>
<circle cx="1466.38" cy="740.37" r="1.1" fill="none" stroke="#000" stroke-width="0.9"/>
<circle cx="1512.42" cy="740.37" r="1.1" fill="none" stroke="#000" stroke-width="0.9"/>
<circle cx="1458.64" cy="753.78" r="1.1" fill="none" stroke="#000" stroke-width="0.9"/>
<circle cx="1458.64" cy="771.42" r="1.1" fill="none" stroke="#000" stroke-width="0.9"/>
<circle cx="1466.38" cy="784.83" r="1.1" fill="none" stroke="#000" stroke-width="0.9"/>
<circle cx="1512.42" cy="784.83" r="1.1" fill="none" stroke="#000" stroke-width="0.9"/>
<circle cx="1480.58" cy="793.36" r="1.1" fill="none" stroke="#000" stroke-width="0.9"/>
<circle cx="1498.22" cy="793.36" r="1.1" fill="none" stroke="#000" stroke-width="0.9"/>
<circle cx="1500.8" cy="762.9" r="20.1" fill="none" stroke="#000" stroke-width="1.6"/>
<circle cx="1500.8" cy="762.9" r="18.3" fill="none" stroke="#000" stroke-width="0.8"/>
<rect x="1495.5" y="736.5" width="11" height="52" fill="#fff" stroke="#000" stroke-width="1.2"/>
<line x1="1495.3" y1="742.5" x2="1506.7" y2="742.5" stroke="#000" stroke-width="0.8"/>
<line x1="1495.3" y1="782.5" x2="1506.7" y2="782.5" stroke="#000" stroke-width="0.8"/>
<circle cx="1447.5" cy="742.4" r="9.2" fill="none" stroke="#000" stroke-width="1.4"/>
<circle cx="1447.5" cy="742.4" r="5" fill="none" stroke="#000" stroke-width="1.4"/>
<circle cx="1447.5" cy="742.4" r="3.2" fill="none" stroke="#000" stroke-width="0.8"/>
<line x1="1439.6" y1="729" x2="1454.8" y2="729" stroke="#000" stroke-width="2"/>
<path d="M1443.6,729 L1442.6,738 M1450.6,729 L1451.6,738" fill="none" stroke="#000" stroke-width="0.9" />
<path d="M1431.6,818 L1431.6,820 Q1432.6,821.5 1435.6,821.5 L1445.6,821.5 Q1448.6,821.5 1449.1,820 L1449.1,818" fill="none" stroke="#000" stroke-width="1.2" />
<rect x="1261.5" y="742.5" width="54" height="41" fill="none" stroke="#000" stroke-width="1.3"/>
<rect x="1285.5" y="757.5" width="6" height="11" fill="none" stroke="#000" stroke-width="1.2"/>
<rect x="1286.6" y="758.5" width="3.5" height="3" fill="#000"/>
<rect x="1286.6" y="763.5" width="3.5" height="3" fill="#000"/>
<rect x="1320.5" y="742.5" width="53" height="41" fill="none" stroke="#000" stroke-width="1.3"/>
<rect x="1344.5" y="757.5" width="5" height="11" fill="none" stroke="#000" stroke-width="1.2"/>
<rect x="1345.3" y="758.5" width="3.5" height="3" fill="#000"/>
<rect x="1345.3" y="763.5" width="3.5" height="3" fill="#000"/>
<rect x="715.5" y="696.5" width="25" height="13" fill="none" stroke="#000" stroke-width="1.2" rx="4"/>
<rect x="720.5" y="699.5" width="16" height="7" fill="none" stroke="#000" stroke-width="1"/>
<rect x="1324.5" y="696.5" width="25" height="13" fill="none" stroke="#000" stroke-width="1.2" rx="4"/>
<rect x="1329.5" y="699.5" width="16" height="7" fill="none" stroke="#000" stroke-width="1"/>
<rect x="715.5" y="816.5" width="25" height="13" fill="none" stroke="#000" stroke-width="1.2" rx="4"/>
<rect x="720.5" y="818.5" width="16" height="7" fill="none" stroke="#000" stroke-width="1"/>
<rect x="1324.5" y="816.5" width="25" height="13" fill="none" stroke="#000" stroke-width="1.2" rx="4"/>
<rect x="1329.5" y="818.5" width="16" height="7" fill="none" stroke="#000" stroke-width="1"/>
<rect x="472" y="830" width="1124" height="40" fill="#fff" stroke="#000" stroke-width="1.6"/>
<line x1="476" y1="832.5" x2="1596" y2="832.5" stroke="#000" stroke-width="1.2"/>
<path d="M471.7,830.3 L476,834 L476,870" fill="none" stroke="#000" stroke-width="1" />
<defs><pattern id="grt" x="477" y="833" width="7" height="9" patternUnits="userSpaceOnUse"><rect x="0" y="0" width="2" height="9" fill="#000"/><rect x="0" y="4" width="2" height="1" fill="#fff"/><rect x="3" y="0" width="1" height="9" fill="#000"/><rect x="3" y="8" width="1" height="1" fill="#fff"/><rect x="5" y="1" width="1" height="7" fill="#999"/></pattern></defs>
<rect x="477" y="833.2" width="1118.5" height="36.2" fill="url(#grt)"/>
<line x1="954" y1="831" x2="954" y2="870" stroke="#000" stroke-width="1.6"/>
<line x1="1056" y1="831" x2="1056" y2="870" stroke="#000" stroke-width="1.6"/>
<path d="M477.8,872 L477.8,876 L481.8,876" fill="none" stroke="#000" stroke-width="1" />
<path d="M613.5,872 L613.5,876 L617.5,876" fill="none" stroke="#000" stroke-width="1" />
<path d="M1216,872 L1216,876 L1220,876" fill="none" stroke="#000" stroke-width="1" />
<path d="M1392,872 L1392,876 L1396,876" fill="none" stroke="#000" stroke-width="1" />
<path d="M1560,872 L1560,876 L1564,876" fill="none" stroke="#000" stroke-width="1" />
<line x1="352" y1="872.5" x2="1600" y2="872.5" stroke="#000" stroke-width="1"/>
<rect x="1614.5" y="826.5" width="36" height="3" fill="#fff" stroke="#000" stroke-width="1" rx="1.5"/>
<rect x="1614.5" y="872.5" width="36" height="4" fill="#fff" stroke="#000" stroke-width="1" rx="1.5"/>
<line x1="1651.5" y1="829.4" x2="1651.5" y2="872.8" stroke="#000" stroke-width="1.2"/>
<rect x="1683.5" y="617.5" width="19" height="291" fill="none" stroke="#000" stroke-width="1.2"/>
<line x1="1686.5" y1="617.1" x2="1686.5" y2="908.4" stroke="#000" stroke-width="0.8"/>
<line x1="1701" y1="617.1" x2="1701" y2="908.4" stroke="#000" stroke-width="2"/>
<circle cx="1703" cy="628" r="0.8" fill="#000" stroke="#000" stroke-width="0"/>
<circle cx="1703" cy="645" r="0.8" fill="#000" stroke="#000" stroke-width="0"/>
<circle cx="1703" cy="662" r="0.8" fill="#000" stroke="#000" stroke-width="0"/>
<circle cx="1703" cy="679" r="0.8" fill="#000" stroke="#000" stroke-width="0"/>
<circle cx="1703" cy="696" r="0.8" fill="#000" stroke="#000" stroke-width="0"/>
<circle cx="1703" cy="713" r="0.8" fill="#000" stroke="#000" stroke-width="0"/>
<circle cx="1703" cy="730" r="0.8" fill="#000" stroke="#000" stroke-width="0"/>
<circle cx="1703" cy="747" r="0.8" fill="#000" stroke="#000" stroke-width="0"/>
<circle cx="1703" cy="764" r="0.8" fill="#000" stroke="#000" stroke-width="0"/>
<circle cx="1703" cy="781" r="0.8" fill="#000" stroke="#000" stroke-width="0"/>
<circle cx="1703" cy="798" r="0.8" fill="#000" stroke="#000" stroke-width="0"/>
<circle cx="1703" cy="815" r="0.8" fill="#000" stroke="#000" stroke-width="0"/>
<circle cx="1703" cy="832" r="0.8" fill="#000" stroke="#000" stroke-width="0"/>
<circle cx="1703" cy="849" r="0.8" fill="#000" stroke="#000" stroke-width="0"/>
<circle cx="1703" cy="866" r="0.8" fill="#000" stroke="#000" stroke-width="0"/>
<circle cx="1703" cy="883" r="0.8" fill="#000" stroke="#000" stroke-width="0"/>
<circle cx="1703" cy="900" r="0.8" fill="#000" stroke="#000" stroke-width="0"/>
<rect x="1633.5" y="697.5" width="63" height="24" fill="#fff" stroke="#000" stroke-width="1.2"/>
<rect x="1633.5" y="804.5" width="63" height="23" fill="#fff" stroke="#000" stroke-width="1.2"/>
<line x1="1678.5" y1="697" x2="1678.5" y2="721.4" stroke="#000" stroke-width="1"/>
<line x1="1678.5" y1="804" x2="1678.5" y2="827" stroke="#000" stroke-width="1"/>
<rect x="1686" y="721.4" width="10.6" height="82.6" fill="#fff" stroke="#fff" stroke-width="0"/>
<rect x="1645" y="723" width="21" height="35" fill="#fff" stroke="#000" stroke-width="1.6"/>
<rect x="1646" y="724.41" width="19" height="3.01" fill="#000"/>
<rect x="1646" y="729.67" width="19" height="6.02" fill="#000"/>
<rect x="1646" y="740.2" width="19" height="3.01" fill="#000"/>
<rect x="1646" y="745.46" width="19" height="7.52" fill="#000"/>
<path d="M1665.4,721.4 L1670,721.4 Q1676.4,721.4 1676.4,727.4 L1676.4,753 Q1676.4,759 1670,759 L1665.4,759 Z" fill="#fff" stroke="#000" stroke-width="2.2" />
<line x1="1671.5" y1="724.4" x2="1671.5" y2="756" stroke="#000" stroke-width="1"/>
<rect x="1645" y="771" width="21" height="33" fill="#fff" stroke="#000" stroke-width="1.6"/>
<rect x="1646" y="772.14" width="19" height="2.94" fill="#000"/>
<rect x="1646" y="777.27" width="19" height="5.87" fill="#000"/>
<rect x="1646" y="787.55" width="19" height="2.94" fill="#000"/>
<rect x="1646" y="792.69" width="19" height="7.34" fill="#000"/>
<path d="M1665.4,769.2 L1670,769.2 Q1676.4,769.2 1676.4,775.2 L1676.4,799.9 Q1676.4,805.9 1670,805.9 L1665.4,805.9 Z" fill="#fff" stroke="#000" stroke-width="2.2" />
<line x1="1671.5" y1="772.2" x2="1671.5" y2="802.9" stroke="#000" stroke-width="1"/>
<path d="M1647,720.4 L1638,720.4 L1638,806 L1647,806" fill="none" stroke="#000" stroke-width="2" />
<rect x="1640.5" y="740.5" width="3" height="50" fill="none" stroke="#000" stroke-width="0.8"/>
<line x1="1692.5" y1="721.4" x2="1692.5" y2="804" stroke="#000" stroke-width="1"/>
<line x1="1694.5" y1="721.4" x2="1694.5" y2="804" stroke="#000" stroke-width="0.8"/>
<line x1="1705" y1="763.6" x2="1722" y2="763.6" stroke="#000" stroke-width="2.4" stroke-dasharray="3,1.5"/>
<path d="M415.7,589.13 A202.5,202.5 0 0 0 396.2,925" fill="none" stroke="#000" stroke-width="1" />
<line x1="518.5" y1="763.6" x2="398.7" y2="579.8" stroke="#000" stroke-width="1"/>
<path d="M407.93,593.95 L422.28,610.86 L418.74,610.54 L417.59,613.91 Z" fill="#000" stroke="none"/>
<line x1="398.7" y1="579.5" x2="549.1" y2="579.5" stroke="#999" stroke-width="1.3"/>
<path d="M0,1 L0,0 L0.6,0 C0.88,0 1,0.12 1,0.26 C1,0.4 0.88,0.5 0.6,0.5 L0,0.5 M0.5,0.5 L1,1" transform="matrix(9.000,0,-7.456,23.300,418.756,544.500)" fill="none" stroke="#000" stroke-width="1.8" vector-effect="non-scaling-stroke" stroke-linecap="round" stroke-linejoin="round"/>
<path d="M0.1,0.27 L0.8,0 L0.8,1" transform="matrix(9.000,0,-7.456,23.300,431.456,544.500)" fill="none" stroke="#000" stroke-width="1.8" vector-effect="non-scaling-stroke" stroke-linecap="round" stroke-linejoin="round"/>
<path d="M-0.25,0.13 L-0.25,0 L1,0 L0.3,1" transform="matrix(9.000,0,-7.456,23.300,446.156,544.500)" fill="none" stroke="#000" stroke-width="1.8" vector-effect="non-scaling-stroke" stroke-linecap="round" stroke-linejoin="round"/>
<path d="M0.95,0 L0.2,0 L0.1,0.45 C0.3,0.4 0.45,0.39 0.6,0.39 C0.9,0.39 1,0.55 1,0.7 C1,0.9 0.8,1 0.5,1 L0.02,1" transform="matrix(9.000,0,-7.456,23.300,458.556,544.500)" fill="none" stroke="#000" stroke-width="1.8" vector-effect="non-scaling-stroke" stroke-linecap="round" stroke-linejoin="round"/>
<path d="M0,0.26 C0,0.1 0.2,0 0.5,0 C0.8,0 1,0.1 1,0.26 L1,0.74 C1,0.9 0.8,1 0.5,1 C0.2,1 0,0.9 0,0.74 Z" transform="matrix(9.000,0,-7.456,23.300,472.956,544.500)" fill="none" stroke="#000" stroke-width="1.8" vector-effect="non-scaling-stroke" stroke-linecap="round" stroke-linejoin="round"/>
<path d="M0,1 L0,0.3 L1.3,0.3 Q1.5,0.3 1.5,0.42 L1.5,1 M0.75,0.3 L0.75,1" transform="matrix(9.000,0,-7.456,23.300,496.756,544.500)" fill="none" stroke="#000" stroke-width="1.8" vector-effect="non-scaling-stroke" stroke-linecap="round" stroke-linejoin="round"/>
<path d="M1,0.3 L1,1 M1,1 L0.3,1 Q0,1 0,0.8 L0,0.52 Q0,0.3 0.3,0.3 L1,0.3" transform="matrix(9.000,0,-7.456,23.300,515.856,544.500)" fill="none" stroke="#000" stroke-width="1.8" vector-effect="non-scaling-stroke" stroke-linecap="round" stroke-linejoin="round"/>
<path d="M0,0.3 L1.13,1 M1.13,0.3 L0,1" transform="matrix(9.000,0,-7.456,23.300,527.556,544.500)" fill="none" stroke="#000" stroke-width="1.8" vector-effect="non-scaling-stroke" stroke-linecap="round" stroke-linejoin="round"/>
<path d="M703.32,547.51 A283.3,283.3 0 0 1 761.04,910" fill="none" stroke="#000" stroke-width="1" />
<line x1="518.5" y1="763.6" x2="798" y2="591.7" stroke="#000" stroke-width="1"/>
<path d="M759.81,615.19 L742.54,629.1 L742.95,625.56 L739.61,624.33 Z" fill="#000" stroke="none"/>
<line x1="798" y1="591.5" x2="946.5" y2="591.5" stroke="#999" stroke-width="1.3"/>
<path d="M0,1 L0,0 L0.6,0 C0.88,0 1,0.12 1,0.26 C1,0.4 0.88,0.5 0.6,0.5 L0,0.5 M0.5,0.5 L1,1" transform="matrix(9.000,0,-7.360,23.000,817.760,556.400)" fill="none" stroke="#000" stroke-width="1.8" vector-effect="non-scaling-stroke" stroke-linecap="round" stroke-linejoin="round"/>
<path d="M0.02,0.2 C0.12,0.07 0.3,0 0.52,0 C0.82,0 1,0.12 1,0.3 C1,0.48 0.8,0.58 0.55,0.68 C0.3,0.78 0.08,0.9 0,1 L0.85,1" transform="matrix(9.000,0,-7.360,23.000,832.360,556.400)" fill="none" stroke="#000" stroke-width="1.8" vector-effect="non-scaling-stroke" stroke-linecap="round" stroke-linejoin="round"/>
<path d="M0.78,1 L0.78,0 L0,0.68 L1,0.68" transform="matrix(9.000,0,-7.360,23.000,847.360,556.400)" fill="none" stroke="#000" stroke-width="1.8" vector-effect="non-scaling-stroke" stroke-linecap="round" stroke-linejoin="round"/>
<path d="M0,0.26 C0,0.1 0.2,0 0.5,0 C0.8,0 1,0.1 1,0.26 L1,0.74 C1,0.9 0.8,1 0.5,1 C0.2,1 0,0.9 0,0.74 Z" transform="matrix(9.000,0,-7.360,23.000,862.860,556.400)" fill="none" stroke="#000" stroke-width="1.8" vector-effect="non-scaling-stroke" stroke-linecap="round" stroke-linejoin="round"/>
<path d="M0,0.26 C0,0.1 0.2,0 0.5,0 C0.8,0 1,0.1 1,0.26 L1,0.74 C1,0.9 0.8,1 0.5,1 C0.2,1 0,0.9 0,0.74 Z" transform="matrix(9.000,0,-7.360,23.000,878.360,556.400)" fill="none" stroke="#000" stroke-width="1.8" vector-effect="non-scaling-stroke" stroke-linecap="round" stroke-linejoin="round"/>
<path d="M0,1 L0,0.3 L1.3,0.3 Q1.5,0.3 1.5,0.42 L1.5,1 M0.75,0.3 L0.75,1" transform="matrix(9.000,0,-7.360,23.000,902.460,556.400)" fill="none" stroke="#000" stroke-width="1.8" vector-effect="non-scaling-stroke" stroke-linecap="round" stroke-linejoin="round"/>
<path d="M0,0.3 L0,1 M0.1,0.05 L0.1,0.09" transform="matrix(9.000,0,-7.360,23.000,922.860,556.400)" fill="none" stroke="#000" stroke-width="1.8" vector-effect="non-scaling-stroke" stroke-linecap="round" stroke-linejoin="round"/>
<path d="M0,1 L0,0.3 L0.85,0.3 Q1,0.3 1,0.42 L1,1" transform="matrix(9.000,0,-7.360,23.000,927.860,556.400)" fill="none" stroke="#000" stroke-width="1.8" vector-effect="non-scaling-stroke" stroke-linecap="round" stroke-linejoin="round"/>
<line x1="424.7" y1="463.5" x2="1720" y2="463.5" stroke="#333" stroke-width="1"/>
<line x1="364.5" y1="283" x2="364.5" y2="546" stroke="#000" stroke-width="1"/>
<line x1="518.5" y1="309" x2="518.5" y2="525" stroke="#000" stroke-width="1"/>
<line x1="1175.5" y1="436" x2="1175.5" y2="525" stroke="#333" stroke-width="1"/>
<line x1="1358.5" y1="436" x2="1358.5" y2="525" stroke="#333" stroke-width="1"/>
<line x1="1541.5" y1="436" x2="1541.5" y2="525" stroke="#333" stroke-width="1"/>
<line x1="1703.5" y1="338" x2="1703.5" y2="545" stroke="#444" stroke-width="1"/>
<line x1="364.6" y1="378.5" x2="518.5" y2="378.5" stroke="#000" stroke-width="1"/>
<path d="M364.6,378.5 L387.6,375.3 L385.3,378.5 L387.6,381.7 Z" fill="#000" stroke="none"/>
<path d="M518.5,378.5 L495.5,381.7 L497.8,378.5 L495.5,375.3 Z" fill="#000" stroke="none"/>
<path d="M0.1,0.27 L0.8,0 L0.8,1" transform="matrix(9.000,0,-7.456,23.300,419.056,342.500)" fill="none" stroke="#000" stroke-width="1.8" vector-effect="non-scaling-stroke" stroke-linecap="round" stroke-linejoin="round"/>
<path d="M0.1,0.03 L0.55,0.01 C0.85,0.01 1,0.12 1,0.26 C1,0.4 0.85,0.47 0.45,0.48 C0.85,0.48 1,0.6 1,0.74 C1,0.9 0.8,1 0.45,1 L0.05,1" transform="matrix(9.000,0,-7.456,23.300,429.956,342.500)" fill="none" stroke="#000" stroke-width="1.8" vector-effect="non-scaling-stroke" stroke-linecap="round" stroke-linejoin="round"/>
<path d="M0,0.26 C0,0.1 0.2,0 0.5,0 C0.8,0 1,0.1 1,0.26 L1,0.74 C1,0.9 0.8,1 0.5,1 C0.2,1 0,0.9 0,0.74 Z" transform="matrix(9.000,0,-7.456,23.300,445.456,342.500)" fill="none" stroke="#000" stroke-width="1.8" vector-effect="non-scaling-stroke" stroke-linecap="round" stroke-linejoin="round"/>
<path d="M0,0.26 C0,0.1 0.2,0 0.5,0 C0.8,0 1,0.1 1,0.26 L1,0.74 C1,0.9 0.8,1 0.5,1 C0.2,1 0,0.9 0,0.74 Z" transform="matrix(9.000,0,-7.456,23.300,459.856,342.500)" fill="none" stroke="#000" stroke-width="1.8" vector-effect="non-scaling-stroke" stroke-linecap="round" stroke-linejoin="round"/>
<line x1="518.5" y1="515.5" x2="1703.2" y2="515.5" stroke="#000" stroke-width="1"/>
<path d="M518.5,515.8 L541.5,512.6 L539.2,515.8 L541.5,519 Z" fill="#000" stroke="none"/>
<path d="M1175.6,515.8 L1152.6,519 L1154.9,515.8 L1152.6,512.6 Z" fill="#000" stroke="none"/>
<path d="M1175.6,515.8 L1198.6,512.6 L1196.3,515.8 L1198.6,519 Z" fill="#000" stroke="none"/>
<path d="M1358.4,515.8 L1335.4,519 L1337.7,515.8 L1335.4,512.6 Z" fill="#000" stroke="none"/>
<path d="M1358.4,515.8 L1381.4,512.6 L1379.1,515.8 L1381.4,519 Z" fill="#000" stroke="none"/>
<path d="M1541.3,515.8 L1518.3,519 L1520.6,515.8 L1518.3,512.6 Z" fill="#000" stroke="none"/>
<path d="M1541.3,515.8 L1564.3,512.6 L1562,515.8 L1564.3,519 Z" fill="#000" stroke="none"/>
<path d="M1703.2,515.8 L1680.2,519 L1682.5,515.8 L1680.2,512.6 Z" fill="#000" stroke="none"/>
<path d="M0.95,0 L0.2,0 L0.1,0.45 C0.3,0.4 0.45,0.39 0.6,0.39 C0.9,0.39 1,0.55 1,0.7 C1,0.9 0.8,1 0.5,1 L0.02,1" transform="matrix(9.000,0,-7.520,23.500,935.820,479.900)" fill="none" stroke="#000" stroke-width="1.8" vector-effect="non-scaling-stroke" stroke-linecap="round" stroke-linejoin="round"/>
<path d="M0.95,0 L0.2,0 L0.1,0.45 C0.3,0.4 0.45,0.39 0.6,0.39 C0.9,0.39 1,0.55 1,0.7 C1,0.9 0.8,1 0.5,1 L0.02,1" transform="matrix(9.000,0,-7.520,23.500,949.020,479.900)" fill="none" stroke="#000" stroke-width="1.8" vector-effect="non-scaling-stroke" stroke-linecap="round" stroke-linejoin="round"/>
<path d="M0.95,0.08 C0.85,0.02 0.7,0 0.52,0 C0.2,0 0,0.15 0,0.4 L0,0.74 C0,0.9 0.2,1 0.5,1 C0.8,1 1,0.9 1,0.72 C1,0.55 0.8,0.45 0.5,0.45 C0.25,0.45 0.05,0.52 0,0.62" transform="matrix(9.000,0,-7.520,23.500,963.020,479.900)" fill="none" stroke="#000" stroke-width="1.8" vector-effect="non-scaling-stroke" stroke-linecap="round" stroke-linejoin="round"/>
<path d="M0,0.26 C0,0.1 0.2,0 0.5,0 C0.8,0 1,0.1 1,0.26 L1,0.74 C1,0.9 0.8,1 0.5,1 C0.2,1 0,0.9 0,0.74 Z" transform="matrix(9.000,0,-7.520,23.500,978.620,479.900)" fill="none" stroke="#000" stroke-width="1.8" vector-effect="non-scaling-stroke" stroke-linecap="round" stroke-linejoin="round"/>
<path d="M0.1,0.27 L0.8,0 L0.8,1" transform="matrix(9.000,0,-7.520,23.500,1245.520,479.900)" fill="none" stroke="#000" stroke-width="1.8" vector-effect="non-scaling-stroke" stroke-linecap="round" stroke-linejoin="round"/>
<path d="M0.95,0 L0.2,0 L0.1,0.45 C0.3,0.4 0.45,0.39 0.6,0.39 C0.9,0.39 1,0.55 1,0.7 C1,0.9 0.8,1 0.5,1 L0.02,1" transform="matrix(9.000,0,-7.520,23.500,1257.420,479.900)" fill="none" stroke="#000" stroke-width="1.8" vector-effect="non-scaling-stroke" stroke-linecap="round" stroke-linejoin="round"/>
<path d="M0.95,0 L0.2,0 L0.1,0.45 C0.3,0.4 0.45,0.39 0.6,0.39 C0.9,0.39 1,0.55 1,0.7 C1,0.9 0.8,1 0.5,1 L0.02,1" transform="matrix(9.000,0,-7.520,23.500,1270.620,479.900)" fill="none" stroke="#000" stroke-width="1.8" vector-effect="non-scaling-stroke" stroke-linecap="round" stroke-linejoin="round"/>
<path d="M0,0.26 C0,0.1 0.2,0 0.5,0 C0.8,0 1,0.1 1,0.26 L1,0.74 C1,0.9 0.8,1 0.5,1 C0.2,1 0,0.9 0,0.74 Z" transform="matrix(9.000,0,-7.520,23.500,1284.020,479.900)" fill="none" stroke="#000" stroke-width="1.8" vector-effect="non-scaling-stroke" stroke-linecap="round" stroke-linejoin="round"/>
<path d="M0.1,0.27 L0.8,0 L0.8,1" transform="matrix(9.000,0,-7.520,23.500,1428.320,479.900)" fill="none" stroke="#000" stroke-width="1.8" vector-effect="non-scaling-stroke" stroke-linecap="round" stroke-linejoin="round"/>
<path d="M0.95,0 L0.2,0 L0.1,0.45 C0.3,0.4 0.45,0.39 0.6,0.39 C0.9,0.39 1,0.55 1,0.7 C1,0.9 0.8,1 0.5,1 L0.02,1" transform="matrix(9.000,0,-7.520,23.500,1440.220,479.900)" fill="none" stroke="#000" stroke-width="1.8" vector-effect="non-scaling-stroke" stroke-linecap="round" stroke-linejoin="round"/>
<path d="M0.95,0 L0.2,0 L0.1,0.45 C0.3,0.4 0.45,0.39 0.6,0.39 C0.9,0.39 1,0.55 1,0.7 C1,0.9 0.8,1 0.5,1 L0.02,1" transform="matrix(9.000,0,-7.520,23.500,1453.420,479.900)" fill="none" stroke="#000" stroke-width="1.8" vector-effect="non-scaling-stroke" stroke-linecap="round" stroke-linejoin="round"/>
<path d="M0,0.26 C0,0.1 0.2,0 0.5,0 C0.8,0 1,0.1 1,0.26 L1,0.74 C1,0.9 0.8,1 0.5,1 C0.2,1 0,0.9 0,0.74 Z" transform="matrix(9.000,0,-7.520,23.500,1466.820,479.900)" fill="none" stroke="#000" stroke-width="1.8" vector-effect="non-scaling-stroke" stroke-linecap="round" stroke-linejoin="round"/>
<path d="M0.1,0.27 L0.8,0 L0.8,1" transform="matrix(9.000,0,-7.520,23.500,1600.120,479.900)" fill="none" stroke="#000" stroke-width="1.8" vector-effect="non-scaling-stroke" stroke-linecap="round" stroke-linejoin="round"/>
<path d="M0.1,0.03 L0.55,0.01 C0.85,0.01 1,0.12 1,0.26 C1,0.4 0.85,0.47 0.45,0.48 C0.85,0.48 1,0.6 1,0.74 C1,0.9 0.8,1 0.45,1 L0.05,1" transform="matrix(9.000,0,-7.520,23.500,1611.820,479.900)" fill="none" stroke="#000" stroke-width="1.8" vector-effect="non-scaling-stroke" stroke-linecap="round" stroke-linejoin="round"/>
<path d="M-0.25,0.13 L-0.25,0 L1,0 L0.3,1" transform="matrix(9.000,0,-7.520,23.500,1627.320,479.900)" fill="none" stroke="#000" stroke-width="1.8" vector-effect="non-scaling-stroke" stroke-linecap="round" stroke-linejoin="round"/>
<path d="M0,0.26 C0,0.1 0.2,0 0.5,0 C0.8,0 1,0.1 1,0.26 L1,0.74 C1,0.9 0.8,1 0.5,1 C0.2,1 0,0.9 0,0.74 Z" transform="matrix(9.000,0,-7.520,23.500,1640.920,479.900)" fill="none" stroke="#000" stroke-width="1.8" vector-effect="non-scaling-stroke" stroke-linecap="round" stroke-linejoin="round"/>
<line x1="364.6" y1="536.5" x2="1703.2" y2="536.5" stroke="#000" stroke-width="1"/>
<path d="M364.6,536.5 L387.6,533.3 L385.3,536.5 L387.6,539.7 Z" fill="#000" stroke="none"/>
<path d="M1703.2,536.5 L1680.2,539.7 L1682.5,536.5 L1680.2,533.3 Z" fill="#000" stroke="none"/>
<path d="M0.1,0.27 L0.8,0 L0.8,1" transform="matrix(9.000,0,-7.520,23.500,400.320,500.300)" fill="none" stroke="#000" stroke-width="1.8" vector-effect="non-scaling-stroke" stroke-linecap="round" stroke-linejoin="round"/>
<path d="M0.1,0.27 L0.8,0 L0.8,1" transform="matrix(9.000,0,-7.520,23.500,410.320,500.300)" fill="none" stroke="#000" stroke-width="1.8" vector-effect="non-scaling-stroke" stroke-linecap="round" stroke-linejoin="round"/>
<path d="M0.1,0.03 L0.55,0.01 C0.85,0.01 1,0.12 1,0.26 C1,0.4 0.85,0.47 0.45,0.48 C0.85,0.48 1,0.6 1,0.74 C1,0.9 0.8,1 0.45,1 L0.05,1" transform="matrix(9.000,0,-7.520,23.500,420.820,500.300)" fill="none" stroke="#000" stroke-width="1.8" vector-effect="non-scaling-stroke" stroke-linecap="round" stroke-linejoin="round"/>
<path d="M0.1,0.03 L0.55,0.01 C0.85,0.01 1,0.12 1,0.26 C1,0.4 0.85,0.47 0.45,0.48 C0.85,0.48 1,0.6 1,0.74 C1,0.9 0.8,1 0.45,1 L0.05,1" transform="matrix(9.000,0,-7.520,23.500,433.820,500.300)" fill="none" stroke="#000" stroke-width="1.8" vector-effect="non-scaling-stroke" stroke-linecap="round" stroke-linejoin="round"/>
<path d="M0,0.26 C0,0.1 0.2,0 0.5,0 C0.8,0 1,0.1 1,0.26 L1,0.74 C1,0.9 0.8,1 0.5,1 C0.2,1 0,0.9 0,0.74 Z" transform="matrix(9.000,0,-7.520,23.500,448.720,500.300)" fill="none" stroke="#000" stroke-width="1.8" vector-effect="non-scaling-stroke" stroke-linecap="round" stroke-linejoin="round"/>
<line x1="3.4" y1="463.5" x2="120" y2="463.5" stroke="#333" stroke-width="1"/>
<line x1="187" y1="463.5" x2="357" y2="463.5" stroke="#333" stroke-width="1"/>
<line x1="32.5" y1="406" x2="32.5" y2="505" stroke="#000" stroke-width="1"/>
<line x1="274.5" y1="406" x2="274.5" y2="505" stroke="#000" stroke-width="1"/>
<line x1="32.4" y1="494.5" x2="274.3" y2="494.5" stroke="#000" stroke-width="1"/>
<path d="M32.4,494.4 L55.4,491.2 L53.1,494.4 L55.4,497.6 Z" fill="#000" stroke="none"/>
<path d="M274.3,494.4 L251.3,497.6 L253.6,494.4 L251.3,491.2 Z" fill="#000" stroke="none"/>
<path d="M0.02,0.2 C0.12,0.07 0.3,0 0.52,0 C0.82,0 1,0.12 1,0.3 C1,0.48 0.8,0.58 0.55,0.68 C0.3,0.78 0.08,0.9 0,1 L0.85,1" transform="matrix(9.000,0,-7.296,22.800,130.296,459.600)" fill="none" stroke="#000" stroke-width="1.8" vector-effect="non-scaling-stroke" stroke-linecap="round" stroke-linejoin="round"/>
<path d="M0,0.26 C0,0.1 0.2,0 0.5,0 C0.8,0 1,0.1 1,0.26 L1,0.74 C1,0.9 0.8,1 0.5,1 C0.2,1 0,0.9 0,0.74 Z" transform="matrix(9.000,0,-7.296,22.800,145.896,459.600)" fill="none" stroke="#000" stroke-width="1.8" vector-effect="non-scaling-stroke" stroke-linecap="round" stroke-linejoin="round"/>
<path d="M0.95,0 L0.2,0 L0.1,0.45 C0.3,0.4 0.45,0.39 0.6,0.39 C0.9,0.39 1,0.55 1,0.7 C1,0.9 0.8,1 0.5,1 L0.02,1" transform="matrix(9.000,0,-7.296,22.800,159.796,459.600)" fill="none" stroke="#000" stroke-width="1.8" vector-effect="non-scaling-stroke" stroke-linecap="round" stroke-linejoin="round"/>
<path d="M0,0.26 C0,0.1 0.2,0 0.5,0 C0.8,0 1,0.1 1,0.26 L1,0.74 C1,0.9 0.8,1 0.5,1 C0.2,1 0,0.9 0,0.74 Z" transform="matrix(9.000,0,-7.296,22.800,173.896,459.600)" fill="none" stroke="#000" stroke-width="1.8" vector-effect="non-scaling-stroke" stroke-linecap="round" stroke-linejoin="round"/>
<line x1="3.5" y1="300" x2="3.5" y2="556" stroke="#000" stroke-width="1"/>
<line x1="303.5" y1="300" x2="303.5" y2="556" stroke="#000" stroke-width="1"/>
<line x1="3.6" y1="545.5" x2="303.4" y2="545.5" stroke="#000" stroke-width="1"/>
<path d="M3.6,545.9 L26.6,542.7 L24.3,545.9 L26.6,549.1 Z" fill="#000" stroke="none"/>
<path d="M303.4,545.9 L280.4,549.1 L282.7,545.9 L280.4,542.7 Z" fill="#000" stroke="none"/>
<path d="M0.02,0.2 C0.12,0.07 0.3,0 0.52,0 C0.82,0 1,0.12 1,0.3 C1,0.48 0.8,0.58 0.55,0.68 C0.3,0.78 0.08,0.9 0,1 L0.85,1" transform="matrix(9.000,0,-7.680,24.000,109.680,509.900)" fill="none" stroke="#000" stroke-width="1.8" vector-effect="non-scaling-stroke" stroke-linecap="round" stroke-linejoin="round"/>
<path d="M0.95,0 L0.2,0 L0.1,0.45 C0.3,0.4 0.45,0.39 0.6,0.39 C0.9,0.39 1,0.55 1,0.7 C1,0.9 0.8,1 0.5,1 L0.02,1" transform="matrix(9.000,0,-7.680,24.000,124.180,509.900)" fill="none" stroke="#000" stroke-width="1.8" vector-effect="non-scaling-stroke" stroke-linecap="round" stroke-linejoin="round"/>
<path d="M0.95,0 L0.2,0 L0.1,0.45 C0.3,0.4 0.45,0.39 0.6,0.39 C0.9,0.39 1,0.55 1,0.7 C1,0.9 0.8,1 0.5,1 L0.02,1" transform="matrix(9.000,0,-7.680,24.000,137.580,509.900)" fill="none" stroke="#000" stroke-width="1.8" vector-effect="non-scaling-stroke" stroke-linecap="round" stroke-linejoin="round"/>
<path d="M0,0.26 C0,0.1 0.2,0 0.5,0 C0.8,0 1,0.1 1,0.26 L1,0.74 C1,0.9 0.8,1 0.5,1 C0.2,1 0,0.9 0,0.74 Z" transform="matrix(9.000,0,-7.680,24.000,151.780,509.900)" fill="none" stroke="#000" stroke-width="1.8" vector-effect="non-scaling-stroke" stroke-linecap="round" stroke-linejoin="round"/>
<path d="M0,1 L0,0.3 L1.3,0.3 Q1.5,0.3 1.5,0.42 L1.5,1 M0.75,0.3 L0.75,1" transform="matrix(9.000,0,-7.680,24.000,165.580,509.900)" fill="none" stroke="#000" stroke-width="1.8" vector-effect="non-scaling-stroke" stroke-linecap="round" stroke-linejoin="round"/>
<path d="M1,0.3 L1,1 M1,1 L0.3,1 Q0,1 0,0.8 L0,0.52 Q0,0.3 0.3,0.3 L1,0.3" transform="matrix(9.000,0,-7.680,24.000,184.180,509.900)" fill="none" stroke="#000" stroke-width="1.8" vector-effect="non-scaling-stroke" stroke-linecap="round" stroke-linejoin="round"/>
<path d="M0,0.3 L1.13,1 M1.13,0.3 L0,1" transform="matrix(9.000,0,-7.680,24.000,196.780,509.900)" fill="none" stroke="#000" stroke-width="1.8" vector-effect="non-scaling-stroke" stroke-linecap="round" stroke-linejoin="round"/>
<line x1="153.6" y1="22.5" x2="357" y2="22.5" stroke="#000" stroke-width="1"/>
<line x1="346.5" y1="22.6" x2="346.5" y2="463.2" stroke="#000" stroke-width="1"/>
<path d="M346.8,22.6 L350,45.6 L346.8,43.3 L343.6,45.6 Z" fill="#000" stroke="none"/>
<path d="M346.8,463.2 L343.6,440.2 L346.8,442.5 L350,440.2 Z" fill="#000" stroke="none"/>
<g transform="translate(311.5,295.8) rotate(-90)">
<path d="M0.1,0.03 L0.55,0.01 C0.85,0.01 1,0.12 1,0.26 C1,0.4 0.85,0.47 0.45,0.48 C0.85,0.48 1,0.6 1,0.74 C1,0.9 0.8,1 0.45,1 L0.05,1" transform="matrix(9.000,0,-7.520,23.500,7.970,0.000)" fill="none" stroke="#000" stroke-width="1.8" vector-effect="non-scaling-stroke" stroke-linecap="round" stroke-linejoin="round"/>
<path d="M0.5,0.47 C0.15,0.47 0.05,0.37 0.05,0.24 C0.05,0.1 0.22,0 0.5,0 C0.78,0 0.95,0.1 0.95,0.24 C0.95,0.37 0.85,0.47 0.5,0.47 C0.15,0.47 0,0.58 0,0.74 C0,0.9 0.2,1 0.5,1 C0.8,1 1,0.9 1,0.74 C1,0.58 0.85,0.47 0.5,0.47 Z" transform="matrix(9.000,0,-7.520,23.500,21.470,0.000)" fill="none" stroke="#000" stroke-width="1.8" vector-effect="non-scaling-stroke" stroke-linecap="round" stroke-linejoin="round"/>
<path d="M0,0.26 C0,0.1 0.2,0 0.5,0 C0.8,0 1,0.1 1,0.26 L1,0.74 C1,0.9 0.8,1 0.5,1 C0.2,1 0,0.9 0,0.74 Z" transform="matrix(9.000,0,-7.520,23.500,35.670,0.000)" fill="none" stroke="#000" stroke-width="1.8" vector-effect="non-scaling-stroke" stroke-linecap="round" stroke-linejoin="round"/>
<path d="M0,0.26 C0,0.1 0.2,0 0.5,0 C0.8,0 1,0.1 1,0.26 L1,0.74 C1,0.9 0.8,1 0.5,1 C0.2,1 0,0.9 0,0.74 Z" transform="matrix(9.000,0,-7.520,23.500,50.070,0.000)" fill="none" stroke="#000" stroke-width="1.8" vector-effect="non-scaling-stroke" stroke-linecap="round" stroke-linejoin="round"/>
<path d="M0,1 L0,0.3 L1.3,0.3 Q1.5,0.3 1.5,0.42 L1.5,1 M0.75,0.3 L0.75,1" transform="matrix(9.000,0,-7.520,23.500,63.870,0.000)" fill="none" stroke="#000" stroke-width="1.8" vector-effect="non-scaling-stroke" stroke-linecap="round" stroke-linejoin="round"/>
<path d="M1,0.3 L1,1 M1,1 L0.3,1 Q0,1 0,0.8 L0,0.52 Q0,0.3 0.3,0.3 L1,0.3" transform="matrix(9.000,0,-7.520,23.500,82.470,0.000)" fill="none" stroke="#000" stroke-width="1.8" vector-effect="non-scaling-stroke" stroke-linecap="round" stroke-linejoin="round"/>
<path d="M0,0.3 L1.13,1 M1.13,0.3 L0,1" transform="matrix(9.000,0,-7.520,23.500,95.070,0.000)" fill="none" stroke="#000" stroke-width="1.8" vector-effect="non-scaling-stroke" stroke-linecap="round" stroke-linejoin="round"/>
</g>
</svg></body></html>
